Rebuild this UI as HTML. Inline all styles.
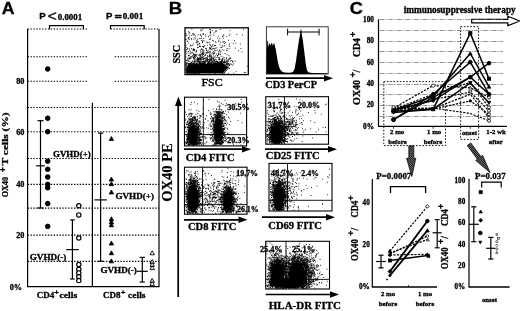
<!DOCTYPE html>
<html><head><meta charset="utf-8"><title>Figure</title>
<style>html,body{margin:0;padding:0;background:#fff;}svg{display:block;}</style></head>
<body><svg width="520" height="311" viewBox="0 0 520 311">
<rect x="0" y="0" width="520" height="311" fill="#fff"/>
<text x="1.8" y="14.2" font-size="16.5" font-family='"Liberation Sans", sans-serif' font-weight="bold" text-anchor="start" textLength="12.8" lengthAdjust="spacingAndGlyphs" stroke="#000" stroke-width="0.3">A</text>
<text x="39.3" y="19.3" font-size="9.6" font-family='"Liberation Sans", sans-serif' font-weight="bold" text-anchor="start" textLength="6.4" lengthAdjust="spacingAndGlyphs" stroke="#000" stroke-width="0.3">P</text>
<text x="47.6" y="21.4" font-size="15" font-family='"Liberation Sans", sans-serif' font-weight="normal" text-anchor="start" textLength="9.4" lengthAdjust="spacingAndGlyphs" stroke="#000" stroke-width="0.2">&lt;</text>
<text x="57.8" y="19.6" font-size="8.7" font-family='"Liberation Serif", serif' font-weight="bold" text-anchor="start" textLength="24.3" lengthAdjust="spacingAndGlyphs" stroke="#000" stroke-width="0.3">0.0001</text>
<text x="106" y="18.6" font-size="9.6" font-family='"Liberation Sans", sans-serif' font-weight="bold" text-anchor="start" textLength="6.4" lengthAdjust="spacingAndGlyphs" stroke="#000" stroke-width="0.3">P</text>
<text x="114.5" y="19.6" font-size="9.5" font-family='"Liberation Sans", sans-serif' font-weight="bold" text-anchor="start" textLength="7.4" lengthAdjust="spacingAndGlyphs" stroke="#000" stroke-width="0.3">=</text>
<text x="122.7" y="18.5" font-size="8.7" font-family='"Liberation Serif", serif' font-weight="bold" text-anchor="start" textLength="20.5" lengthAdjust="spacingAndGlyphs" stroke="#000" stroke-width="0.3">0.001</text>
<polyline points="49.5,29.3 49.5,25.7 83.4,25.7 83.4,29.3" fill="none" stroke="#000" stroke-width="1.2"/>
<polyline points="110.5,29.3 110.5,25.7 144.2,25.7 144.2,29.3" fill="none" stroke="#000" stroke-width="1.2"/>
<line x1="27.60" y1="261.40" x2="159.00" y2="261.40" stroke="#000" stroke-width="1.1" stroke-dasharray="1.4 1.5"/>
<line x1="27.60" y1="235.10" x2="159.00" y2="235.10" stroke="#000" stroke-width="1.1" stroke-dasharray="1.4 1.5"/>
<line x1="27.60" y1="208.10" x2="159.00" y2="208.10" stroke="#000" stroke-width="1.1" stroke-dasharray="1.4 1.5"/>
<line x1="27.60" y1="184.40" x2="159.00" y2="184.40" stroke="#000" stroke-width="1.1" stroke-dasharray="1.4 1.5"/>
<line x1="27.60" y1="158.50" x2="159.00" y2="158.50" stroke="#000" stroke-width="1.1" stroke-dasharray="1.4 1.5"/>
<line x1="27.60" y1="131.70" x2="159.00" y2="131.70" stroke="#000" stroke-width="1.1" stroke-dasharray="1.4 1.5"/>
<line x1="27.60" y1="107.50" x2="159.00" y2="107.50" stroke="#000" stroke-width="1.1" stroke-dasharray="1.4 1.5"/>
<line x1="27.60" y1="81.30" x2="88.00" y2="81.30" stroke="#000" stroke-width="1.1" stroke-dasharray="1.4 1.5"/>
<line x1="114.70" y1="81.30" x2="159.00" y2="81.30" stroke="#000" stroke-width="1.1" stroke-dasharray="1.4 1.5"/>
<line x1="27.60" y1="56.80" x2="88.00" y2="56.80" stroke="#000" stroke-width="1.1" stroke-dasharray="1.4 1.5"/>
<line x1="114.70" y1="56.80" x2="159.00" y2="56.80" stroke="#000" stroke-width="1.1" stroke-dasharray="1.4 1.5"/>
<line x1="27.60" y1="29.00" x2="87.00" y2="29.00" stroke="#000" stroke-width="1.1" stroke-dasharray="1.4 1.5"/>
<line x1="110.50" y1="29.00" x2="159.00" y2="29.00" stroke="#000" stroke-width="1.1" stroke-dasharray="1.4 1.5"/>
<line x1="27.60" y1="29.00" x2="27.60" y2="286.60" stroke="#000" stroke-width="1.2"/>
<line x1="159.00" y1="29.00" x2="159.00" y2="286.60" stroke="#000" stroke-width="1.2"/>
<line x1="27.10" y1="286.60" x2="159.50" y2="286.60" stroke="#000" stroke-width="1.4"/>
<line x1="92.40" y1="102.70" x2="92.40" y2="286.60" stroke="#000" stroke-width="1.2"/>
<text x="24.5" y="84.3" font-size="9" font-family='"Liberation Serif", serif' font-weight="bold" text-anchor="end" textLength="8.3" lengthAdjust="spacingAndGlyphs" stroke="#000" stroke-width="0.3">80</text>
<text x="24.5" y="134.7" font-size="9" font-family='"Liberation Serif", serif' font-weight="bold" text-anchor="end" textLength="8.3" lengthAdjust="spacingAndGlyphs" stroke="#000" stroke-width="0.3">60</text>
<text x="24.5" y="187.4" font-size="9" font-family='"Liberation Serif", serif' font-weight="bold" text-anchor="end" textLength="8.3" lengthAdjust="spacingAndGlyphs" stroke="#000" stroke-width="0.3">40</text>
<text x="24.5" y="238.1" font-size="9" font-family='"Liberation Serif", serif' font-weight="bold" text-anchor="end" textLength="8.3" lengthAdjust="spacingAndGlyphs" stroke="#000" stroke-width="0.3">20</text>
<text x="22" y="289.6" font-size="9" font-family='"Liberation Serif", serif' font-weight="bold" text-anchor="end" textLength="12.3" lengthAdjust="spacingAndGlyphs" stroke="#000" stroke-width="0.3">0%</text>
<text x="8.1" y="197.3" font-size="8.6" font-family='"Liberation Serif", serif' font-weight="bold" text-anchor="start" transform="rotate(-90 8.1 197.3)" textLength="20.3" lengthAdjust="spacingAndGlyphs" stroke="#000" stroke-width="0.3">OX40</text>
<text x="5.5" y="172" font-size="8.5" font-family='"Liberation Sans", sans-serif' font-weight="bold" text-anchor="start" transform="rotate(-90 5.5 172)" stroke="#000" stroke-width="0.3">+</text>
<text x="8.1" y="165.4" font-size="8.6" font-family='"Liberation Serif", serif' font-weight="bold" text-anchor="start" transform="rotate(-90 8.1 165.4)" textLength="53" lengthAdjust="spacingAndGlyphs" stroke="#000" stroke-width="0.3">T cells (%)</text>
<circle cx="47.70" cy="69.00" r="2.3" fill="#000" stroke="#000" stroke-width="1"/>
<circle cx="47.70" cy="118.20" r="2.3" fill="#000" stroke="#000" stroke-width="1"/>
<circle cx="47.70" cy="131.70" r="2.3" fill="#000" stroke="#000" stroke-width="1"/>
<circle cx="47.70" cy="161.20" r="2.3" fill="#000" stroke="#000" stroke-width="1"/>
<circle cx="47.70" cy="169.30" r="2.3" fill="#000" stroke="#000" stroke-width="1"/>
<circle cx="47.70" cy="177.00" r="2.3" fill="#000" stroke="#000" stroke-width="1"/>
<circle cx="47.70" cy="184.40" r="2.3" fill="#000" stroke="#000" stroke-width="1"/>
<circle cx="47.70" cy="187.80" r="2.3" fill="#000" stroke="#000" stroke-width="1"/>
<circle cx="47.70" cy="203.60" r="2.3" fill="#000" stroke="#000" stroke-width="1"/>
<circle cx="47.70" cy="226.40" r="2.3" fill="#000" stroke="#000" stroke-width="1"/>
<line x1="40.50" y1="120.70" x2="40.50" y2="208.00" stroke="#000" stroke-width="1.2"/>
<line x1="37.50" y1="120.70" x2="43.50" y2="120.70" stroke="#000" stroke-width="1.2"/>
<line x1="37.50" y1="208.00" x2="43.50" y2="208.00" stroke="#000" stroke-width="1.2"/>
<line x1="36.10" y1="165.80" x2="44.90" y2="165.80" stroke="#000" stroke-width="1.2"/>
<text x="53" y="156.9" font-size="8.8" font-family='"Liberation Serif", serif' font-weight="bold" text-anchor="start" textLength="37.7" lengthAdjust="spacingAndGlyphs" stroke="#000" stroke-width="0.3">GVHD(+)</text>
<circle cx="78.80" cy="205.80" r="2.15" fill="#fff" stroke="#000" stroke-width="1.2"/>
<circle cx="78.80" cy="214.90" r="2.15" fill="#fff" stroke="#000" stroke-width="1.2"/>
<circle cx="78.80" cy="238.00" r="2.15" fill="#fff" stroke="#000" stroke-width="1.2"/>
<circle cx="78.80" cy="264.50" r="2.15" fill="#fff" stroke="#000" stroke-width="1.2"/>
<circle cx="78.80" cy="269.20" r="2.15" fill="#fff" stroke="#000" stroke-width="1.2"/>
<circle cx="78.80" cy="272.90" r="2.15" fill="#fff" stroke="#000" stroke-width="1.2"/>
<circle cx="78.80" cy="276.70" r="2.15" fill="#fff" stroke="#000" stroke-width="1.2"/>
<circle cx="78.80" cy="280.60" r="2.15" fill="#fff" stroke="#000" stroke-width="1.2"/>
<line x1="72.40" y1="219.90" x2="72.40" y2="279.00" stroke="#000" stroke-width="1.2"/>
<line x1="70.10" y1="219.90" x2="74.70" y2="219.90" stroke="#000" stroke-width="1.2"/>
<line x1="70.10" y1="279.00" x2="74.70" y2="279.00" stroke="#000" stroke-width="1.2"/>
<line x1="66.10" y1="249.60" x2="78.70" y2="249.60" stroke="#000" stroke-width="1.2"/>
<text x="29.7" y="259.7" font-size="8.8" font-family='"Liberation Serif", serif' font-weight="bold" text-anchor="start" textLength="36.7" lengthAdjust="spacingAndGlyphs" stroke="#000" stroke-width="0.3">GVHD(-)</text>
<polygon points="111.40,136.50 109.20,140.46 113.60,140.46" fill="#000" stroke="#000" stroke-width="0.8"/>
<polygon points="111.40,177.10 109.20,181.06 113.60,181.06" fill="#000" stroke="#000" stroke-width="0.8"/>
<polygon points="111.40,181.70 109.20,185.66 113.60,185.66" fill="#000" stroke="#000" stroke-width="0.8"/>
<polygon points="111.40,190.00 109.20,193.96 113.60,193.96" fill="#000" stroke="#000" stroke-width="0.8"/>
<polygon points="111.40,216.80 109.20,220.76 113.60,220.76" fill="#000" stroke="#000" stroke-width="0.8"/>
<polygon points="111.40,219.80 109.20,223.76 113.60,223.76" fill="#000" stroke="#000" stroke-width="0.8"/>
<polygon points="111.40,222.80 109.20,226.76 113.60,226.76" fill="#000" stroke="#000" stroke-width="0.8"/>
<polygon points="111.40,241.10 109.20,245.06 113.60,245.06" fill="#000" stroke="#000" stroke-width="0.8"/>
<polygon points="111.40,250.80 109.20,254.76 113.60,254.76" fill="#000" stroke="#000" stroke-width="0.8"/>
<polygon points="111.40,258.90 109.20,262.86 113.60,262.86" fill="#000" stroke="#000" stroke-width="0.8"/>
<line x1="100.60" y1="133.10" x2="100.60" y2="261.30" stroke="#000" stroke-width="1.2"/>
<line x1="98.00" y1="133.10" x2="103.20" y2="133.10" stroke="#000" stroke-width="1.2"/>
<line x1="98.00" y1="261.30" x2="103.20" y2="261.30" stroke="#000" stroke-width="1.2"/>
<line x1="94.40" y1="199.90" x2="106.80" y2="199.90" stroke="#000" stroke-width="1.2"/>
<text x="115.5" y="198.6" font-size="8.8" font-family='"Liberation Serif", serif' font-weight="bold" text-anchor="start" textLength="38.4" lengthAdjust="spacingAndGlyphs" stroke="#000" stroke-width="0.3">GVHD(+)</text>
<polygon points="152.20,250.80 150.00,254.76 154.40,254.76" fill="#fff" stroke="#000" stroke-width="0.9"/>
<polygon points="152.20,259.50 150.00,263.46 154.40,263.46" fill="#fff" stroke="#000" stroke-width="0.9"/>
<polygon points="152.20,262.40 150.00,266.36 154.40,266.36" fill="#fff" stroke="#000" stroke-width="0.9"/>
<polygon points="152.20,265.70 150.00,269.66 154.40,269.66" fill="#fff" stroke="#000" stroke-width="0.9"/>
<polygon points="152.20,278.40 150.00,282.36 154.40,282.36" fill="#fff" stroke="#000" stroke-width="0.9"/>
<polygon points="152.20,281.40 150.00,285.36 154.40,285.36" fill="#fff" stroke="#000" stroke-width="0.9"/>
<line x1="142.30" y1="257.40" x2="142.30" y2="282.00" stroke="#000" stroke-width="1.2"/>
<line x1="139.70" y1="257.40" x2="144.90" y2="257.40" stroke="#000" stroke-width="1.2"/>
<line x1="139.70" y1="282.00" x2="144.90" y2="282.00" stroke="#000" stroke-width="1.2"/>
<line x1="136.80" y1="271.30" x2="147.80" y2="271.30" stroke="#000" stroke-width="1.2"/>
<text x="100.4" y="273.3" font-size="8.8" font-family='"Liberation Serif", serif' font-weight="bold" text-anchor="start" textLength="36.5" lengthAdjust="spacingAndGlyphs" stroke="#000" stroke-width="0.3">GVHD(-)</text>
<text x="36.7" y="298.3" font-size="9.2" font-family='"Liberation Serif", serif' font-weight="bold" text-anchor="start" textLength="17.5" lengthAdjust="spacingAndGlyphs" stroke="#000" stroke-width="0.3">CD4</text>
<text x="54.3" y="295.3" font-size="8" font-family='"Liberation Sans", sans-serif' font-weight="bold" text-anchor="start" stroke="#000" stroke-width="0.2">+</text>
<text x="59.5" y="298.3" font-size="9.2" font-family='"Liberation Serif", serif' font-weight="bold" text-anchor="start" textLength="17.7" lengthAdjust="spacingAndGlyphs" stroke="#000" stroke-width="0.3">cells</text>
<text x="103" y="298.3" font-size="9.2" font-family='"Liberation Serif", serif' font-weight="bold" text-anchor="start" textLength="17.5" lengthAdjust="spacingAndGlyphs" stroke="#000" stroke-width="0.3">CD8</text>
<text x="120.8" y="295.3" font-size="8" font-family='"Liberation Sans", sans-serif' font-weight="bold" text-anchor="start" stroke="#000" stroke-width="0.2">+</text>
<text x="128" y="298.3" font-size="9.2" font-family='"Liberation Serif", serif' font-weight="bold" text-anchor="start" textLength="17.5" lengthAdjust="spacingAndGlyphs" stroke="#000" stroke-width="0.3">cells</text>
<text x="168.8" y="14" font-size="16.3" font-family='"Liberation Sans", sans-serif' font-weight="bold" text-anchor="start" textLength="13.4" lengthAdjust="spacingAndGlyphs" stroke="#000" stroke-width="0.3">B</text>
<line x1="178.20" y1="104.00" x2="178.20" y2="297.00" stroke="#000" stroke-width="1.7"/>
<polygon points="178.4,96.5 175,106 181.9,106" fill="#000"/>
<text x="172.5" y="201.7" font-size="15.3" font-family='"Liberation Serif", serif' font-weight="bold" text-anchor="start" transform="rotate(-90 172.5 201.7)" textLength="58.5" lengthAdjust="spacingAndGlyphs" stroke="#000" stroke-width="0.2">OX40 PE</text>
<text x="180.3" y="63.6" font-size="9.3" font-family='"Liberation Serif", serif' font-weight="bold" text-anchor="start" transform="rotate(-90 180.3 63.6)" textLength="18.6" lengthAdjust="spacingAndGlyphs" stroke="#000" stroke-width="0.3">SSC</text>
<text x="201.5" y="86" font-size="11" font-family='"Liberation Serif", serif' font-weight="normal" text-anchor="start" textLength="21.2" lengthAdjust="spacingAndGlyphs" stroke="#000" stroke-width="0.4">FSC</text>
<polygon points="186.5,66.5 196,64.8 210,64.5 222,61.8 229.6,67.3 224,73.4 186.5,73.4" fill="#000"/>
<path transform="scale(.1)" d="m1855 354h9m-9 301h9m-9 35h9m-8-87h9m-9 42h9m-9 63h9m-8-233h9m-9 22h9m-9 132h9m-9 19h9m-8 46h9m-8-157h9m-9 131h9m-9 22h9m-9 4h9m-9 30h9m-8-120h9m-7 33h9m-9 16h9m-9 41h9m-9 26h9m-8-368h9m-8 286h9m-9 57h9m-9 13h9m-9 32h9m-8-245h9m-9 172h9m-9 50h9m-8-9h9m-9 5h9m-9 28h9m-8-220h9m-9 161h9m-9 39h9m-8-309h9m-9 209h9m-9 10h9m-9 67h9m-9 11h9m-8 23h9m-8-319h9m-9 188h9m-9 93h9m-8 32h9m-8-244h9m-9 186h9m-9 22h9m-9 13h9m-8-115h9m-9 105h9m-8-206h9m-9 178h9m-8-6h9m-9 22h9m-9 29h9m-8-67h9m-8-256h9m-9 202h9m-9 48h9m-9 36h9m-8-8h9m-8-113h9m-9 113h9m-9 21h9m-9 3h9m-8-45h9m-9 39h9m-8-168h9m-9 142h9m-9 32h9m-9 18h9m-8-328h9m-9 3h9m-9 49h9m-9 124h9m-9 48h9m-9 31h9m-9 21h9m-9 2h9m-9 13h9m-8-354h9m-9 381h9m-9 22h9m-8-150h9m-9 44h9m-9 71h9m-9 15h9m-9 19h9m-8-107h9m-9 41h9m-9 1h9m-9 7h9m-9 10h9m-9 46h9m-9 12h9m-8-79h9m-8-323h9m-9 24h9m-9 181h9m-8-160h9m-9 23h9m-9 195h9m-9 64h9m-9 25h9m-8-122h9m-9 79h9m-9 26h9m-9 18h9m-9 8h9m-9 33h9m-9 11h9m-8-146h9m-9 90h9m-9 4h9m-9 15h9m-9 36h9m-8-241h9m-9 214h9m-8-51h9m-9 8h9m-8-156h9m-9 81h9m-9 50h9m-9 6h9m-9 6h9m-9 19h9m-9 46h9m-9 4h9m-8-385h9m-9 246h9m-9 76h9m-9 36h9m-9 30h9m-8-83h9m-9 20h9m-9 0h9m-8 44h9m-8 9h9m-8-70h9m-9 13h9m-9 3h9m-8-194h9m-9 212h9m-9 17h9m-9 14h9m-9 2h9m-8-125h9m-9 57h9m-9 13h9m-9 23h9m-9 1h9m-9 9h9m-9 27h9m-8-261h9m-9 213h9m-9 13h9m-9 3h9m-8-106h9m-9 96h9m-9 23h9m-8-174h9m-9 21h9m-9 98h9m-9 42h9m-9 41h9m-8-27h9m-9 20h9m-9 1h9m-8-126h9m-9 87h9m-9 39h9m-9 7h9m-8-97h9m-9 0h9m-9 43h9m-9 7h9m-9 50h9m-8-267h9m-9 113h9m-9 53h9m-9 24h9m-9 48h9m-8-166h9m-9 126h9m-9 10h9m-9 6h9m-9 34h9m-8-139h9m-9 78h9m-9 2h9m-9 7h9m-9 12h9m-9 47h9m-8-226h9m-9 141h9m-9 49h9m-9 4h9m-9 13h9m-9 13h9m-9 14h9m-8-334h9m-9 247h9m-9 29h9m-9 5h9m-9 21h9m-9 22h9m-9 16h9m-9 9h9m-8-381h9m-9 298h9m-9 10h9m-9 14h9m-9 25h9m-8-304h9m-9 267h9m-9 40h9m-8-413h9m-9 362h9m-9 17h9m-9 28h9m-9 25h9m-8-31h9m-9 11h9m-9 2h9m-9 34h9m-8-75h9m-9 55h9m-9 13h9m-8-204h9m-9 109h9m-9 54h9m-9 15h9m-8-89h9m-9 54h9m-9 6h9m-9 34h9m-8-142h9m-9 68h9m-9 69h9m-8-368h9m-9 116h9m-8 158h9m-9 32h9m-9 16h9m-9 1h9m-9 26h9m-8-18h9m-9 2h9m-9 0h9m-9 2h9m-9 10h9m-9 4h9m-9 35h9m-8-165h9m-8-50h9m-9 129h9m-9 21h9m-9 35h9m-9 28h9m-8-193h9m-9 124h9m-9 30h9m-9 19h9m-9 3h9m-9 6h9m-9 7h9m-8-10h9m-9 17h9m-8-51h9m-9 3h9m-9 3h9m-8-192h9m-9 137h9m-9 75h9m-9 6h9m-9 10h9m-8-363h9m-9 145h9m-9 79h9m-9 71h9m-9 6h9m-9 9h9m-9 0h9m-9 49h9m-8-75h9m-9 0h9m-9 14h9m-9 25h9m-9 19h9m-8-355h9m-9 163h9m-9 145h9m-9 1h9m-9 34h9m-9 3h9m-9 2h9m-9 1h9m-9 2h9m-8-250h9m-9 235h9m-9 67h9m-8-241h9m-9 79h9m-9 61h9m-9 2h9m-9 49h9m-9 4h9m-9 4h9m-9 1h9m-8-310h9m-9 153h9m-9 5h9m-9 15h9m-9 13h9m-9 6h9m-9 97h9m-9 1h9m-9 58h9m-8-240h9m-9 43h9m-9 9h9m-9 39h9m-9 97h9m-9 8h9m-9 20h9m-8-100h9m-9 29h9m-9 87h9m-8-181h9m-9 40h9m-9 79h9m-9 6h9m-9 25h9m-9 9h9m-8-81h9m-9 33h9m-9 0h9m-9 7h9m-9 48h9m-8-220h9m-9 75h9m-9 19h9m-9 14h9m-9 15h9m-9 70h9m-9 43h9m-8-229h9m-9 62h9m-9 76h9m-9 26h9m-9 8h9m-9 46h9m-9 17h9m-8-89h9m-9 23h9m-9 15h9m-9 8h9m-8-348h9m-9 154h9m-9 70h9m-9 92h9m-9 13h9m-9 1h9m-9 43h9m-8-108h9m-9 3h9m-9 19h9m-9 92h9m-9 9h9m-8-356h9m-9 179h9m-9 125h9m-8-119h9m-9 80h9m-9 67h9m-9 25h9m-8-194h9m-9 116h9m-9 46h9m-9 11h9m-8-68h9m-9 37h9m-9 22h9m-9 4h9m-8-56h9m-9 15h9m-9 6h9m-9 1h9m-8-316h9m-9 196h9m-9 66h9m-9 21h9m-9 49h9m-9 16h9m-8-130h9m-9 71h9m-8 42h9m-8-142h9m-9 138h9m-8-88h9m-9 41h9m-9 4h9m-8-255h9m-9 163h9m-9 109h9m-9 13h9m-8-29h9m-9 5h9m-9 3h9m-9 14h9m-9 54h9m-9 4h9m-8-110h9m-9 57h9m-9 22h9m-9 6h9m-8-273h9m-9 93h9m-9 1h9m-9 123h9m-9 74h9m-8-151h9m-9 37h9m-9 48h9m-9 4h9m-8-7h9m-8-240h9m-9 97h9m-9 150h9m-9 15h9m-9 16h9m-9 22h9m-9 4h9m-9 27h9m-8-227h9m-9 119h9m-9 18h9m-9 59h9m-8-18h9m-9 20h9m-9 14h9m-8-173h9m-8-128h9m-9 198h9m-9 14h9m-9 10h9m-9 29h9m-9 15h9m-8-143h9m-9 41h9m-9 96h9m-7-272h9m-9 179h9m-9 24h9m-9 44h9m-8-2h9m-9 11h9m-9 3h9m-9 41h9m-9 29h9m-8-322h9m-9 25h9m-9 159h9m-9 137h9m-8-98h9m-9 3h9m-9 67h9m-9 2h9m-8-139h9m-9 29h9m-9 67h9m-9 12h9m-9 13h9m-8-220h9m-9 111h9m-9 13h9m-9 46h9m-9 69h9m-8-263h9m-8-58h9m-9 197h9m-9 4h9m-9 12h9m-9 24h9m-9 11h9m-8-201h9m-9 177h9m-9 43h9m-9 24h9m-9 29h9m-8-57h9m-9 10h9m-9 15h9m-8-332h9m-9 240h9m-9 16h9m-9 55h9m-9 22h9m-9 1h9m-9 27h9m-8-291h9m-9 262h9m-9 15h9m-7-111h9m-9 12h9m-9 63h9m-9 2h9m-9 1h9m-9 4h9m-9 6h9m-9 41h9m-8-240h9m-9 115h9m-9 27h9m-8-20h9m-9 13h9m-9 44h9m-9 6h9m-8-14h9m-9 12h9m-9 74h9m-8-150h9m-9 4h9m-9 48h9m-8-82h9m-9 36h9m-9 4h9m-9 55h9m-9 38h9m-8-64h9m-9 66h9m-9 15h9m-9 5h9m-9 11h9m-8-167h9m-9 81h9m-9 81h9m-8-94h9m-9 9h9m-9 44h9m-8-29h9m-9 16h9m-9 8h9m-9 9h9m-9 59h9m-8-144h9m-9 39h9m-9 54h9m-8-246h9m-9 26h9m-9 158h9m-9 22h9m-9 7h9m-9 25h9m-9 7h9m-9 33h9m-8-331h9m-9 49h9m-9 161h9m-9 44h9m-9 16h9m-9 34h9m-9 28h9m-8-78h9m-9 1h9m-9 24h9m-8-211h9m-9 117h9m-9 43h9m-9 11h9m-9 12h9m-9 4h9m-9 17h9m-8-191h9m-9 92h9m-9 63h9m-9 5h9m-9 33h9m-8-83h9m-9 27h9m-9 49h9m-8-111h9m-9 10h9m-9 1h9m-9 110h9m-8-317h9m-9 237h9m-9 13h9m-9 73h9m-9 25h9m-8-190h9m-9 50h9m-9 67h9m-9 15h9m-9 9h9m-9 3h9m-9 14h9m-9 5h9m-8-78h9m-9 43h9m-8-277h9m-9 208h9m-8-95h9m-9 54h9m-9 76h9m-9 130h9m-8-139h9m-9 53h9m-9 5h9m-9 20h9m-9 35h9m-8-400h9m-9 86h9m-9 240h9m-9 38h9m-8-95h9m-9 68h9m-9 12h9m-9 15h9m-8-63h9m-9 9h9m-9 37h9m-8 33h9m-8-371h9m-9 331h9m-9 11h9m-9 3h9m-8-74h9m-9 38h9m-9 19h9m-8-232h9m-9 88h9m-9 158h9m-8-289h9m-9 279h9m-9 10h9m-8-103h9m-9 23h9m-9 65h9m-9 13h9m-9 50h9m-8-319h9m-9 154h9m-9 109h9m-9 5h9m-8-157h9m-9 142h9m-9 10h9m-9 16h9m-9 1h9m-8-362h9m-9 195h9m-9 24h9m-9 76h9m-9 3h9m-9 46h9m-9 32h9m-8-92h9m-8-6h9m-9 83h9m-9 17h9m-9 8h9m-9 2h9m-8-260h9m-9 233h9m-8-318h9m-9 160h9m-9 122h9m-9 43h9m-8-144h9m-9 12h9m-9 96h9m-8-214h9m-9 219h9m-9 34h9m-9 6h9m-9 28h9m-8-237h9m-9 76h9m-9 16h9m-9 18h9m-9 77h9m-9 15h9m-8-241h9m-9 107h9m-8 10h9m-9 105h9m-8-243h9m-9 140h9m-9 70h9m-9 0h9m-8-75h9m-9 86h9m-9 23h9m-9 12h9m-8-375h9m-9 279h9m-9 48h9m-9 2h9m-9 16h9m-9 9h9m-8-142h9m-9 145h9m-8-172h9m-9 117h9m-9 100h9m-8-303h9m-9 133h9m-9 67h9m-9 45h9m-9 4h9m-9 8h9m-9 61h9m-8-365h9m-9 201h9m-9 100h9m-9 2h9m-9 33h9m-9 6h9m-8-215h9m-9 117h9m-9 10h9m-9 44h9m-9 17h9m-9 1h9m-9 10h9m-8-323h9m-9 272h9m-9 37h9m-8-183h9m-9 59h9m-9 40h9m-8-60h9m-9 22h9m-9 75h9m-9 51h9m-9 15h9m-8 45h9m-8-306h9m-9 176h9m-8 39h9m-9 16h9m-9 2h9m-7-60h9m-9 57h9m-9 45h9m-8-228h9m-9 161h9m-9 24h9m-9 1h9m-9 4h9m-8 31h9m-8-126h9m-9 73h9m-9 15h9m-9 15h9m-8-40h9m-9 7h9m-9 1h9m-9 7h9m-9 6h9m-8 27h9m-9 13h9m-9 27h9m-8-114h9m-9 36h9m-9 36h9m-9 8h9m-8-113h9m-9 110h9m-8-1h9m-9 16h9m-7-30h9m-9 2h9m-8-304h9m-9 135h9m-9 106h9m-9 50h9m-9 2h9m-9 20h9m-9 20h9m-8-136h9m-9 103h9m-9 17h9m-9 16h9m-8-313h9m-9 320h9m-8-79h9m-9 4h9m-8-35h9m-9 32h9m-9 58h9m-9 6h9m-8-57h9m-9 39h9m-8-53h9m-9 62h9m-8-181h9m-9 47h9m-9 61h9m-9 51h9m-9 11h9m-8-233h9m-9 70h9m-9 15h9m-9 21h9m-9 1h9m-9 133h9m-9 3h9m-9 28h9m-8-45h9m-9 14h9m-8-68h9m-9 83h9m-8-10h9m-8-89h9m-9 23h9m-9 45h9m-9 4h9m-9 11h9m-9 1h9m-8-20h9m-9 5h9m-9 21h9m-8-162h9m-8 71h9m-9 34h9m-9 46h9m-9 10h9m-9 9h9m-8-91h9m-9 33h9m-9 44h9m-8-208h9m-9 151h9m-9 44h9m-9 14h9m-9 8h9m-9 3h9m-8-86h9m-9 67h9m-8-46h9m-9 24h9m-9 71h9m-8-183h9m-9 7h9m-9 30h9m-9 117h9m-9 38h9m-8-107h9m-9 39h9m-9 2h9m-9 65h9m-8-283h9m-9 166h9m-9 41h9m-8-70h9m-9 26h9m-9 34h9m-9 16h9m-8-218h9m-9 176h9m-9 42h9m-9 21h9m-8-25h9m-8-39h9m-9 36h9m-8-5h9m-9 19h9m-8-139h9m-9 122h9m-9 13h9m-9 12h9m-8-289h9m-9 257h9m-9 39h9m-8-137h9m-9 111h9m-9 19h9m-7-36h9m-9 30h9m-7-26h9m-9 30h9m-9 1h9m-9 5h9m-8-61h9m-8-34h9m-9 46h9m-9 6h9m-9 3h9m-9 14h9m-9 29h9m-9 4h9m-9 4h9m-9 10h9m-8-37h9m-9 7h9m-9 10h9m-8-107h9m-9 62h9m-9 5h9m-8-101h9m-9 38h9m-9 121h9m-8-386h9m-9 186h9m-9 112h9m-8-108h9m-9 119h9m-9 8h9m-9 22h9m-9 50h9m-9 27h9m-8-357h9m-9 42h9m-9 29h9m-9 117h9m-9 41h9m-9 148h9m-8-287h9m-9 99h9m-9 26h9m-9 68h9m-9 23h9m-9 9h9m-9 0h9m-8-272h9m-9 80h9m-9 22h9m-9 72h9m-9 70h9m-8-90h9m-9 72h9m-9 20h9m-9 9h9m-8-323h9m-9 124h9m-9 68h9m-9 90h9m-9 37h9m-8-5h9m-9 10h9m-9 10h9m-8-336h9m-9 159h9m-9 113h9m-9 59h9m-9 2h9m-8-361h9m-9 222h9m-9 42h9m-9 28h9m-9 45h9m-8-253h9m-9 102h9m-9 5h9m-9 107h9m-9 75h9m-8-356h9m-8 37h9m-9 104h9m-9 196h9m-9 35h9m-8-356h9m-9 230h9m-9 36h9m-9 4h9m-9 51h9m-9 4h9m-8-58h9m-9 41h9m-8 3h9m-8-53h9m-9 15h9m-9 14h9m-9 21h9m-9 75h9m-8-139h9m-9 50h9m-9 6h9m-9 9h9m-9 32h9m-8-177h9m-9 101h9m-9 71h9m-8-197h9m-9 155h9m-9 19h9m-9 5h9m-8-70h9m-8-17h9m-9 0h9m-9 30h9m-8 9h9m-9 6h9m-9 26h9m-9 27h9m-9 3h9m-9 0h9m-9 7h9m-8-131h9m-8-73h9m-9 122h9m-8 52h9m-8-147h9m-8-186h9m-9 318h9m-9 72h9m-8-173h9m-9 54h9m-9 86h9m-9 7h9m-9 5h9m-8-86h9m-9 23h9m-9 3h9m-9 86h9m-8-297h9m-8 253h9m-9 11h9m-8-185h9m-9 134h9m-9 24h9m-9 9h9m-8-203h9m-9 222h9m-8-210h9m-9 202h9m-9 8h9m-8-19h9m-8-10h9m-9 4h9m-9 19h9m-9 22h9m-8-146h9m-9 88h9m-8-77h9m-9 98h9m-9 10h9m-9 4h9m-8-31h9m-8-116h9m-9 72h9m-9 6h9m-9 42h9m-9 17h9m-9 10h9m-9 22h9m-9 3h9m-8-335h9m-9 58h9m-9 174h9m-9 86h9m-8-138h9m-9 40h9m-9 47h9m-9 14h9m-9 1h9m-8-148h9m-9 48h9m-9 106h9m-9 19h9m-8-21h9m-8-308h9m-9 314h9m-9 12h9m-9 11h9m-9 27h9m-8-207h9m-9 82h9m-9 35h9m-9 0h9m-9 4h9m-9 1h9m-9 55h9m-9 34h9m-8-50h9m-9 33h9m-9 34h9m-8-112h9m-9 27h9m-9 0h9m-8-127h9m-9 130h9m-9 42h9m-8-30h9m-8-109h9m-9 62h9m-9 21h9m-8-165h9m-9 69h9m-8-64h9m-9 189h9m-8-70h9m-9 56h9m-7 28h9m-9 4h9m-9 70h9m-8-319h9m-8-99h9m-9 164h9m-9 166h9m-9 9h9m-8-98h9m-9 61h9m-9 82h9m-8-68h9m-9 18h9m-8-197h9m-9 228h9m-8-85h9m-9 29h9m-9 22h9m-9 15h9m-8-157h9m-9 109h9m-8-22h9m-9 71h9m-8-357h9m-9 116h9m-8 191h9m-9 18h9m-9 39h9m-8-20h9m-9 14h9m-8-56h9m-8-300h9m-9 231h9m-9 118h9m-8 22h9m-8-202h9m-9 154h9m-9 53h9m-8-54h9m-9 58h9m-8-77h9m-9 26h9m-8-65h9m-9 68h9m-8-26h9m-9 2h9m-9 17h9m-9 26h9m-8-160h9m-8 118h9m-9 12h9m-9 7h9m-8-83h9m-9 64h9m-9 27h9m-8-90h9m-9 94h9m-9 16h9m-9 10h9m-9 7h9m-8-123h9m-8 55h9m-9 11h9m-9 15h9m-9 2h9m-9 33h9m-8-295h9m-9 255h9m-9 39h9m-8-57h9m-9 34h9m-9 32h9m-8-60h9m-7-48h9m-9 57h9m-9 26h9m-7-111h9m-9 107h9m-8-7h9m-9 38h9m-8-148h9m-9 90h9m-9 8h9m-9 16h9m-9 38h9m-8-328h9m-9 176h9m-9 87h9m-9 56h9m-8-278h9m-9 259h9m-8-246h9m-9 97h9m-8 16h9m-9 54h9m-9 12h9m-9 4h9m-9 37h9m-8-88h9m-9 122h9m-8-29h9m-9 30h9m-8-98h9m-9 63h9m-9 3h9m-9 16h9m-9 8h9m-7-20h9m-9 13h9m-7-40h9m-8-114h9m-9 1h9m-9 83h9m-9 10h9m-7-208h9m-9 61h9m-9 142h9m-9 52h9m-9 12h9m-8-16h9m-8-344h9m-9 378h9m-8-55h9m-8 30h9m-9 23h9m-8-126h9m-7-123h9m-9 200h9m-8-106h9m-8-40h9m-9 53h9m-8 89h9m-7-55h9m-9 79h9m-8-19h9m-8-1h9m-9 15h9m-9 55h9m-8-53h9m-9 29h9m-8-60h9m-9 18h9m-8-13h9m-9 19h9m-9 32h9m-8-189h9m-9 127h9m-9 19h9m-9 26h9m-9 1h9m-6-48h9m-9 73h9m-9 5h9m-8-218h9m-9 39h9m-9 111h9m-9 38h9m-8-49h9m-9 51h9m-8-63h9m-8 19h9m-9 57h9m-8-297h9m-9 223h9m-9 27h9m-9 61h9m-9 55h9m-8-84h9m-8-5h9m-8-22h9m-9 6h9m-9 14h9m-9 36h9m-8-217h9m-9 199h9m-8-245h9m-8 157h9m-9 21h9m-8-211h9m-9 41h9m-9 203h9m-8-267h9m-9 272h9m-9 4h9m-9 2h9m-8 20h9m-7-30h9m-7-279h9m-9 156h9m-9 115h9m-9 1h9m-9 30h9m-9 38h9m-9 27h9m-7-73h9m-8 29h9m-8-92h9m-9 158h9m-8-299h9m-9 215h9m-8-40h9m-9 16h9m-9 23h9m-8-34h9m-8-201h9m-9 42h9m-8 142h9m-9 24h9m-9 20h9m-8-43h9m-8 23h9m-8-89h9m-8 123h9m-9 23h9m-8-23h9m-8-36h9m-9 25h9m-9 1h9m-8-221h9m-9 251h9m-7-7h9m-7-29h9m-7-18h9m-9 26h9m-8-31h9m-8 1h9m-8-39h9m-8-1h9m-8 59h9m-8-32h9m-8-243h9m-9 138h9m-9 134h9m-9 15h9m-8 14h9m-8-161h9m-9 89h9m-9 47h9m-8-12h9m-8-142h9m-9 61h9m-9 70h9m-8-8h9m-9 52h9m-7-16h9m-8 33h9m-8-49h9m-9 9h9m-9 43h9m-5-7h9m-8-68h9m-8 10h9m-9 118h9m-7-331h9m-8 234h9m-8 10h9m-8-13h9m-8-40h9m-9 59h9m-8-64h9m-9 9h9m-8-147h9m-9 37h9m-9 69h9m-9 87h9m-8-290h9m-5 85h9m-8 245h9m-8-219h9m-9 115h9m-9 72h9m-9 1h9m-7-347h9m-7 33h9m-9 244h9m-8 55h9m-7-53h9m-9 24h9m0 34h9m-5-37h9m-3 12h9m-7 0h9m-8 33h9m-4-37h9m-8-178h9m-6 203h9m-6 93h9m-3-326h9m-2 204h9m-8-129h9m-4-51h9m-5 287h9m-2-373h9m9 162h9m8-67h9m-3 46h9m1 33h9m-4-168h9m0-56h9m1 432h9m4-2h9m7-61h9" stroke="#000" stroke-width="9" fill="none"/>
<polyline points="222.5,62.5 228.6,67.3 223.5,72.6" fill="none" stroke="#fff" stroke-width="0.5"/>
<rect x="185.00" y="27.80" width="63.30" height="46.80" fill="none" stroke="#000" stroke-width="1.3"/>
<line x1="185.00" y1="33.65" x2="186.60" y2="33.65" stroke="#000" stroke-width="0.7"/>
<line x1="185.00" y1="39.50" x2="186.60" y2="39.50" stroke="#000" stroke-width="0.7"/>
<line x1="185.00" y1="45.35" x2="186.60" y2="45.35" stroke="#000" stroke-width="0.7"/>
<line x1="185.00" y1="51.20" x2="186.60" y2="51.20" stroke="#000" stroke-width="0.7"/>
<line x1="185.00" y1="57.05" x2="186.60" y2="57.05" stroke="#000" stroke-width="0.7"/>
<line x1="185.00" y1="62.90" x2="186.60" y2="62.90" stroke="#000" stroke-width="0.7"/>
<line x1="185.00" y1="68.75" x2="186.60" y2="68.75" stroke="#000" stroke-width="0.7"/>
<rect x="266.40" y="26.80" width="61.80" height="47.20" fill="none" stroke="#222" stroke-width="0.9"/>
<line x1="266.00" y1="78.20" x2="325.00" y2="78.20" stroke="#000" stroke-width="1.7"/>
<polygon points="333.00,78.20 324.00,75.00 324.00,81.40" fill="#000"/>
<text x="265.3" y="88.3" font-size="10" font-family='"Liberation Serif", serif' font-weight="bold" text-anchor="start" textLength="51.7" lengthAdjust="spacingAndGlyphs" stroke="#000" stroke-width="0.3">CD3 PerCP</text>
<path d="M266.6,74 L266.8,52 L267.3,41 L267.9,40.5 L268.4,47 L269,44.5 L269.8,43 L270.5,46 L271.2,43.5 L272,42.8 L272.8,46 L273.5,43.8 L274.3,43.2 L275,46.5 L275.8,49.5 L276.6,54.5 L277.6,60.5 L278.7,65.5 L280,69.3 L282,71.6 L284,72.5 L290,72.8 L293,72 L294.5,69 L296,61 L297.5,50 L299,40 L300.3,32.5 L300.9,30.6 L301.5,32.5 L302.8,40 L304.2,51 L305.5,62 L306.8,69.5 L308.2,72.2 L312,73 L327.5,73.3 L327.5,74 Z" fill="#000"/>
<line x1="287.60" y1="32.00" x2="319.10" y2="32.00" stroke="#000" stroke-width="1"/>
<line x1="287.60" y1="28.70" x2="287.60" y2="35.40" stroke="#000" stroke-width="1"/>
<line x1="319.10" y1="28.70" x2="319.10" y2="35.40" stroke="#000" stroke-width="1"/>
<line x1="301.00" y1="29.50" x2="301.00" y2="33.00" stroke="#000" stroke-width="0.9"/>
<ellipse cx="192.8" cy="135.5" rx="4.8" ry="9.5" fill="#000" opacity="1"/>
<ellipse cx="218" cy="131" rx="3.7" ry="12" fill="#000" opacity="1"/>
<path transform="scale(.1)" d="m1850 1278h9m-7-157h9m-9 81h9m-9 74h9m-7-85h9m-8 76h9m-9 51h9m-9 106h9m-8-1h9m-9 16h9m-8-294h9m-9 278h9m-9 9h9m-8-201h9m-7 196h9m-8 10h9m-8-190h9m-9 71h9m-8-75h9m-9 118h9m-9 38h9m-7-14h9m-9 17h9m-9 9h9m-8-112h9m-9 42h9m-9 11h9m-9 6h9m-9 6h9m-8 34h9m-8-28h9m-9 21h9m-9 7h9m-9 7h9m-9 16h9m-8-199h9m-9 50h9m-9 111h9m-9 2h9m-8-163h9m-9 52h9m-8-54h9m-9 198h9m-9 9h9m-9 3h9m-8-61h9m-8-204h9m-9 48h9m-9 33h9m-9 87h9m-9 33h9m-9 22h9m-8-143h9m-9 33h9m-9 121h9m-9 20h9m-9 1h9m-8-125h9m-9 51h9m-9 28h9m-9 3h9m-9 14h9m-9 4h9m-8-146h9m-9 20h9m-9 80h9m-9 36h9m-9 26h9m-9 31h9m-8-197h9m-9 58h9m-9 17h9m-8-110h9m-9 25h9m-9 34h9m-9 6h9m-9 87h9m-9 88h9m-8-173h9m-9 75h9m-9 17h9m-9 77h9m-9 1h9m-8-148h9m-9 31h9m-9 113h9m-9 2h9m-8-185h9m-9 20h9m-9 3h9m-9 35h9m-9 13h9m-9 18h9m-9 68h9m-9 10h9m-9 14h9m-8-48h9m-9 52h9m-8-259h9m-9 126h9m-9 10h9m-9 109h9m-9 16h9m-8-214h9m-9 73h9m-9 2h9m-9 73h9m-9 6h9m-9 0h9m-8-238h9m-9 104h9m-9 7h9m-9 87h9m-9 30h9m-9 32h9m-8-310h9m-9 46h9m-9 76h9m-9 40h9m-9 124h9m-9 2h9m-9 22h9m-9 33h9m-8-304h9m-9 58h9m-9 171h9m-9 10h9m-9 61h9m-8-238h9m-9 102h9m-9 12h9m-9 49h9m-9 35h9m-9 14h9m-8-159h9m-9 24h9m-9 33h9m-9 21h9m-9 5h9m-9 19h9m-9 22h9m-9 20h9m-9 9h9m-8-185h9m-9 49h9m-9 76h9m-9 9h9m-9 89h9m-8-216h9m-9 4h9m-9 7h9m-9 46h9m-9 25h9m-9 29h9m-9 25h9m-9 12h9m-9 9h9m-9 11h9m-9 2h9m-8-219h9m-9 15h9m-9 102h9m-9 16h9m-9 45h9m-9 6h9m-9 6h9m-9 23h9m-9 4h9m-9 12h9m-9 3h9m-9 0h9m-9 6h9m-8-186h9m-9 2h9m-9 1h9m-9 84h9m-9 64h9m-9 5h9m-9 15h9m-9 43h9m-8-147h9m-9 36h9m-9 36h9m-9 32h9m-9 21h9m-8-285h9m-9 60h9m-9 34h9m-9 24h9m-9 10h9m-9 16h9m-9 13h9m-9 2h9m-9 18h9m-9 11h9m-9 12h9m-9 7h9m-9 4h9m-9 48h9m-9 6h9m-9 9h9m-9 7h9m-8-141h9m-9 20h9m-9 13h9m-9 37h9m-9 23h9m-9 21h9m-9 30h9m-9 6h9m-9 3h9m-9 9h9m-9 11h9m-8-288h9m-9 32h9m-9 84h9m-9 48h9m-9 23h9m-9 13h9m-9 2h9m-9 36h9m-9 11h9m-9 29h9m-9 7h9m-8-237h9m-9 26h9m-9 13h9m-9 31h9m-9 22h9m-9 4h9m-9 7h9m-9 16h9m-9 20h9m-9 14h9m-9 35h9m-9 15h9m-9 16h9m-8-229h9m-9 26h9m-9 25h9m-9 64h9m-9 10h9m-9 16h9m-9 42h9m-9 20h9m-9 9h9m-8-226h9m-9 63h9m-9 51h9m-9 8h9m-9 8h9m-9 22h9m-9 12h9m-9 1h9m-9 11h9m-9 9h9m-9 4h9m-9 13h9m-9 0h9m-9 7h9m-9 17h9m-9 20h9m-8-300h9m-9 127h9m-9 42h9m-9 3h9m-9 3h9m-9 16h9m-9 26h9m-9 75h9m-8-200h9m-9 101h9m-9 2h9m-9 18h9m-9 4h9m-9 10h9m-9 6h9m-9 8h9m-9 5h9m-9 23h9m-9 7h9m-9 9h9m-9 9h9m-8-382h9m-9 87h9m-9 83h9m-9 22h9m-9 3h9m-9 103h9m-9 29h9m-9 7h9m-9 6h9m-9 2h9m-9 8h9m-9 6h9m-9 21h9m-8-186h9m-9 18h9m-9 114h9m-9 57h9m-9 10h9m-8-221h9m-9 23h9m-9 9h9m-9 0h9m-9 84h9m-9 25h9m-9 9h9m-9 3h9m-9 7h9m-9 21h9m-9 21h9m-8-318h9m-9 101h9m-9 23h9m-9 12h9m-9 31h9m-9 12h9m-9 3h9m-9 2h9m-9 6h9m-9 9h9m-9 6h9m-9 19h9m-9 2h9m-9 5h9m-9 0h9m-9 3h9m-9 14h9m-9 24h9m-9 30h9m-9 9h9m-9 7h9m-9 14h9m-8-217h9m-9 57h9m-9 7h9m-9 0h9m-9 15h9m-9 23h9m-9 2h9m-9 9h9m-9 7h9m-9 41h9m-9 17h9m-9 7h9m-9 7h9m-9 12h9m-9 16h9m-9 2h9m-9 1h9m-9 1h9m-8-292h9m-9 8h9m-9 61h9m-9 126h9m-9 2h9m-9 33h9m-9 41h9m-8-181h9m-9 8h9m-9 16h9m-9 26h9m-9 9h9m-9 6h9m-9 16h9m-9 11h9m-9 11h9m-9 13h9m-9 3h9m-9 8h9m-9 5h9m-9 6h9m-9 1h9m-9 9h9m-9 3h9m-9 11h9m-9 2h9m-9 0h9m-9 18h9m-8-282h9m-9 106h9m-9 9h9m-9 28h9m-9 27h9m-9 19h9m-9 2h9m-9 12h9m-9 2h9m-9 30h9m-9 14h9m-9 3h9m-9 11h9m-9 21h9m-8-395h9m-9 141h9m-9 113h9m-9 6h9m-9 12h9m-9 11h9m-9 11h9m-9 8h9m-9 4h9m-9 5h9m-9 11h9m-9 28h9m-9 13h9m-9 58h9m-8-259h9m-9 39h9m-9 45h9m-9 16h9m-9 4h9m-9 7h9m-9 18h9m-9 19h9m-9 29h9m-9 3h9m-9 27h9m-9 5h9m-9 3h9m-8-91h9m-9 17h9m-9 9h9m-9 53h9m-9 2h9m-9 17h9m-9 3h9m-9 3h9m-9 2h9m-9 22h9m-8-243h9m-9 46h9m-9 3h9m-9 26h9m-9 9h9m-9 23h9m-9 2h9m-9 30h9m-9 28h9m-9 6h9m-9 3h9m-9 15h9m-8-181h9m-9 16h9m-9 46h9m-9 15h9m-9 40h9m-9 31h9m-9 25h9m-9 14h9m-8-194h9m-9 20h9m-9 16h9m-9 16h9m-9 1h9m-9 22h9m-9 1h9m-9 2h9m-9 20h9m-9 34h9m-9 15h9m-9 7h9m-9 9h9m-9 0h9m-9 7h9m-9 4h9m-9 17h9m-9 0h9m-9 38h9m-9 5h9m-8-234h9m-9 3h9m-9 78h9m-9 1h9m-9 3h9m-9 5h9m-9 44h9m-9 10h9m-9 7h9m-9 44h9m-9 56h9m-8-252h9m-9 43h9m-9 64h9m-9 21h9m-9 33h9m-9 24h9m-9 8h9m-8-188h9m-9 28h9m-9 36h9m-9 0h9m-9 14h9m-9 67h9m-9 41h9m-9 4h9m-9 2h9m-9 19h9m-9 2h9m-9 7h9m-9 25h9m-8-309h9m-9 37h9m-9 20h9m-9 21h9m-9 76h9m-9 58h9m-9 1h9m-9 9h9m-9 15h9m-9 29h9m-9 8h9m-9 1h9m-9 30h9m-8-256h9m-9 13h9m-9 135h9m-9 45h9m-9 4h9m-9 8h9m-9 3h9m-9 12h9m-9 42h9m-8-248h9m-9 11h9m-9 14h9m-9 49h9m-9 47h9m-9 13h9m-8-68h9m-9 31h9m-9 44h9m-9 34h9m-9 22h9m-9 8h9m-9 32h9m-9 14h9m-8-205h9m-9 5h9m-9 9h9m-9 2h9m-9 6h9m-9 23h9m-9 2h9m-9 8h9m-9 14h9m-9 12h9m-9 7h9m-9 3h9m-9 5h9m-9 3h9m-9 31h9m-9 2h9m-9 12h9m-9 12h9m-9 20h9m-9 22h9m-8-264h9m-9 20h9m-9 26h9m-9 22h9m-9 35h9m-9 32h9m-9 6h9m-9 4h9m-9 1h9m-9 24h9m-9 5h9m-9 15h9m-9 8h9m-9 6h9m-9 5h9m-9 0h9m-9 1h9m-9 13h9m-9 10h9m-9 3h9m-9 13h9m-9 13h9m-8-219h9m-9 45h9m-9 5h9m-9 7h9m-9 6h9m-9 4h9m-9 4h9m-9 7h9m-9 37h9m-9 1h9m-9 6h9m-9 2h9m-9 5h9m-9 9h9m-9 14h9m-9 4h9m-9 19h9m-9 3h9m-9 31h9m-8-261h9m-9 23h9m-9 71h9m-9 4h9m-9 10h9m-9 81h9m-9 14h9m-9 11h9m-9 15h9m-9 3h9m-8-144h9m-9 0h9m-9 18h9m-9 25h9m-9 8h9m-9 5h9m-9 39h9m-9 23h9m-9 5h9m-9 9h9m-9 5h9m-9 10h9m-9 6h9m-9 0h9m-9 9h9m-8-215h9m-9 25h9m-9 20h9m-9 12h9m-9 14h9m-9 7h9m-9 13h9m-9 27h9m-9 13h9m-9 25h9m-9 3h9m-9 4h9m-9 21h9m-9 13h9m-9 21h9m-9 13h9m-9 1h9m-9 15h9m-8-253h9m-9 35h9m-9 31h9m-9 0h9m-9 13h9m-9 36h9m-9 14h9m-9 6h9m-9 4h9m-9 7h9m-9 6h9m-9 0h9m-9 12h9m-9 9h9m-9 3h9m-9 16h9m-9 19h9m-9 8h9m-9 6h9m-9 3h9m-8-144h9m-9 1h9m-9 37h9m-9 36h9m-9 32h9m-9 17h9m-9 20h9m-9 10h9m-8-269h9m-9 135h9m-9 20h9m-9 5h9m-9 3h9m-9 67h9m-9 1h9m-9 5h9m-9 3h9m-9 13h9m-8-181h9m-9 6h9m-9 2h9m-9 37h9m-9 1h9m-9 39h9m-9 4h9m-9 2h9m-9 15h9m-9 4h9m-9 11h9m-9 14h9m-9 6h9m-9 13h9m-8-131h9m-9 2h9m-9 9h9m-9 72h9m-9 29h9m-9 3h9m-9 14h9m-9 2h9m-9 5h9m-9 52h9m-8-273h9m-9 26h9m-9 64h9m-9 17h9m-9 17h9m-9 6h9m-9 11h9m-9 32h9m-9 3h9m-9 3h9m-9 17h9m-9 1h9m-9 0h9m-9 1h9m-9 11h9m-9 33h9m-9 4h9m-9 8h9m-9 20h9m-8-269h9m-9 48h9m-9 21h9m-9 6h9m-9 11h9m-9 1h9m-9 78h9m-9 11h9m-9 1h9m-9 1h9m-9 7h9m-9 1h9m-9 8h9m-9 5h9m-9 11h9m-9 7h9m-9 46h9m-8-265h9m-9 51h9m-9 60h9m-9 11h9m-9 20h9m-9 10h9m-9 6h9m-9 16h9m-9 12h9m-9 9h9m-9 3h9m-9 1h9m-9 1h9m-9 10h9m-9 2h9m-9 7h9m-9 15h9m-8-162h9m-9 9h9m-9 5h9m-9 13h9m-9 6h9m-9 6h9m-9 17h9m-9 12h9m-9 5h9m-9 6h9m-9 6h9m-9 9h9m-9 59h9m-9 0h9m-9 11h9m-9 13h9m-9 12h9m-8-278h9m-9 14h9m-9 77h9m-9 15h9m-9 6h9m-9 26h9m-9 24h9m-9 6h9m-9 3h9m-9 11h9m-9 7h9m-9 3h9m-9 24h9m-9 15h9m-8-372h9m-9 208h9m-9 42h9m-9 49h9m-9 9h9m-9 7h9m-9 47h9m-9 2h9m-9 18h9m-9 16h9m-9 30h9m-8-209h9m-9 16h9m-9 34h9m-9 13h9m-9 2h9m-9 11h9m-9 13h9m-9 10h9m-9 15h9m-9 9h9m-9 0h9m-9 15h9m-9 1h9m-9 31h9m-9 3h9m-8-243h9m-9 169h9m-9 16h9m-9 4h9m-9 45h9m-9 20h9m-9 6h9m-9 9h9m-8-257h9m-9 1h9m-9 27h9m-9 21h9m-9 48h9m-9 8h9m-9 39h9m-9 9h9m-9 12h9m-9 14h9m-9 9h9m-9 13h9m-9 8h9m-9 28h9m-9 7h9m-8-247h9m-9 21h9m-9 62h9m-9 31h9m-9 61h9m-9 6h9m-9 2h9m-9 22h9m-9 6h9m-9 6h9m-9 3h9m-8-88h9m-9 18h9m-9 25h9m-9 2h9m-9 49h9m-9 24h9m-8-242h9m-9 2h9m-9 22h9m-9 53h9m-9 2h9m-9 25h9m-9 36h9m-9 30h9m-9 7h9m-9 19h9m-9 51h9m-9 9h9m-8-133h9m-9 5h9m-9 17h9m-9 11h9m-9 9h9m-9 3h9m-9 0h9m-9 11h9m-9 0h9m-9 2h9m-9 14h9m-9 18h9m-9 9h9m-9 8h9m-9 11h9m-9 5h9m-9 6h9m-9 3h9m-8-249h9m-9 33h9m-9 6h9m-9 30h9m-9 24h9m-9 22h9m-9 23h9m-9 12h9m-9 3h9m-9 15h9m-9 14h9m-9 36h9m-9 1h9m-9 5h9m-9 15h9m-9 2h9m-8-234h9m-9 30h9m-9 58h9m-9 2h9m-9 11h9m-9 12h9m-9 25h9m-9 17h9m-9 14h9m-9 1h9m-9 13h9m-9 9h9m-9 3h9m-9 0h9m-9 8h9m-8-98h9m-9 2h9m-9 14h9m-9 4h9m-9 16h9m-9 18h9m-9 5h9m-9 29h9m-9 4h9m-8-231h9m-9 7h9m-9 81h9m-9 36h9m-9 32h9m-9 5h9m-9 20h9m-9 17h9m-9 33h9m-9 1h9m-9 13h9m-9 3h9m-8-89h9m-9 2h9m-9 56h9m-9 8h9m-9 2h9m-9 28h9m-9 1h9m-9 7h9m-9 15h9m-8-259h9m-9 74h9m-9 12h9m-9 48h9m-9 20h9m-9 43h9m-9 27h9m-9 5h9m-8-191h9m-9 79h9m-9 3h9m-9 18h9m-9 56h9m-9 9h9m-9 17h9m-9 23h9m-8-286h9m-9 196h9m-9 9h9m-9 1h9m-9 3h9m-9 28h9m-9 22h9m-9 21h9m-9 9h9m-8-202h9m-9 48h9m-9 13h9m-9 71h9m-9 53h9m-9 1h9m-9 1h9m-9 30h9m-8-243h9m-9 41h9m-9 54h9m-9 7h9m-9 7h9m-9 3h9m-9 41h9m-9 2h9m-9 27h9m-9 8h9m-9 1h9m-8-196h9m-9 45h9m-9 23h9m-9 15h9m-9 21h9m-9 14h9m-9 13h9m-9 21h9m-9 0h9m-9 13h9m-9 12h9m-9 4h9m-9 21h9m-9 2h9m-9 7h9m-9 13h9m-9 15h9m-8-210h9m-9 71h9m-9 1h9m-9 21h9m-9 23h9m-9 47h9m-9 29h9m-8-199h9m-9 18h9m-9 20h9m-9 91h9m-9 14h9m-9 2h9m-9 3h9m-9 25h9m-9 1h9m-8-161h9m-9 58h9m-9 12h9m-9 7h9m-9 18h9m-9 13h9m-9 29h9m-9 11h9m-9 7h9m-9 3h9m-9 1h9m-9 10h9m-9 11h9m-9 12h9m-9 13h9m-8-189h9m-9 31h9m-9 22h9m-9 25h9m-9 15h9m-9 6h9m-9 72h9m-9 5h9m-9 22h9m-8-345h9m-9 180h9m-9 8h9m-8-85h9m-9 2h9m-9 4h9m-9 56h9m-9 41h9m-9 59h9m-9 12h9m-9 23h9m-9 2h9m-9 3h9m-9 18h9m-8-228h9m-9 177h9m-9 16h9m-9 6h9m-9 46h9m-8-231h9m-9 58h9m-9 49h9m-9 13h9m-9 5h9m-9 14h9m-9 8h9m-9 20h9m-9 18h9m-9 29h9m-8-164h9m-9 15h9m-9 10h9m-9 23h9m-9 14h9m-9 28h9m-9 7h9m-9 0h9m-9 44h9m-9 17h9m-9 22h9m-9 3h9m-8-249h9m-9 33h9m-9 53h9m-9 15h9m-9 38h9m-9 31h9m-9 16h9m-8-213h9m-9 26h9m-9 77h9m-9 152h9m-9 7h9m-8-147h9m-9 4h9m-9 17h9m-9 7h9m-9 16h9m-9 48h9m-8-214h9m-9 30h9m-9 45h9m-9 161h9m-9 29h9m-8-389h9m-9 235h9m-9 1h9m-9 45h9m-9 22h9m-9 13h9m-9 74h9m-9 8h9m-8-189h9m-9 9h9m-9 160h9m-8-282h9m-9 251h9m-8-70h9m-9 4h9m-9 81h9m-9 40h9m-9 7h9m-8-152h9m-9 3h9m-9 23h9m-8-83h9m-9 45h9m-9 23h9m-9 92h9m-9 7h9m-8-162h9m-9 5h9m-9 43h9m-9 83h9m-9 31h9m-8-156h9m-9 40h9m-9 8h9m-9 16h9m-9 20h9m-9 6h9m-9 32h9m-8-106h9m-9 1h9m-9 6h9m-9 2h9m-9 38h9m-9 40h9m-9 75h9m-9 6h9m-8-155h9m-9 21h9m-9 106h9m-9 31h9m-8-94h9m-9 37h9m-9 28h9m-9 22h9m-8-184h9m-9 128h9m-8-137h9m-9 62h9m-9 77h9m-9 32h9m-9 4h9m-8-298h9m-9 104h9m-9 46h9m-9 33h9m-9 69h9m-9 4h9m-9 15h9m-9 11h9m-8-187h9m-9 4h9m-9 11h9m-9 62h9m-9 42h9m-9 17h9m-9 44h9m-7-209h9m-9 199h9m-9 50h9m-9 6h9m-8-135h9m-9 16h9m-9 8h9m-9 1h9m-9 76h9m-9 15h9m-8-61h9m-9 34h9m-8-133h9m-9 12h9m-9 156h9m-9 27h9m-8-297h9m-9 240h9m-8 17h9m-9 26h9m-8-115h9m-9 12h9m-9 31h9m-9 26h9m-9 53h9m-8-155h9m-9 87h9m-9 29h9m-8-224h9m-9 151h9m-9 68h9m-8-189h9m-9 125h9m-8-113h9m-9 89h9m-8-69h9m-9 87h9m-9 62h9m-9 4h9m-9 10h9m-8-251h9m-9 111h9m-9 107h9m-8 55h9m-9 1h9m-8-266h9m-9 138h9m-9 41h9m-9 90h9m-8-160h9m-9 8h9m-8 30h9m-9 88h9m-8 9h9m-8 0h9m-8-244h9m-8 172h9m-8 61h9m-9 48h9m-7-110h9m-9 34h9m-7-88h9m-9 121h9m-8 26h9m-7 12h9m-4-172h9m-9 98h9m-9 12h9m-8-98h9m-6-135h9m-7-55h9m-9 48h9m-9 0h9m-6-125h9m-7 239h9m-4 30h9m-9 87h9m-6-140h9m-5 209h9m-8-71h9m-6 20h9m-7-197h9m-9 188h9m-8-185h9m-3 234h9m-7-147h9m-6-123h9m-8 224h9m-7 40h9m2-212h9m-7 132h9m-8-58h9m-8-175h9m-3-112h9m-8 257h9m-1 122h9m-8-133h9m-6 104h9m-8-54h9m-8-168h9m-9 230h9m-9 39h9m-8-246h9m-9 42h9m-9 73h9m-8-120h9m-8 245h9m-8-158h9m-9 40h9m-9 117h9m-8-202h9m-8 38h9m-9 36h9m-9 69h9m-8-189h9m-7 240h9m-8-213h9m-8 45h9m-9 5h9m-8 134h9m-8-83h9m-8 28h9m-8 36h9m-9 22h9m-9 64h9m-8-213h9m-8-30h9m-9 211h9m-8-203h9m-9 31h9m-9 133h9m-9 54h9m-8-190h9m-9 78h9m-9 60h9m-9 16h9m-9 43h9m-9 46h9m-7-208h9m-9 109h9m-9 17h9m-8-179h9m-8-7h9m-7 7h9m-9 9h9m-9 8h9m-9 30h9m-9 62h9m-8-22h9m-9 6h9m-9 27h9m-9 33h9m-9 26h9m-8-278h9m-9 162h9m-9 58h9m-9 102h9m-8-145h9m-9 63h9m-8-127h9m-9 4h9m-9 32h9m-9 36h9m-9 31h9m-8-110h9m-9 61h9m-9 150h9m-8-185h9m-9 229h9m-9 1h9m-8-337h9m-9 64h9m-9 114h9m-8-138h9m-9 21h9m-9 38h9m-9 7h9m-9 20h9m-9 79h9m-9 74h9m-9 1h9m-8-206h9m-9 58h9m-9 46h9m-8-23h9m-9 14h9m-9 56h9m-9 35h9m-8-231h9m-9 37h9m-8-37h9m-9 99h9m-9 59h9m-9 16h9m-9 20h9m-9 8h9m-9 3h9m-9 19h9m-9 16h9m-9 1h9m-9 52h9m-8-28h9m-9 14h9m-8-181h9m-9 135h9m-9 12h9m-9 57h9m-8-202h9m-9 24h9m-9 81h9m-9 4h9m-8-211h9m-9 67h9m-9 48h9m-9 19h9m-9 90h9m-9 10h9m-9 11h9m-8-167h9m-9 38h9m-9 42h9m-9 5h9m-9 17h9m-9 115h9m-8-194h9m-9 18h9m-9 29h9m-9 0h9m-9 6h9m-9 81h9m-8-256h9m-9 111h9m-9 42h9m-9 43h9m-9 19h9m-8-178h9m-9 3h9m-9 85h9m-9 14h9m-9 3h9m-9 74h9m-9 36h9m-9 63h9m-9 17h9m-8-313h9m-9 38h9m-9 46h9m-9 97h9m-9 12h9m-9 27h9m-9 26h9m-9 22h9m-8-296h9m-9 80h9m-9 16h9m-9 67h9m-9 23h9m-9 5h9m-9 27h9m-8-187h9m-9 29h9m-9 37h9m-9 23h9m-9 23h9m-9 96h9m-9 73h9m-8-251h9m-9 61h9m-9 49h9m-9 4h9m-9 45h9m-9 29h9m-9 16h9m-9 15h9m-9 7h9m-8-220h9m-9 21h9m-9 19h9m-9 4h9m-9 6h9m-9 11h9m-9 4h9m-9 8h9m-9 28h9m-9 6h9m-9 20h9m-9 38h9m-9 4h9m-9 28h9m-9 13h9m-8-227h9m-9 58h9m-9 91h9m-9 11h9m-9 23h9m-9 9h9m-9 4h9m-9 6h9m-9 35h9m-9 8h9m-9 35h9m-8-272h9m-9 22h9m-9 25h9m-9 2h9m-9 21h9m-9 4h9m-9 10h9m-9 27h9m-9 49h9m-9 27h9m-9 70h9m-9 6h9m-9 4h9m-8-200h9m-9 70h9m-9 22h9m-9 77h9m-8-254h9m-9 23h9m-9 69h9m-9 12h9m-9 6h9m-9 34h9m-9 36h9m-9 10h9m-9 48h9m-8-229h9m-9 8h9m-9 40h9m-9 13h9m-9 12h9m-9 20h9m-9 0h9m-9 5h9m-9 27h9m-9 7h9m-9 8h9m-9 9h9m-9 11h9m-9 9h9m-9 37h9m-9 1h9m-9 1h9m-9 12h9m-9 24h9m-8-296h9m-9 40h9m-9 81h9m-9 33h9m-9 71h9m-9 16h9m-9 36h9m-9 12h9m-9 13h9m-8-242h9m-9 29h9m-9 42h9m-9 22h9m-9 73h9m-9 5h9m-9 6h9m-9 23h9m-9 8h9m-9 34h9m-9 22h9m-9 4h9m-8-315h9m-9 103h9m-9 18h9m-9 13h9m-9 35h9m-9 53h9m-9 59h9m-9 25h9m-9 4h9m-8-340h9m-9 35h9m-9 28h9m-9 27h9m-9 55h9m-9 60h9m-9 1h9m-9 2h9m-9 31h9m-9 7h9m-9 17h9m-9 23h9m-9 5h9m-9 4h9m-8-150h9m-9 8h9m-9 16h9m-9 4h9m-9 8h9m-9 40h9m-9 16h9m-9 8h9m-9 1h9m-9 6h9m-9 12h9m-9 7h9m-9 31h9m-9 1h9m-8-306h9m-9 78h9m-9 21h9m-9 18h9m-9 6h9m-9 35h9m-9 10h9m-9 2h9m-9 59h9m-9 21h9m-9 56h9m-9 25h9m-9 27h9m-8-330h9m-9 60h9m-9 4h9m-9 14h9m-9 20h9m-9 2h9m-9 26h9m-9 6h9m-9 81h9m-9 102h9m-8-232h9m-9 76h9m-9 2h9m-9 4h9m-9 40h9m-9 59h9m-9 26h9m-9 31h9m-8-323h9m-9 27h9m-9 46h9m-9 58h9m-9 51h9m-9 12h9m-9 18h9m-9 12h9m-9 8h9m-9 36h9m-9 3h9m-9 21h9m-8-277h9m-9 40h9m-9 14h9m-9 9h9m-9 6h9m-9 4h9m-9 1h9m-9 20h9m-9 6h9m-9 15h9m-9 3h9m-9 17h9m-9 12h9m-9 11h9m-9 14h9m-9 21h9m-9 13h9m-9 16h9m-9 0h9m-9 5h9m-9 6h9m-9 2h9m-9 6h9m-9 15h9m-9 3h9m-9 17h9m-9 1h9m-9 18h9m-8-295h9m-9 49h9m-9 13h9m-9 5h9m-9 62h9m-9 37h9m-9 39h9m-9 17h9m-8-237h9m-9 34h9m-9 4h9m-9 42h9m-9 21h9m-9 9h9m-9 23h9m-9 23h9m-9 65h9m-9 6h9m-9 0h9m-9 23h9m-9 7h9m-9 3h9m-9 1h9m-9 11h9m-8-222h9m-9 18h9m-9 59h9m-9 1h9m-9 2h9m-9 27h9m-9 9h9m-9 4h9m-9 31h9m-9 18h9m-9 16h9m-9 26h9m-9 6h9m-9 31h9m-9 5h9m-9 10h9m-8-217h9m-9 5h9m-9 25h9m-9 2h9m-9 24h9m-9 3h9m-9 27h9m-9 6h9m-9 22h9m-9 7h9m-9 8h9m-9 6h9m-9 7h9m-9 12h9m-9 64h9m-8-417h9m-9 129h9m-9 2h9m-9 24h9m-9 23h9m-9 85h9m-9 26h9m-9 22h9m-9 11h9m-9 45h9m-9 49h9m-8-306h9m-9 36h9m-9 9h9m-9 3h9m-9 2h9m-9 4h9m-9 17h9m-9 40h9m-9 3h9m-9 3h9m-9 30h9m-9 2h9m-9 22h9m-9 4h9m-9 17h9m-9 41h9m-9 12h9m-9 11h9m-9 15h9m-9 4h9m-9 27h9m-8-265h9m-9 80h9m-9 1h9m-9 5h9m-9 36h9m-9 15h9m-9 19h9m-9 12h9m-9 13h9m-9 3h9m-9 15h9m-9 7h9m-9 3h9m-9 55h9m-9 11h9m-8-316h9m-9 18h9m-9 27h9m-9 25h9m-9 9h9m-9 44h9m-9 24h9m-9 47h9m-9 0h9m-9 20h9m-9 12h9m-9 1h9m-9 16h9m-9 16h9m-9 38h9m-9 8h9m-9 3h9m-8-281h9m-9 7h9m-9 1h9m-9 41h9m-9 12h9m-9 10h9m-9 8h9m-9 5h9m-9 0h9m-9 63h9m-9 5h9m-9 12h9m-9 27h9m-9 3h9m-9 12h9m-9 0h9m-9 10h9m-9 1h9m-9 10h9m-9 4h9m-9 2h9m-9 1h9m-9 47h9m-9 7h9m-9 16h9m-8-384h9m-9 65h9m-9 2h9m-9 90h9m-9 37h9m-9 23h9m-9 3h9m-9 20h9m-9 15h9m-9 32h9m-9 73h9m-9 4h9m-8-311h9m-9 34h9m-9 12h9m-9 46h9m-9 53h9m-9 6h9m-9 133h9m-9 2h9m-8-181h9m-9 7h9m-9 14h9m-9 2h9m-9 21h9m-9 13h9m-9 3h9m-9 16h9m-9 12h9m-9 15h9m-9 9h9m-9 20h9m-9 2h9m-9 22h9m-9 3h9m-9 4h9m-9 31h9m-9 15h9m-9 4h9m-8-294h9m-9 56h9m-9 9h9m-9 51h9m-9 12h9m-9 1h9m-9 3h9m-9 17h9m-9 20h9m-9 9h9m-9 4h9m-9 9h9m-9 3h9m-9 26h9m-9 14h9m-9 12h9m-9 36h9m-8-294h9m-9 45h9m-9 30h9m-9 2h9m-9 78h9m-9 4h9m-9 19h9m-9 15h9m-9 21h9m-9 19h9m-9 4h9m-9 5h9m-9 2h9m-9 3h9m-9 5h9m-8-235h9m-9 59h9m-9 69h9m-9 2h9m-9 11h9m-9 31h9m-9 1h9m-9 6h9m-9 4h9m-9 8h9m-9 17h9m-9 28h9m-9 24h9m-8-240h9m-9 11h9m-9 6h9m-9 22h9m-9 35h9m-9 110h9m-9 3h9m-9 35h9m-9 0h9m-9 0h9m-9 11h9m-9 24h9m-8-327h9m-9 34h9m-9 33h9m-9 3h9m-9 1h9m-9 20h9m-9 3h9m-9 1h9m-9 14h9m-9 12h9m-9 5h9m-9 80h9m-9 22h9m-9 4h9m-9 42h9m-9 9h9m-9 47h9m-8-286h9m-9 17h9m-9 67h9m-9 1h9m-9 4h9m-9 2h9m-9 36h9m-9 2h9m-9 12h9m-9 0h9m-9 28h9m-9 3h9m-9 2h9m-9 3h9m-9 9h9m-9 24h9m-9 54h9m-9 5h9m-9 23h9m-8-318h9m-9 43h9m-9 3h9m-9 8h9m-9 12h9m-9 15h9m-9 28h9m-9 5h9m-9 8h9m-9 17h9m-9 14h9m-9 20h9m-9 35h9m-9 14h9m-9 27h9m-9 0h9m-9 6h9m-9 2h9m-9 12h9m-9 20h9m-9 5h9m-9 15h9m-9 11h9m-8-261h9m-9 40h9m-9 0h9m-9 19h9m-9 48h9m-9 33h9m-9 18h9m-9 32h9m-9 7h9m-9 36h9m-9 12h9m-9 6h9m-9 4h9m-8-406h9m-9 28h9m-9 58h9m-9 17h9m-9 76h9m-9 18h9m-9 22h9m-9 26h9m-9 29h9m-9 23h9m-9 1h9m-9 120h9m-8-320h9m-9 20h9m-9 55h9m-9 50h9m-9 17h9m-9 38h9m-9 20h9m-9 25h9m-9 2h9m-9 4h9m-9 12h9m-9 5h9m-9 30h9m-9 3h9m-9 12h9m-8-323h9m-9 45h9m-9 19h9m-9 77h9m-9 1h9m-9 24h9m-9 63h9m-9 60h9m-9 28h9m-9 32h9m-8-363h9m-9 51h9m-9 2h9m-9 7h9m-9 20h9m-9 21h9m-9 15h9m-9 35h9m-9 10h9m-9 1h9m-9 13h9m-9 16h9m-9 30h9m-9 2h9m-9 20h9m-9 8h9m-9 3h9m-9 5h9m-9 1h9m-9 22h9m-9 20h9m-9 40h9m-8-354h9m-9 96h9m-9 39h9m-9 66h9m-9 0h9m-9 1h9m-9 11h9m-9 48h9m-9 5h9m-9 22h9m-9 56h9m-9 6h9m-9 20h9m-8-195h9m-9 19h9m-9 2h9m-9 8h9m-9 11h9m-9 8h9m-9 21h9m-9 27h9m-9 7h9m-9 11h9m-9 5h9m-9 7h9m-9 16h9m-9 8h9m-9 20h9m-8-294h9m-9 59h9m-9 3h9m-9 13h9m-9 6h9m-9 35h9m-9 21h9m-9 5h9m-9 4h9m-9 8h9m-9 2h9m-9 4h9m-9 23h9m-9 3h9m-9 1h9m-9 24h9m-9 15h9m-9 19h9m-9 8h9m-9 39h9m-9 0h9m-9 16h9m-9 8h9m-8-277h9m-9 11h9m-9 12h9m-9 19h9m-9 44h9m-9 74h9m-9 6h9m-9 4h9m-9 16h9m-9 47h9m-9 33h9m-8-205h9m-9 8h9m-9 39h9m-9 1h9m-9 1h9m-9 14h9m-9 3h9m-9 0h9m-9 29h9m-9 3h9m-9 27h9m-9 5h9m-9 9h9m-9 13h9m-9 19h9m-9 33h9m-9 9h9m-8-290h9m-9 87h9m-9 5h9m-9 27h9m-9 13h9m-9 10h9m-9 23h9m-9 7h9m-9 13h9m-9 18h9m-9 5h9m-9 53h9m-9 5h9m-8-261h9m-9 18h9m-9 30h9m-9 34h9m-9 1h9m-9 2h9m-9 55h9m-9 3h9m-9 12h9m-9 3h9m-9 14h9m-9 24h9m-9 42h9m-8-324h9m-9 33h9m-9 142h9m-9 69h9m-9 10h9m-9 37h9m-9 7h9m-9 2h9m-9 32h9m-9 10h9m-9 21h9m-9 18h9m-8-318h9m-9 37h9m-9 14h9m-9 24h9m-9 24h9m-9 7h9m-9 13h9m-9 19h9m-9 47h9m-9 16h9m-9 34h9m-9 16h9m-9 2h9m-9 30h9m-9 1h9m-9 33h9m-8-309h9m-9 174h9m-9 8h9m-9 16h9m-9 13h9m-9 13h9m-9 8h9m-9 30h9m-9 9h9m-9 33h9m-9 7h9m-8-276h9m-9 49h9m-9 23h9m-9 7h9m-9 10h9m-9 7h9m-9 5h9m-9 33h9m-9 35h9m-9 6h9m-8-191h9m-9 3h9m-9 51h9m-9 1h9m-9 12h9m-9 30h9m-9 1h9m-9 24h9m-9 3h9m-9 19h9m-9 25h9m-9 4h9m-9 15h9m-9 18h9m-9 0h9m-9 2h9m-8-175h9m-9 33h9m-9 21h9m-9 6h9m-9 16h9m-9 4h9m-9 4h9m-9 6h9m-9 16h9m-9 29h9m-9 35h9m-9 18h9m-9 11h9m-9 18h9m-8-283h9m-9 8h9m-9 1h9m-9 126h9m-9 6h9m-9 60h9m-9 74h9m-8-184h9m-9 18h9m-9 11h9m-9 64h9m-9 9h9m-9 10h9m-9 10h9m-9 37h9m-9 12h9m-9 31h9m-8-262h9m-9 99h9m-9 17h9m-9 16h9m-9 32h9m-9 20h9m-9 12h9m-9 4h9m-9 9h9m-9 71h9m-8-222h9m-9 3h9m-9 4h9m-9 29h9m-9 8h9m-9 13h9m-9 15h9m-9 1h9m-9 8h9m-9 79h9m-9 47h9m-9 35h9m-8-274h9m-9 51h9m-9 16h9m-9 15h9m-9 16h9m-9 2h9m-9 9h9m-9 30h9m-9 27h9m-9 2h9m-9 4h9m-9 15h9m-9 17h9m-9 19h9m-9 1h9m-9 6h9m-8-367h9m-9 161h9m-9 10h9m-9 3h9m-9 15h9m-9 37h9m-9 61h9m-9 36h9m-9 43h9m-9 21h9m-8-202h9m-9 13h9m-9 0h9m-9 1h9m-9 35h9m-9 80h9m-9 10h9m-9 18h9m-9 29h9m-9 30h9m-8-308h9m-9 71h9m-9 6h9m-9 18h9m-9 34h9m-9 2h9m-9 0h9m-9 12h9m-9 0h9m-9 9h9m-9 11h9m-9 90h9m-9 15h9m-9 30h9m-9 3h9m-8-296h9m-9 29h9m-9 11h9m-9 56h9m-9 19h9m-9 29h9m-9 14h9m-9 46h9m-9 30h9m-9 16h9m-9 26h9m-9 8h9m-9 19h9m-9 7h9m-8-306h9m-9 16h9m-9 30h9m-9 111h9m-9 3h9m-9 18h9m-9 23h9m-9 12h9m-9 33h9m-8-289h9m-9 9h9m-9 70h9m-9 90h9m-9 22h9m-9 59h9m-9 5h9m-9 54h9m-8-136h9m-9 16h9m-9 29h9m-9 2h9m-9 2h9m-9 7h9m-9 11h9m-9 30h9m-9 16h9m-9 31h9m-8-258h9m-9 36h9m-9 99h9m-9 126h9m-8-217h9m-9 61h9m-9 28h9m-9 56h9m-9 20h9m-9 4h9m-9 4h9m-9 41h9m-8-204h9m-9 1h9m-9 57h9m-9 59h9m-9 53h9m-9 4h9m-8-255h9m-9 9h9m-9 99h9m-9 126h9m-9 17h9m-9 26h9m-8-276h9m-9 55h9m-9 30h9m-9 14h9m-9 7h9m-9 69h9m-9 74h9m-9 35h9m-8-181h9m-9 36h9m-9 106h9m-9 38h9m-9 12h9m-8-240h9m-9 112h9m-9 12h9m-9 18h9m-9 85h9m-9 26h9m-8-313h9m-9 6h9m-9 136h9m-9 69h9m-9 43h9m-9 11h9m-9 38h9m-9 5h9m-8-314h9m-9 131h9m-9 134h9m-8-219h9m-9 12h9m-9 131h9m-9 7h9m-9 11h9m-9 6h9m-9 7h9m-9 8h9m-8-142h9m-9 28h9m-9 53h9m-9 15h9m-9 42h9m-9 83h9m-8-380h9m-9 213h9m-9 122h9m-8-202h9m-9 108h9m-9 16h9m-9 112h9m-8-148h9m-9 21h9m-8-168h9m-9 92h9m-9 43h9m-9 85h9m-9 37h9m-8-259h9m-9 209h9m-9 70h9m-9 29h9m-8-69h9m-8-167h9m-9 62h9m-9 46h9m-9 42h9m-8-200h9m-9 130h9m-9 85h9m-8-116h9m-9 77h9m-9 12h9m-8-159h9m-9 18h9m-9 111h9m-9 115h9m-8-156h9m-9 32h9m-9 4h9m-9 67h9m-9 20h9m-8-242h9m-9 74h9m-9 87h9m-9 30h9m-8-155h9m-9 63h9m-9 123h9m-9 48h9m-8-210h9m-9 141h9m-6-168h9m-9 25h9m-8 85h9m-9 85h9m-8-361h9m-9 343h9m-9 27h9m-8-94h9m-8-48h9m-9 95h9m-9 59h9m-7-328h9m-9 352h9m-8-48h9m-9 42h9m-8-292h9m-9 89h9m-8 35h9m-7-28h9m-9 114h9m-9 67h9m-9 17h9m-7-32h9m-8-163h9m-7-177h9m-8 216h9m-8 143h9m-8-245h9m-8-95h9m-7 363h9m-7-133h9m-8-50h9m-8 58h9m-7 49h9m-8 40h9m-5-48h9m-9 12h9m-7 37h9m-8-259h9m-7 51h9m-5 208h9m-6-198h9m-6 66h9m2-34h9m11 215h9m0 14h9m9-406h9m-2 14h9m-6 35h9m8 120h9m-6-172h9m11 98h9m-5-55h9m-6 373h9m-8-456h9m-6 29h9m-3 205h9" stroke="#000" stroke-width="9" fill="none"/>
<rect x="184.50" y="97.20" width="62.10" height="48.70" fill="none" stroke="#000" stroke-width="1.1"/>
<line x1="203.30" y1="97.20" x2="203.30" y2="145.90" stroke="#000" stroke-width="0.9"/>
<line x1="184.50" y1="134.60" x2="246.60" y2="134.60" stroke="#000" stroke-width="0.9"/>
<line x1="184.00" y1="149.20" x2="243.00" y2="149.20" stroke="#000" stroke-width="1.7"/>
<polygon points="251.00,149.20 242.00,146.00 242.00,152.40" fill="#000"/>
<text x="185.7" y="161" font-size="11" font-family='"Liberation Serif", serif' font-weight="bold" text-anchor="start" textLength="48.9" lengthAdjust="spacingAndGlyphs" stroke="#000" stroke-width="0.3">CD4 FITC</text>
<text x="227.3" y="109.5" font-size="8.2" font-family='"Liberation Serif", serif' font-weight="bold" text-anchor="start" textLength="22.2" lengthAdjust="spacingAndGlyphs" stroke="#000" stroke-width="0.3">30.5%</text>
<text x="227.3" y="142.6" font-size="8.2" font-family='"Liberation Serif", serif' font-weight="bold" text-anchor="start" textLength="22.2" lengthAdjust="spacingAndGlyphs" stroke="#000" stroke-width="0.3">20.3%</text>
<ellipse cx="275.8" cy="134.5" rx="5" ry="9" fill="#000" opacity="1"/>
<path transform="scale(.1)" d="m2663 1215h9m-9 97h9m-9 56h9m-7 34h9m-8-156h9m-7 47h9m-9 92h9m-9 27h9m-8-282h9m-9 167h9m-9 64h9m-9 69h9m-8-118h9m-9 42h9m-9 44h9m-8-34h9m-8-257h9m-9 239h9m-7-117h9m-9 79h9m-8-93h9m-9 44h9m-9 93h9m-6-163h9m-9 62h9m-9 28h9m-9 81h9m-8-149h9m-8-22h9m-9 186h9m-8-231h9m-9 128h9m-8 10h9m-9 2h9m-9 117h9m-7-146h9m-9 85h9m-9 9h9m-8 12h9m-8-197h9m-8 24h9m-9 1h9m-9 26h9m-9 13h9m-9 133h9m-9 34h9m-8-103h9m-9 36h9m-9 67h9m-8-375h9m-9 196h9m-9 69h9m-9 90h9m-9 47h9m-7-195h9m-9 185h9m-8-107h9m-9 101h9m-9 6h9m-8-132h9m-9 60h9m-9 12h9m-9 32h9m-9 46h9m-8-175h9m-9 43h9m-9 39h9m-9 34h9m-9 14h9m-8-85h9m-9 28h9m-9 11h9m-9 40h9m-8-119h9m-9 11h9m-9 54h9m-9 1h9m-9 24h9m-9 22h9m-9 56h9m-8-212h9m-9 69h9m-9 27h9m-9 36h9m-9 25h9m-9 8h9m-9 12h9m-8-80h9m-8-39h9m-9 25h9m-9 65h9m-8-203h9m-9 54h9m-9 113h9m-9 21h9m-9 10h9m-9 11h9m-9 23h9m-8-179h9m-9 20h9m-9 42h9m-8 32h9m-9 81h9m-9 23h9m-8-217h9m-9 83h9m-9 38h9m-9 58h9m-9 46h9m-8-217h9m-9 16h9m-9 24h9m-9 70h9m-9 7h9m-9 1h9m-8-49h9m-9 1h9m-9 126h9m-8-147h9m-9 79h9m-9 46h9m-9 1h9m-9 16h9m-8-124h9m-9 3h9m-9 19h9m-9 102h9m-8-232h9m-9 193h9m-9 57h9m-9 6h9m-8-173h9m-9 2h9m-9 20h9m-9 38h9m-9 2h9m-9 35h9m-9 3h9m-8-116h9m-9 23h9m-9 36h9m-9 11h9m-9 72h9m-9 11h9m-8-157h9m-9 65h9m-9 5h9m-9 42h9m-9 41h9m-8-317h9m-9 133h9m-9 53h9m-9 38h9m-9 7h9m-9 9h9m-9 26h9m-9 26h9m-9 7h9m-9 45h9m-9 13h9m-8-158h9m-9 14h9m-9 74h9m-9 3h9m-9 15h9m-9 68h9m-8-119h9m-9 38h9m-9 40h9m-9 15h9m-8-120h9m-9 16h9m-9 15h9m-9 7h9m-9 14h9m-9 24h9m-9 53h9m-8-173h9m-9 24h9m-9 13h9m-9 61h9m-9 20h9m-9 13h9m-9 53h9m-8-263h9m-9 53h9m-9 44h9m-9 41h9m-9 23h9m-9 10h9m-9 22h9m-9 16h9m-9 12h9m-8-222h9m-9 117h9m-9 29h9m-9 9h9m-9 26h9m-9 6h9m-9 23h9m-9 9h9m-9 10h9m-9 10h9m-9 16h9m-8-149h9m-9 27h9m-9 25h9m-9 24h9m-9 11h9m-9 26h9m-9 5h9m-9 4h9m-9 6h9m-9 8h9m-8-192h9m-9 53h9m-9 117h9m-9 10h9m-9 4h9m-8-171h9m-9 49h9m-9 67h9m-9 78h9m-8-210h9m-9 54h9m-9 6h9m-9 7h9m-9 35h9m-9 6h9m-9 24h9m-9 19h9m-9 31h9m-9 18h9m-8-168h9m-9 3h9m-9 22h9m-9 27h9m-9 7h9m-9 30h9m-9 14h9m-9 5h9m-9 6h9m-9 12h9m-9 2h9m-9 50h9m-8-226h9m-9 83h9m-9 40h9m-9 27h9m-9 1h9m-9 2h9m-8-187h9m-9 23h9m-9 53h9m-9 15h9m-9 8h9m-9 22h9m-9 15h9m-9 12h9m-9 19h9m-9 62h9m-9 45h9m-8-279h9m-9 31h9m-9 19h9m-9 95h9m-9 37h9m-9 6h9m-9 17h9m-9 6h9m-9 3h9m-9 6h9m-9 3h9m-9 9h9m-9 15h9m-8-162h9m-9 2h9m-9 38h9m-9 13h9m-9 46h9m-9 18h9m-9 9h9m-9 38h9m-9 7h9m-9 7h9m-8-229h9m-9 39h9m-9 44h9m-9 5h9m-9 50h9m-9 22h9m-9 3h9m-9 18h9m-9 2h9m-9 1h9m-9 1h9m-9 10h9m-9 0h9m-8-112h9m-9 24h9m-9 9h9m-9 6h9m-9 13h9m-9 2h9m-9 28h9m-9 11h9m-9 9h9m-9 6h9m-9 7h9m-9 7h9m-9 27h9m-8-337h9m-9 98h9m-9 89h9m-9 19h9m-9 2h9m-9 37h9m-9 25h9m-9 29h9m-9 7h9m-9 3h9m-9 1h9m-8-205h9m-9 81h9m-9 30h9m-9 4h9m-9 1h9m-9 27h9m-9 22h9m-9 4h9m-9 1h9m-9 12h9m-9 0h9m-9 23h9m-9 0h9m-9 5h9m-8-249h9m-9 117h9m-9 2h9m-9 3h9m-9 15h9m-9 12h9m-9 8h9m-9 16h9m-9 12h9m-9 23h9m-9 1h9m-9 16h9m-9 2h9m-9 11h9m-9 4h9m-9 10h9m-9 22h9m-8-319h9m-9 130h9m-9 5h9m-9 20h9m-9 39h9m-9 8h9m-9 12h9m-9 4h9m-9 29h9m-9 11h9m-9 12h9m-9 7h9m-9 2h9m-9 8h9m-9 1h9m-9 34h9m-9 4h9m-8-341h9m-9 121h9m-9 17h9m-9 37h9m-9 6h9m-9 84h9m-9 11h9m-9 17h9m-9 20h9m-9 11h9m-9 4h9m-8-180h9m-9 7h9m-9 5h9m-9 1h9m-9 43h9m-9 6h9m-9 26h9m-9 1h9m-9 7h9m-9 13h9m-9 37h9m-9 1h9m-9 8h9m-9 17h9m-9 13h9m-8-211h9m-9 82h9m-9 24h9m-9 3h9m-9 4h9m-9 58h9m-9 8h9m-9 5h9m-8-286h9m-9 101h9m-9 56h9m-9 22h9m-9 20h9m-9 28h9m-9 12h9m-9 0h9m-9 9h9m-9 13h9m-9 1h9m-9 7h9m-9 12h9m-9 20h9m-8-293h9m-9 98h9m-9 34h9m-9 17h9m-9 34h9m-9 26h9m-9 23h9m-9 8h9m-9 26h9m-9 7h9m-9 12h9m-8-206h9m-9 30h9m-9 16h9m-9 10h9m-9 56h9m-9 7h9m-9 1h9m-9 9h9m-9 3h9m-9 11h9m-9 21h9m-9 11h9m-9 29h9m-8-317h9m-9 90h9m-9 23h9m-9 23h9m-9 51h9m-9 39h9m-9 13h9m-9 1h9m-9 5h9m-9 23h9m-9 20h9m-9 33h9m-9 3h9m-8-297h9m-9 85h9m-9 3h9m-9 30h9m-9 12h9m-9 11h9m-9 18h9m-9 30h9m-9 48h9m-9 32h9m-9 6h9m-9 8h9m-9 11h9m-9 11h9m-8-231h9m-9 27h9m-9 6h9m-9 17h9m-9 17h9m-9 2h9m-9 79h9m-9 6h9m-9 45h9m-9 3h9m-9 25h9m-8-171h9m-9 16h9m-9 19h9m-9 26h9m-9 14h9m-9 3h9m-9 10h9m-9 8h9m-9 14h9m-9 36h9m-9 4h9m-9 38h9m-9 3h9m-8-195h9m-9 12h9m-9 9h9m-9 5h9m-9 3h9m-9 35h9m-9 44h9m-9 9h9m-9 29h9m-9 3h9m-9 8h9m-8-311h9m-9 89h9m-9 2h9m-9 1h9m-9 39h9m-9 10h9m-9 10h9m-9 13h9m-9 2h9m-9 41h9m-9 25h9m-9 28h9m-9 4h9m-9 17h9m-9 4h9m-9 2h9m-9 15h9m-9 34h9m-9 15h9m-9 0h9m-8-263h9m-9 67h9m-9 8h9m-9 20h9m-9 11h9m-9 22h9m-9 2h9m-9 46h9m-9 18h9m-9 20h9m-9 12h9m-8-185h9m-9 44h9m-9 12h9m-9 63h9m-9 28h9m-9 18h9m-9 6h9m-9 4h9m-9 7h9m-9 2h9m-9 29h9m-8-276h9m-9 41h9m-9 17h9m-9 9h9m-9 11h9m-9 6h9m-9 29h9m-9 1h9m-9 5h9m-9 30h9m-9 22h9m-9 6h9m-9 22h9m-9 29h9m-9 5h9m-8-174h9m-9 38h9m-9 27h9m-9 15h9m-9 1h9m-9 6h9m-9 31h9m-9 2h9m-9 0h9m-9 4h9m-9 27h9m-9 1h9m-9 1h9m-9 8h9m-9 9h9m-9 8h9m-9 11h9m-9 26h9m-8-230h9m-9 41h9m-9 11h9m-9 7h9m-9 25h9m-9 3h9m-9 2h9m-9 1h9m-9 19h9m-9 4h9m-9 46h9m-9 29h9m-9 7h9m-9 19h9m-9 5h9m-9 2h9m-9 6h9m-9 1h9m-9 2h9m-8-217h9m-9 9h9m-9 25h9m-9 5h9m-9 3h9m-9 30h9m-9 42h9m-9 0h9m-9 17h9m-9 28h9m-9 10h9m-9 4h9m-9 17h9m-9 6h9m-9 2h9m-9 14h9m-9 6h9m-8-193h9m-9 4h9m-9 28h9m-9 15h9m-9 0h9m-9 6h9m-9 5h9m-9 33h9m-9 37h9m-9 15h9m-9 8h9m-9 5h9m-9 1h9m-9 11h9m-9 21h9m-9 8h9m-8-211h9m-9 35h9m-9 3h9m-9 7h9m-9 14h9m-9 9h9m-9 4h9m-9 6h9m-9 8h9m-9 23h9m-9 13h9m-9 15h9m-9 14h9m-9 26h9m-9 23h9m-9 11h9m-8-229h9m-9 8h9m-9 51h9m-9 11h9m-9 36h9m-9 11h9m-9 22h9m-9 20h9m-9 2h9m-9 8h9m-9 8h9m-9 4h9m-9 1h9m-9 4h9m-9 4h9m-9 8h9m-9 7h9m-9 15h9m-9 14h9m-8-225h9m-9 7h9m-9 14h9m-9 5h9m-9 6h9m-9 19h9m-9 10h9m-9 9h9m-9 10h9m-9 14h9m-9 7h9m-9 10h9m-9 4h9m-9 20h9m-9 0h9m-9 15h9m-9 18h9m-9 1h9m-9 16h9m-9 30h9m-9 7h9m-8-222h9m-9 38h9m-9 9h9m-9 14h9m-9 22h9m-9 18h9m-9 17h9m-9 27h9m-9 3h9m-9 4h9m-9 3h9m-9 4h9m-9 4h9m-9 1h9m-9 17h9m-9 5h9m-9 0h9m-8-192h9m-9 2h9m-9 2h9m-9 26h9m-9 19h9m-9 29h9m-9 3h9m-9 23h9m-9 2h9m-9 5h9m-9 3h9m-9 9h9m-9 39h9m-9 42h9m-9 0h9m-9 1h9m-8-269h9m-9 17h9m-9 83h9m-9 5h9m-9 10h9m-9 6h9m-9 49h9m-9 10h9m-9 14h9m-9 24h9m-9 7h9m-9 12h9m-9 5h9m-9 8h9m-9 0h9m-9 21h9m-9 25h9m-8-240h9m-9 33h9m-9 10h9m-9 8h9m-9 6h9m-9 22h9m-9 6h9m-9 5h9m-9 27h9m-9 4h9m-9 2h9m-9 1h9m-9 2h9m-9 14h9m-9 15h9m-9 8h9m-9 2h9m-9 10h9m-9 3h9m-9 3h9m-9 16h9m-9 27h9m-8-195h9m-9 9h9m-9 4h9m-9 28h9m-9 66h9m-9 73h9m-9 4h9m-9 4h9m-8-334h9m-9 144h9m-9 16h9m-9 4h9m-9 8h9m-9 0h9m-9 41h9m-9 20h9m-9 5h9m-9 4h9m-9 1h9m-9 2h9m-9 0h9m-9 2h9m-9 0h9m-9 38h9m-9 11h9m-9 8h9m-9 4h9m-9 17h9m-9 3h9m-9 0h9m-8-237h9m-9 71h9m-9 23h9m-9 9h9m-9 54h9m-9 4h9m-9 2h9m-9 4h9m-9 9h9m-9 30h9m-9 10h9m-9 6h9m-9 8h9m-9 15h9m-8-168h9m-9 37h9m-9 0h9m-9 32h9m-9 26h9m-9 11h9m-9 1h9m-9 10h9m-9 6h9m-9 9h9m-9 6h9m-9 14h9m-9 10h9m-9 7h9m-9 5h9m-9 2h9m-8-186h9m-9 32h9m-9 19h9m-9 8h9m-9 39h9m-9 8h9m-9 1h9m-9 11h9m-9 6h9m-9 13h9m-8-183h9m-9 21h9m-9 32h9m-9 7h9m-9 2h9m-9 14h9m-9 23h9m-9 29h9m-9 4h9m-9 39h9m-9 6h9m-9 3h9m-9 2h9m-9 1h9m-9 13h9m-9 9h9m-9 9h9m-9 0h9m-9 4h9m-9 4h9m-9 1h9m-9 7h9m-8-243h9m-9 54h9m-9 39h9m-9 40h9m-9 12h9m-9 20h9m-9 7h9m-9 9h9m-9 5h9m-9 2h9m-9 9h9m-9 15h9m-9 30h9m-8-236h9m-9 53h9m-9 6h9m-9 12h9m-9 13h9m-9 15h9m-9 34h9m-9 66h9m-9 1h9m-9 18h9m-8-272h9m-9 89h9m-9 32h9m-9 16h9m-9 6h9m-9 30h9m-9 19h9m-9 9h9m-9 33h9m-9 19h9m-9 4h9m-9 10h9m-9 15h9m-9 14h9m-8-184h9m-9 50h9m-9 9h9m-9 3h9m-9 0h9m-9 12h9m-9 41h9m-9 12h9m-9 10h9m-9 13h9m-9 4h9m-9 3h9m-9 24h9m-8-170h9m-9 15h9m-9 23h9m-9 8h9m-9 62h9m-9 1h9m-9 17h9m-9 10h9m-9 18h9m-9 15h9m-9 7h9m-8-257h9m-9 15h9m-9 73h9m-9 9h9m-9 16h9m-9 4h9m-9 6h9m-9 5h9m-9 4h9m-9 24h9m-9 6h9m-9 29h9m-9 41h9m-9 13h9m-8-331h9m-9 132h9m-9 6h9m-9 7h9m-9 4h9m-9 18h9m-9 26h9m-9 17h9m-9 5h9m-9 5h9m-9 3h9m-9 13h9m-9 1h9m-9 3h9m-9 44h9m-9 9h9m-9 48h9m-9 6h9m-8-180h9m-9 76h9m-9 20h9m-9 8h9m-9 3h9m-9 30h9m-9 5h9m-9 9h9m-9 19h9m-8-252h9m-9 12h9m-9 55h9m-9 8h9m-9 52h9m-9 1h9m-9 1h9m-9 50h9m-9 29h9m-9 19h9m-9 10h9m-9 11h9m-9 1h9m-8-251h9m-9 52h9m-9 23h9m-9 9h9m-9 2h9m-9 2h9m-9 32h9m-9 36h9m-9 21h9m-9 0h9m-9 11h9m-9 6h9m-9 20h9m-9 2h9m-9 2h9m-9 13h9m-9 8h9m-9 29h9m-9 0h9m-8-201h9m-9 5h9m-9 27h9m-9 10h9m-9 14h9m-9 16h9m-9 42h9m-9 28h9m-9 6h9m-9 23h9m-9 14h9m-9 3h9m-8-195h9m-9 4h9m-9 20h9m-9 33h9m-9 7h9m-9 11h9m-9 9h9m-9 29h9m-9 35h9m-9 5h9m-9 2h9m-9 3h9m-9 1h9m-9 8h9m-9 4h9m-9 3h9m-8-213h9m-9 77h9m-9 0h9m-9 32h9m-9 12h9m-9 6h9m-9 6h9m-9 2h9m-9 48h9m-9 9h9m-9 39h9m-9 1h9m-9 5h9m-8-177h9m-9 3h9m-9 9h9m-9 51h9m-9 29h9m-9 9h9m-9 15h9m-9 24h9m-9 4h9m-9 7h9m-9 14h9m-8-224h9m-9 38h9m-9 65h9m-9 2h9m-9 3h9m-9 13h9m-9 5h9m-9 3h9m-9 9h9m-9 21h9m-9 33h9m-8-239h9m-9 58h9m-9 15h9m-9 27h9m-9 33h9m-9 12h9m-9 1h9m-9 25h9m-9 40h9m-9 24h9m-9 31h9m-9 9h9m-8-235h9m-9 57h9m-9 12h9m-9 11h9m-9 29h9m-9 8h9m-9 31h9m-9 37h9m-9 29h9m-9 27h9m-8-430h9m-9 209h9m-9 39h9m-9 32h9m-9 5h9m-9 21h9m-9 84h9m-9 3h9m-8-124h9m-9 5h9m-9 1h9m-9 6h9m-9 11h9m-9 45h9m-9 24h9m-9 30h9m-9 7h9m-9 0h9m-9 1h9m-9 13h9m-8-198h9m-9 31h9m-9 24h9m-9 10h9m-9 4h9m-9 7h9m-9 1h9m-9 36h9m-9 14h9m-9 8h9m-9 8h9m-9 4h9m-9 12h9m-9 8h9m-9 3h9m-9 2h9m-9 25h9m-9 28h9m-8-282h9m-9 57h9m-9 25h9m-9 37h9m-9 9h9m-9 6h9m-9 9h9m-9 13h9m-9 20h9m-9 71h9m-9 29h9m-8-200h9m-9 7h9m-9 4h9m-9 8h9m-9 33h9m-9 4h9m-9 60h9m-9 5h9m-9 18h9m-9 1h9m-9 0h9m-9 13h9m-9 7h9m-9 9h9m-9 4h9m-9 5h9m-9 1h9m-9 16h9m-9 0h9m-9 11h9m-9 1h9m-8-392h9m-9 164h9m-9 7h9m-9 20h9m-9 33h9m-9 27h9m-9 28h9m-9 3h9m-9 8h9m-9 34h9m-9 28h9m-9 16h9m-8-245h9m-9 76h9m-9 19h9m-9 13h9m-9 1h9m-9 1h9m-9 4h9m-9 54h9m-9 20h9m-9 15h9m-9 16h9m-9 4h9m-9 9h9m-9 14h9m-9 1h9m-8-179h9m-9 8h9m-9 8h9m-9 42h9m-9 37h9m-9 19h9m-9 7h9m-9 24h9m-9 54h9m-8-213h9m-9 11h9m-9 27h9m-9 18h9m-9 8h9m-9 82h9m-9 7h9m-9 6h9m-9 23h9m-9 15h9m-8-216h9m-9 41h9m-9 26h9m-9 17h9m-9 24h9m-9 27h9m-9 6h9m-9 9h9m-9 36h9m-9 9h9m-9 2h9m-9 9h9m-8-287h9m-9 121h9m-9 7h9m-9 41h9m-9 4h9m-9 21h9m-9 23h9m-9 51h9m-9 2h9m-9 2h9m-9 18h9m-8-185h9m-9 36h9m-9 17h9m-9 35h9m-9 3h9m-9 46h9m-9 13h9m-9 3h9m-9 4h9m-9 23h9m-9 4h9m-9 6h9m-8-257h9m-9 27h9m-9 29h9m-9 43h9m-9 25h9m-9 22h9m-9 10h9m-9 50h9m-9 18h9m-9 14h9m-8-165h9m-9 28h9m-9 42h9m-9 3h9m-9 10h9m-9 14h9m-9 49h9m-9 14h9m-8-145h9m-9 9h9m-9 13h9m-9 40h9m-9 29h9m-9 69h9m-9 8h9m-8-161h9m-9 10h9m-9 5h9m-9 43h9m-9 7h9m-9 7h9m-9 40h9m-9 10h9m-9 10h9m-9 4h9m-9 4h9m-9 18h9m-8-317h9m-9 119h9m-9 74h9m-9 27h9m-9 53h9m-9 33h9m-9 5h9m-9 10h9m-8-311h9m-9 74h9m-9 1h9m-9 25h9m-9 14h9m-9 12h9m-9 25h9m-9 28h9m-9 44h9m-9 53h9m-9 43h9m-8-332h9m-9 75h9m-9 30h9m-9 114h9m-9 28h9m-9 6h9m-9 2h9m-9 34h9m-9 0h9m-9 12h9m-9 26h9m-8-149h9m-9 59h9m-9 5h9m-9 8h9m-9 2h9m-9 23h9m-9 9h9m-9 27h9m-8-174h9m-9 2h9m-9 78h9m-9 41h9m-9 6h9m-9 18h9m-9 16h9m-8-134h9m-9 10h9m-9 5h9m-9 1h9m-9 74h9m-9 32h9m-8-139h9m-9 63h9m-9 2h9m-9 24h9m-9 51h9m-9 44h9m-8-171h9m-9 27h9m-9 1h9m-9 24h9m-9 17h9m-9 11h9m-9 43h9m-8-277h9m-9 24h9m-9 86h9m-9 29h9m-9 26h9m-9 11h9m-9 18h9m-9 11h9m-9 24h9m-9 7h9m-9 8h9m-9 31h9m-9 1h9m-9 1h9m-9 18h9m-9 40h9m-9 2h9m-8-298h9m-9 51h9m-9 24h9m-9 47h9m-9 35h9m-9 1h9m-9 8h9m-9 19h9m-9 4h9m-9 6h9m-9 2h9m-9 6h9m-9 10h9m-9 14h9m-9 1h9m-9 24h9m-9 0h9m-9 3h9m-8-178h9m-9 15h9m-9 60h9m-9 18h9m-9 17h9m-8-93h9m-9 28h9m-9 13h9m-9 19h9m-9 39h9m-9 21h9m-9 33h9m-9 0h9m-9 25h9m-9 17h9m-9 11h9m-8-250h9m-9 91h9m-9 94h9m-9 15h9m-8-152h9m-9 36h9m-9 33h9m-9 15h9m-9 8h9m-9 15h9m-9 7h9m-9 18h9m-8-95h9m-9 3h9m-9 66h9m-9 10h9m-9 21h9m-9 5h9m-9 15h9m-9 6h9m-9 1h9m-9 29h9m-8-334h9m-9 138h9m-9 7h9m-9 94h9m-9 13h9m-9 30h9m-9 19h9m-9 24h9m-8-237h9m-9 13h9m-9 15h9m-9 51h9m-9 3h9m-9 11h9m-9 58h9m-9 3h9m-9 1h9m-9 12h9m-9 6h9m-9 82h9m-8-221h9m-9 61h9m-9 19h9m-9 35h9m-9 88h9m-8-289h9m-9 92h9m-9 59h9m-9 9h9m-9 78h9m-9 26h9m-8-224h9m-9 75h9m-9 113h9m-9 34h9m-9 3h9m-9 10h9m-9 7h9m-8-188h9m-9 3h9m-9 14h9m-9 11h9m-9 8h9m-9 19h9m-9 33h9m-9 16h9m-9 9h9m-8-119h9m-9 16h9m-9 36h9m-9 27h9m-9 2h9m-9 10h9m-9 17h9m-9 7h9m-9 31h9m-9 9h9m-9 5h9m-9 7h9m-8-254h9m-9 145h9m-9 39h9m-8-93h9m-9 56h9m-9 7h9m-9 14h9m-9 9h9m-9 50h9m-9 19h9m-8-109h9m-9 19h9m-9 6h9m-9 4h9m-9 46h9m-9 65h9m-8-164h9m-9 24h9m-9 81h9m-9 34h9m-8-149h9m-9 93h9m-9 44h9m-9 34h9m-9 23h9m-8-217h9m-9 47h9m-9 149h9m-8-166h9m-9 54h9m-9 1h9m-9 55h9m-8-115h9m-9 27h9m-9 19h9m-9 57h9m-9 39h9m-9 20h9m-9 8h9m-8-128h9m-9 18h9m-9 2h9m-9 31h9m-9 42h9m-9 42h9m-8-257h9m-9 7h9m-9 152h9m-9 103h9m-8-138h9m-9 62h9m-8-91h9m-9 35h9m-9 6h9m-8-218h9m-9 214h9m-9 21h9m-9 7h9m-9 45h9m-9 18h9m-9 42h9m-9 0h9m-8-158h9m-9 9h9m-9 78h9m-9 54h9m-8-233h9m-9 226h9m-8-92h9m-9 12h9m-9 39h9m-8-106h9m-8-122h9m-9 74h9m-9 9h9m-9 43h9m-9 40h9m-9 2h9m-8 6h9m-9 72h9m-9 2h9m-9 1h9m-8 30h9m-8-158h9m-9 37h9m-8-188h9m-9 102h9m-9 39h9m-9 41h9m-8-105h9m-9 120h9m-9 14h9m-9 3h9m-8-185h9m-9 130h9m-9 16h9m-9 3h9m-9 45h9m-9 9h9m-8-161h9m-9 114h9m-9 57h9m-9 6h9m-9 0h9m-9 3h9m-8-45h9m-9 93h9m-9 13h9m-8-175h9m-8 87h9m-9 33h9m-9 8h9m-9 9h9m-9 38h9m-8-164h9m-9 87h9m-9 57h9m-8-124h9m-9 53h9m-9 96h9m-8-191h9m-9 164h9m-9 28h9m-8-171h9m-9 29h9m-9 34h9m-9 31h9m-9 5h9m-8-127h9m-9 75h9m-9 13h9m-9 55h9m-8-86h9m-9 93h9m-8-185h9m-9 85h9m-9 88h9m-8-88h9m-9 13h9m-9 7h9m-9 28h9m-8 38h9m-8-201h9m-8-81h9m-9 218h9m-8-99h9m-9 1h9m-9 73h9m-9 17h9m-9 45h9m-8-75h9m-8-164h9m-9 138h9m-9 46h9m-9 3h9m-9 6h9m-9 118h9m-8-157h9m-9 61h9m-9 53h9m-9 62h9m-8-223h9m-9 70h9m-8-47h9m-9 88h9m-9 110h9m-8-150h9m-9 81h9m-9 44h9m-7-196h9m-9 35h9m-9 102h9m-8-61h9m-9 19h9m-9 15h9m-9 26h9m-9 92h9m-8-76h9m-8-74h9m-9 62h9m-9 85h9m-8-204h9m-9 1h9m-9 72h9m-9 14h9m-9 0h9m-9 0h9m-8 88h9m-8-199h9m-9 27h9m-9 44h9m-8 85h9m-9 7h9m-8-10h9m-8-213h9m-9 84h9m-9 149h9m-8-137h9m-9 14h9m-9 92h9m-8-83h9m-8 21h9m-9 14h9m-9 51h9m-8-74h9m-9 14h9m-8 87h9m-8-161h9m-9 64h9m-8-23h9m-9 58h9m-9 37h9m-8-70h9m-7 14h9m-8-126h9m-9 67h9m-9 23h9m-8-47h9m-9 120h9m-8-19h9m-9 12h9m-8-91h9m-9 17h9m-9 10h9m-9 60h9m-9 3h9m-8-59h9m-9 125h9m-8-266h9m-9 112h9m-9 43h9m-8-45h9m-8 26h9m-9 58h9m-8-110h9m-9 34h9m-9 63h9m-9 62h9m-7-186h9m-9 96h9m-8-41h9m-9 18h9m-8 8h9m-7 39h9m-9 115h9m-7-84h9m-8-114h9m-9 31h9m-8 12h9m-9 61h9m-8-119h9m-9 87h9m-9 128h9m-8-156h9m-7 96h9m-8-78h9m-8-112h9m-9 64h9m-9 114h9m-8-101h9m-8 180h9m-8-84h9m-8 3h9m-8-123h9m-9 21h9m-8 4h9m-9 42h9m-8-149h9m-9 70h9m-8-16h9m-9 16h9m-9 34h9m-9 38h9m-9 99h9m-9 1h9m-8-143h9m-9 99h9m-8-36h9m-8-70h9m-9 24h9m-8-28h9m-8-1h9m-8 121h9m-8 79h9m-8-147h9m-8-82h9m-9 50h9m-8-43h9m-6 59h9m-9 10h9m-9 85h9m-8-77h9m-8 36h9m-8-95h9m-7-142h9m-9 146h9m-9 54h9m-8-87h9m-7 174h9m-8 40h9m-5-70h9m-8-65h9m-7-9h9m-8-21h9m-8 29h9m-9 40h9m-8-166h9m-9 133h9m-8-164h9m-9 14h9m-9 127h9m-8 62h9m-7-45h9m-9 18h9m-8-73h9m-7 25h9m-9 75h9m-7-313h9m-9 253h9m-9 94h9m-8-127h9m-7-140h9m-9 80h9m-9 235h9m-8-284h9m-9 146h9m-9 99h9m-8-20h9m-9 10h9m-6-47h9m-8-141h9m-6 101h9m-7 99h9m-7-19h9m-7-54h9m-8-140h9m-7-64h9m-4 16h9m-6 6h9m-7 98h9m-5-192h9m-9 167h9m-9 71h9m-3-125h9m0 118h9m-7-43h9m-8 40h9m-6 190h9m-7-171h9m-7 42h9m-7-277h9m-8 143h9m-9 207h9m-5-36h9m-6-116h9m-5 100h9m-8-233h9m7 219h9m19-169h9m-3-84h9m5 248h9m-6-81h9m9 171h9m-3-313h9m7 40h9m-9 119h9m-4-96h9m-4-110h9m-5 300h9m14-21h9m20-157h9m8 132h9m16 2h9m-7-227h9m-8 270h9m-4-277h9" stroke="#000" stroke-width="9" fill="none"/>
<rect x="265.80" y="96.70" width="62.70" height="47.50" fill="none" stroke="#000" stroke-width="1.1"/>
<line x1="284.40" y1="96.70" x2="284.40" y2="144.20" stroke="#000" stroke-width="0.9"/>
<line x1="265.80" y1="134.60" x2="328.50" y2="134.60" stroke="#000" stroke-width="0.9"/>
<line x1="265.00" y1="149.20" x2="329.00" y2="149.20" stroke="#000" stroke-width="1.7"/>
<polygon points="337.00,149.20 328.00,146.00 328.00,152.40" fill="#000"/>
<text x="265.8" y="159.4" font-size="10.5" font-family='"Liberation Serif", serif' font-weight="bold" text-anchor="start" textLength="53.8" lengthAdjust="spacingAndGlyphs" stroke="#000" stroke-width="0.3">CD25 FITC</text>
<text x="267.5" y="108" font-size="8.2" font-family='"Liberation Serif", serif' font-weight="bold" text-anchor="start" textLength="23.5" lengthAdjust="spacingAndGlyphs" stroke="#000" stroke-width="0.3">31.7%</text>
<text x="298" y="108" font-size="8.2" font-family='"Liberation Serif", serif' font-weight="bold" text-anchor="start" textLength="22" lengthAdjust="spacingAndGlyphs" stroke="#000" stroke-width="0.3">20.0%</text>
<ellipse cx="192.7" cy="199" rx="5.2" ry="13" fill="#000" opacity="1"/>
<ellipse cx="228" cy="201" rx="4.3" ry="9.5" fill="#000" opacity="1"/>
<path transform="scale(.1)" d="m1851 1843h9m-9 75h9m-9 15h9m-9 11h9m-8 117h9m-8-179h9m-9 108h9m-9 22h9m-9 90h9m-8-203h9m-9 68h9m-8-246h9m-9 327h9m-7-261h9m-9 52h9m-9 103h9m-9 4h9m-9 23h9m-8-51h9m-9 0h9m-9 18h9m-8-142h9m-9 31h9m-9 176h9m-9 51h9m-9 17h9m-8-117h9m-9 15h9m-9 55h9m-9 54h9m-9 35h9m-8-181h9m-8-104h9m-9 36h9m-9 17h9m-9 11h9m-9 75h9m-9 1h9m-9 32h9m-9 107h9m-8-256h9m-9 14h9m-8-158h9m-9 151h9m-9 109h9m-9 25h9m-8-147h9m-9 102h9m-9 31h9m-9 44h9m-9 71h9m-7-219h9m-9 111h9m-9 83h9m-8-99h9m-9 158h9m-8-224h9m-9 17h9m-9 31h9m-9 1h9m-9 36h9m-8-68h9m-9 48h9m-9 67h9m-9 13h9m-9 12h9m-9 60h9m-9 7h9m-8-160h9m-9 4h9m-9 45h9m-9 33h9m-8-57h9m-9 0h9m-9 145h9m-8-271h9m-9 27h9m-9 15h9m-9 25h9m-9 23h9m-9 21h9m-9 25h9m-9 80h9m-8-249h9m-9 96h9m-9 125h9m-9 49h9m-8-273h9m-9 47h9m-9 30h9m-9 2h9m-9 22h9m-9 8h9m-9 14h9m-9 12h9m-9 31h9m-9 66h9m-8-151h9m-9 16h9m-9 12h9m-9 23h9m-9 65h9m-9 16h9m-9 26h9m-9 49h9m-8-254h9m-9 23h9m-9 17h9m-9 29h9m-9 23h9m-9 29h9m-9 38h9m-9 11h9m-9 20h9m-9 2h9m-9 61h9m-8-404h9m-9 88h9m-9 42h9m-9 174h9m-9 7h9m-9 16h9m-9 20h9m-9 15h9m-9 22h9m-9 27h9m-8-192h9m-9 5h9m-9 47h9m-9 9h9m-9 86h9m-9 10h9m-8-187h9m-9 5h9m-9 6h9m-9 14h9m-9 8h9m-9 31h9m-9 14h9m-9 13h9m-9 8h9m-9 27h9m-9 18h9m-9 16h9m-8-229h9m-9 148h9m-9 94h9m-9 2h9m-8-330h9m-9 148h9m-9 27h9m-9 14h9m-9 18h9m-9 10h9m-9 6h9m-9 51h9m-9 32h9m-9 47h9m-8-342h9m-9 72h9m-9 9h9m-9 118h9m-9 13h9m-9 110h9m-9 39h9m-8-274h9m-9 48h9m-9 57h9m-9 80h9m-9 104h9m-8-322h9m-9 68h9m-9 16h9m-9 3h9m-9 8h9m-9 20h9m-9 1h9m-9 4h9m-9 18h9m-9 31h9m-9 0h9m-9 15h9m-9 32h9m-9 40h9m-9 18h9m-8-177h9m-9 41h9m-9 44h9m-9 12h9m-9 14h9m-9 17h9m-8-189h9m-9 28h9m-9 46h9m-9 8h9m-9 6h9m-9 1h9m-9 46h9m-9 7h9m-9 1h9m-9 10h9m-9 49h9m-9 19h9m-9 5h9m-9 2h9m-9 22h9m-8-244h9m-9 31h9m-9 8h9m-9 26h9m-9 50h9m-9 20h9m-9 15h9m-9 61h9m-9 32h9m-9 31h9m-8-334h9m-9 81h9m-9 19h9m-9 44h9m-9 7h9m-9 35h9m-9 59h9m-9 7h9m-9 7h9m-9 50h9m-9 19h9m-9 9h9m-8-330h9m-9 7h9m-9 120h9m-9 32h9m-9 34h9m-9 22h9m-9 2h9m-9 26h9m-9 18h9m-9 18h9m-9 11h9m-8-263h9m-9 22h9m-9 18h9m-9 22h9m-9 42h9m-9 3h9m-9 30h9m-9 6h9m-9 51h9m-9 36h9m-9 35h9m-9 11h9m-9 5h9m-8-195h9m-9 43h9m-9 4h9m-9 25h9m-9 2h9m-9 4h9m-9 18h9m-9 27h9m-9 29h9m-9 20h9m-8-337h9m-9 94h9m-9 1h9m-9 24h9m-9 2h9m-9 7h9m-9 67h9m-9 8h9m-9 0h9m-9 8h9m-9 11h9m-9 36h9m-9 10h9m-9 5h9m-9 5h9m-9 16h9m-9 11h9m-9 6h9m-9 12h9m-8-204h9m-9 20h9m-9 11h9m-9 2h9m-9 13h9m-9 16h9m-9 54h9m-9 82h9m-9 3h9m-9 16h9m-8-356h9m-9 45h9m-9 169h9m-9 127h9m-9 53h9m-9 8h9m-8-284h9m-9 7h9m-9 61h9m-9 1h9m-9 60h9m-9 39h9m-9 14h9m-9 4h9m-9 0h9m-9 59h9m-8-247h9m-9 25h9m-9 39h9m-9 3h9m-9 17h9m-9 5h9m-9 32h9m-9 8h9m-9 25h9m-9 54h9m-8-256h9m-9 33h9m-9 22h9m-9 17h9m-9 15h9m-9 28h9m-9 12h9m-9 2h9m-9 0h9m-9 7h9m-9 53h9m-9 55h9m-8-232h9m-9 10h9m-9 49h9m-9 21h9m-9 22h9m-9 9h9m-9 10h9m-9 29h9m-9 10h9m-9 34h9m-9 2h9m-9 13h9m-9 13h9m-9 67h9m-9 33h9m-8-300h9m-9 46h9m-9 6h9m-9 1h9m-9 48h9m-9 2h9m-9 50h9m-9 35h9m-9 24h9m-9 24h9m-9 17h9m-9 3h9m-8-303h9m-9 34h9m-9 22h9m-9 34h9m-9 15h9m-9 29h9m-9 85h9m-9 51h9m-9 7h9m-9 4h9m-9 11h9m-9 19h9m-8-324h9m-9 42h9m-9 63h9m-9 22h9m-9 7h9m-9 3h9m-9 22h9m-9 20h9m-9 27h9m-9 6h9m-9 1h9m-9 47h9m-9 1h9m-9 15h9m-9 10h9m-9 5h9m-9 16h9m-9 10h9m-9 2h9m-8-208h9m-9 18h9m-9 6h9m-9 29h9m-9 10h9m-9 13h9m-9 26h9m-9 50h9m-9 8h9m-9 36h9m-9 5h9m-9 16h9m-9 37h9m-8-334h9m-9 16h9m-9 15h9m-9 2h9m-9 30h9m-9 9h9m-9 20h9m-9 13h9m-9 3h9m-9 44h9m-9 5h9m-9 29h9m-9 25h9m-9 14h9m-9 21h9m-9 29h9m-9 41h9m-8-351h9m-9 50h9m-9 24h9m-9 42h9m-9 8h9m-9 5h9m-9 14h9m-9 6h9m-9 3h9m-9 9h9m-9 34h9m-9 70h9m-9 26h9m-9 23h9m-9 8h9m-8-292h9m-9 6h9m-9 38h9m-9 62h9m-9 6h9m-9 41h9m-9 16h9m-9 1h9m-9 8h9m-9 7h9m-9 44h9m-9 1h9m-9 10h9m-9 4h9m-9 1h9m-9 43h9m-9 8h9m-9 5h9m-9 7h9m-8-355h9m-9 41h9m-9 32h9m-9 46h9m-9 12h9m-9 13h9m-9 9h9m-9 17h9m-9 2h9m-9 30h9m-9 2h9m-9 2h9m-9 1h9m-9 3h9m-9 38h9m-9 4h9m-9 69h9m-9 0h9m-9 33h9m-8-383h9m-9 31h9m-9 81h9m-9 40h9m-9 37h9m-9 4h9m-9 2h9m-9 22h9m-9 4h9m-9 19h9m-9 13h9m-9 2h9m-9 28h9m-9 45h9m-9 14h9m-9 14h9m-8-253h9m-9 1h9m-9 35h9m-9 10h9m-9 31h9m-9 33h9m-9 53h9m-9 15h9m-9 12h9m-9 68h9m-8-309h9m-9 59h9m-9 6h9m-9 21h9m-9 43h9m-9 4h9m-9 15h9m-9 15h9m-9 5h9m-9 6h9m-9 34h9m-9 14h9m-9 7h9m-9 2h9m-9 25h9m-9 4h9m-9 39h9m-9 7h9m-9 17h9m-9 1h9m-9 2h9m-8-217h9m-9 37h9m-9 34h9m-9 12h9m-9 12h9m-9 21h9m-9 20h9m-9 54h9m-9 24h9m-8-302h9m-9 67h9m-9 13h9m-9 3h9m-9 11h9m-9 2h9m-9 18h9m-9 23h9m-9 28h9m-9 72h9m-9 13h9m-9 44h9m-9 19h9m-9 10h9m-9 7h9m-8-318h9m-9 34h9m-9 21h9m-9 7h9m-9 1h9m-9 21h9m-9 21h9m-9 36h9m-9 14h9m-9 33h9m-9 13h9m-9 2h9m-9 1h9m-9 1h9m-9 21h9m-9 13h9m-9 66h9m-8-278h9m-9 41h9m-9 18h9m-9 18h9m-9 3h9m-9 3h9m-9 15h9m-9 13h9m-9 10h9m-9 42h9m-9 3h9m-9 12h9m-9 14h9m-9 0h9m-9 13h9m-9 21h9m-9 8h9m-9 3h9m-9 0h9m-9 44h9m-8-359h9m-9 85h9m-9 45h9m-9 2h9m-9 37h9m-9 7h9m-9 0h9m-9 11h9m-9 32h9m-9 1h9m-9 38h9m-9 22h9m-9 7h9m-9 8h9m-9 34h9m-9 46h9m-8-348h9m-9 72h9m-9 38h9m-9 12h9m-9 4h9m-9 10h9m-9 36h9m-9 0h9m-9 27h9m-9 3h9m-9 9h9m-9 9h9m-9 4h9m-9 1h9m-9 12h9m-9 43h9m-9 3h9m-9 22h9m-9 7h9m-8-293h9m-9 39h9m-9 9h9m-9 10h9m-9 32h9m-9 1h9m-9 3h9m-9 2h9m-9 8h9m-9 25h9m-9 11h9m-9 3h9m-9 10h9m-9 12h9m-9 13h9m-9 8h9m-9 9h9m-9 7h9m-9 4h9m-9 34h9m-9 27h9m-9 4h9m-9 18h9m-9 17h9m-9 1h9m-9 5h9m-9 9h9m-8-269h9m-9 27h9m-9 22h9m-9 1h9m-9 17h9m-9 13h9m-9 2h9m-9 18h9m-9 30h9m-9 1h9m-9 13h9m-9 7h9m-9 10h9m-9 6h9m-9 27h9m-9 23h9m-9 17h9m-8-273h9m-9 29h9m-9 55h9m-9 35h9m-9 10h9m-9 2h9m-9 2h9m-9 33h9m-9 18h9m-9 11h9m-9 17h9m-9 32h9m-9 5h9m-9 3h9m-9 16h9m-9 3h9m-9 51h9m-8-327h9m-9 84h9m-9 10h9m-9 7h9m-9 2h9m-9 38h9m-9 15h9m-9 2h9m-9 16h9m-9 11h9m-9 2h9m-9 6h9m-9 22h9m-9 24h9m-9 25h9m-9 12h9m-9 9h9m-9 12h9m-8-270h9m-9 29h9m-9 9h9m-9 22h9m-9 55h9m-9 16h9m-9 14h9m-9 14h9m-9 4h9m-9 18h9m-9 3h9m-9 25h9m-9 11h9m-9 0h9m-9 23h9m-9 1h9m-9 3h9m-9 3h9m-9 21h9m-9 3h9m-8-241h9m-9 28h9m-9 12h9m-9 26h9m-9 12h9m-9 0h9m-9 4h9m-9 12h9m-9 3h9m-9 3h9m-9 6h9m-9 0h9m-9 8h9m-9 1h9m-9 39h9m-9 13h9m-9 14h9m-9 15h9m-9 28h9m-8-263h9m-9 27h9m-9 14h9m-9 6h9m-9 42h9m-9 41h9m-9 0h9m-9 1h9m-9 14h9m-9 37h9m-9 21h9m-9 14h9m-9 1h9m-9 8h9m-9 8h9m-8-199h9m-9 4h9m-9 26h9m-9 20h9m-9 23h9m-9 1h9m-9 0h9m-9 34h9m-9 4h9m-9 18h9m-9 12h9m-9 3h9m-9 25h9m-9 1h9m-9 15h9m-9 0h9m-9 1h9m-9 0h9m-9 1h9m-9 86h9m-8-369h9m-9 39h9m-9 2h9m-9 42h9m-9 31h9m-9 47h9m-9 6h9m-9 13h9m-9 40h9m-9 7h9m-9 2h9m-9 12h9m-9 4h9m-9 43h9m-9 30h9m-9 1h9m-9 37h9m-8-312h9m-9 28h9m-9 15h9m-9 2h9m-9 27h9m-9 7h9m-9 5h9m-9 26h9m-9 4h9m-9 11h9m-9 18h9m-9 2h9m-9 3h9m-9 8h9m-9 24h9m-9 7h9m-9 55h9m-9 32h9m-9 21h9m-9 5h9m-8-305h9m-9 12h9m-9 102h9m-9 23h9m-9 17h9m-9 13h9m-9 6h9m-9 4h9m-9 3h9m-9 30h9m-9 18h9m-9 5h9m-9 20h9m-9 57h9m-8-300h9m-9 13h9m-9 35h9m-9 3h9m-9 15h9m-9 14h9m-9 24h9m-9 5h9m-9 20h9m-9 3h9m-9 1h9m-9 41h9m-9 46h9m-9 31h9m-9 31h9m-9 6h9m-8-326h9m-9 10h9m-9 20h9m-9 8h9m-9 50h9m-9 14h9m-9 33h9m-9 15h9m-9 5h9m-9 13h9m-9 4h9m-9 9h9m-9 26h9m-9 12h9m-9 3h9m-9 11h9m-9 2h9m-9 3h9m-9 8h9m-9 17h9m-9 4h9m-9 8h9m-9 14h9m-9 5h9m-9 4h9m-9 11h9m-8-254h9m-9 40h9m-9 5h9m-9 12h9m-9 13h9m-9 10h9m-9 19h9m-9 1h9m-9 21h9m-9 2h9m-9 32h9m-9 4h9m-9 7h9m-9 2h9m-9 20h9m-9 4h9m-9 34h9m-9 19h9m-9 9h9m-9 7h9m-9 15h9m-9 12h9m-9 5h9m-8-336h9m-9 61h9m-9 62h9m-9 10h9m-9 13h9m-9 14h9m-9 39h9m-9 20h9m-9 2h9m-9 4h9m-9 9h9m-9 8h9m-9 13h9m-9 5h9m-9 4h9m-9 9h9m-8-279h9m-9 62h9m-9 42h9m-9 7h9m-9 27h9m-9 35h9m-9 13h9m-9 43h9m-9 12h9m-9 0h9m-9 29h9m-9 1h9m-9 33h9m-9 21h9m-8-283h9m-9 27h9m-9 30h9m-9 0h9m-9 5h9m-9 3h9m-9 20h9m-9 8h9m-9 3h9m-9 7h9m-9 2h9m-9 2h9m-9 0h9m-9 34h9m-9 52h9m-9 2h9m-9 1h9m-9 11h9m-9 8h9m-9 2h9m-9 11h9m-9 3h9m-9 18h9m-9 14h9m-9 3h9m-8-262h9m-9 11h9m-9 17h9m-9 4h9m-9 5h9m-9 39h9m-9 32h9m-9 52h9m-9 1h9m-9 1h9m-9 14h9m-9 12h9m-9 11h9m-9 26h9m-9 7h9m-9 11h9m-9 31h9m-9 0h9m-8-295h9m-9 12h9m-9 0h9m-9 15h9m-9 23h9m-9 16h9m-9 22h9m-9 18h9m-9 10h9m-9 66h9m-9 25h9m-9 0h9m-9 19h9m-9 31h9m-9 8h9m-9 23h9m-9 11h9m-9 2h9m-8-252h9m-9 9h9m-9 16h9m-9 45h9m-9 1h9m-9 8h9m-9 21h9m-9 35h9m-9 20h9m-9 0h9m-9 12h9m-9 4h9m-9 6h9m-9 5h9m-9 16h9m-9 25h9m-9 29h9m-8-320h9m-9 13h9m-9 45h9m-9 31h9m-9 2h9m-9 4h9m-9 10h9m-9 13h9m-9 16h9m-9 18h9m-9 10h9m-9 11h9m-9 13h9m-9 0h9m-9 3h9m-9 28h9m-9 8h9m-9 32h9m-9 5h9m-8-232h9m-9 15h9m-9 36h9m-9 53h9m-9 33h9m-9 18h9m-9 25h9m-9 9h9m-9 3h9m-9 7h9m-9 2h9m-9 12h9m-9 5h9m-9 39h9m-9 9h9m-9 15h9m-8-293h9m-9 23h9m-9 42h9m-9 18h9m-9 38h9m-9 39h9m-9 15h9m-9 2h9m-9 1h9m-9 2h9m-9 11h9m-9 6h9m-9 10h9m-9 2h9m-9 5h9m-9 53h9m-9 13h9m-8-356h9m-9 123h9m-9 90h9m-9 79h9m-9 50h9m-9 12h9m-9 9h9m-9 18h9m-8-298h9m-9 2h9m-9 52h9m-9 27h9m-9 5h9m-9 15h9m-9 14h9m-9 38h9m-9 9h9m-9 6h9m-9 14h9m-9 7h9m-9 7h9m-9 2h9m-9 11h9m-9 24h9m-9 22h9m-9 19h9m-9 3h9m-9 4h9m-8-312h9m-9 66h9m-9 34h9m-9 2h9m-9 24h9m-9 29h9m-9 0h9m-9 23h9m-9 1h9m-9 12h9m-9 29h9m-9 45h9m-9 0h9m-9 19h9m-9 0h9m-9 18h9m-9 10h9m-9 7h9m-9 12h9m-8-245h9m-9 37h9m-9 14h9m-9 4h9m-9 32h9m-9 14h9m-9 14h9m-9 4h9m-9 7h9m-9 15h9m-9 3h9m-9 6h9m-9 5h9m-9 18h9m-9 10h9m-9 1h9m-9 6h9m-9 2h9m-8-328h9m-9 111h9m-9 1h9m-9 30h9m-9 7h9m-9 68h9m-9 2h9m-9 2h9m-9 12h9m-9 81h9m-9 2h9m-9 3h9m-9 14h9m-9 15h9m-8-324h9m-9 91h9m-9 15h9m-9 12h9m-9 1h9m-9 8h9m-9 36h9m-9 6h9m-9 26h9m-9 4h9m-9 11h9m-9 15h9m-9 5h9m-9 0h9m-9 7h9m-9 16h9m-9 40h9m-9 25h9m-8-301h9m-9 44h9m-9 21h9m-9 50h9m-9 43h9m-9 21h9m-9 12h9m-9 13h9m-9 13h9m-9 14h9m-9 28h9m-9 4h9m-9 3h9m-9 23h9m-9 9h9m-8-242h9m-9 21h9m-9 48h9m-9 31h9m-9 14h9m-9 12h9m-9 10h9m-9 1h9m-9 4h9m-9 41h9m-9 9h9m-9 5h9m-9 15h9m-9 25h9m-9 7h9m-9 26h9m-9 2h9m-9 20h9m-9 10h9m-8-328h9m-9 3h9m-9 5h9m-9 56h9m-9 29h9m-9 17h9m-9 15h9m-9 16h9m-9 26h9m-9 13h9m-9 10h9m-9 57h9m-9 39h9m-9 3h9m-9 34h9m-8-390h9m-9 177h9m-9 5h9m-9 6h9m-9 13h9m-9 13h9m-9 3h9m-9 59h9m-9 19h9m-9 20h9m-9 15h9m-9 29h9m-8-381h9m-9 8h9m-9 130h9m-9 80h9m-9 5h9m-9 1h9m-9 15h9m-9 5h9m-9 11h9m-9 6h9m-9 31h9m-9 43h9m-9 20h9m-9 5h9m-9 15h9m-9 22h9m-9 5h9m-8-364h9m-9 63h9m-9 5h9m-9 62h9m-9 40h9m-8-113h9m-9 13h9m-9 14h9m-9 14h9m-9 34h9m-9 19h9m-9 0h9m-9 49h9m-9 13h9m-9 16h9m-9 3h9m-9 11h9m-9 6h9m-9 3h9m-9 30h9m-9 22h9m-8-185h9m-9 1h9m-9 24h9m-9 8h9m-9 10h9m-9 7h9m-9 14h9m-9 18h9m-9 24h9m-9 28h9m-9 45h9m-9 2h9m-9 10h9m-9 62h9m-8-315h9m-9 12h9m-9 27h9m-9 7h9m-9 56h9m-9 2h9m-9 4h9m-9 9h9m-9 69h9m-9 9h9m-9 2h9m-9 19h9m-9 29h9m-9 4h9m-9 11h9m-9 7h9m-9 24h9m-8-303h9m-9 66h9m-9 2h9m-9 12h9m-9 17h9m-9 24h9m-9 3h9m-9 0h9m-9 8h9m-9 5h9m-9 7h9m-9 30h9m-9 7h9m-9 3h9m-9 71h9m-9 13h9m-8-274h9m-9 71h9m-9 31h9m-9 20h9m-9 24h9m-9 11h9m-9 38h9m-9 53h9m-9 14h9m-9 17h9m-9 59h9m-8-229h9m-9 12h9m-9 1h9m-9 13h9m-9 6h9m-9 7h9m-9 41h9m-9 2h9m-9 33h9m-9 4h9m-9 68h9m-9 38h9m-8-357h9m-9 50h9m-9 40h9m-9 42h9m-9 15h9m-9 71h9m-9 21h9m-9 21h9m-8-174h9m-9 33h9m-9 13h9m-9 23h9m-9 4h9m-9 9h9m-9 3h9m-9 11h9m-9 17h9m-9 1h9m-9 13h9m-9 13h9m-9 14h9m-8-125h9m-9 3h9m-9 5h9m-9 39h9m-9 3h9m-9 5h9m-9 8h9m-9 15h9m-9 44h9m-9 10h9m-9 42h9m-9 26h9m-9 5h9m-8-323h9m-9 43h9m-9 51h9m-9 45h9m-9 86h9m-9 26h9m-9 23h9m-9 8h9m-9 1h9m-8-158h9m-9 22h9m-9 2h9m-9 26h9m-9 6h9m-9 20h9m-9 6h9m-9 51h9m-9 47h9m-9 4h9m-9 40h9m-8-245h9m-9 43h9m-9 16h9m-9 11h9m-9 1h9m-9 9h9m-9 24h9m-9 38h9m-9 18h9m-9 49h9m-9 41h9m-8-283h9m-9 75h9m-9 54h9m-9 35h9m-9 11h9m-9 5h9m-9 0h9m-9 7h9m-8-210h9m-9 19h9m-9 10h9m-9 91h9m-9 39h9m-9 47h9m-9 3h9m-9 10h9m-9 16h9m-9 69h9m-8-147h9m-9 2h9m-9 3h9m-9 66h9m-8-271h9m-9 43h9m-9 90h9m-9 12h9m-9 5h9m-9 26h9m-9 54h9m-9 22h9m-9 21h9m-9 21h9m-9 5h9m-9 22h9m-8-181h9m-9 54h9m-9 18h9m-8-180h9m-9 62h9m-9 76h9m-9 13h9m-9 43h9m-9 36h9m-9 15h9m-9 7h9m-9 36h9m-9 5h9m-8-264h9m-9 71h9m-9 11h9m-9 47h9m-9 7h9m-9 71h9m-9 6h9m-9 31h9m-8-363h9m-9 70h9m-9 25h9m-9 52h9m-9 57h9m-9 3h9m-9 11h9m-9 32h9m-9 43h9m-9 54h9m-8-221h9m-9 3h9m-9 97h9m-9 12h9m-9 31h9m-9 12h9m-9 69h9m-9 69h9m-8-255h9m-9 57h9m-9 30h9m-9 83h9m-8-309h9m-9 84h9m-9 29h9m-9 69h9m-9 77h9m-9 4h9m-9 55h9m-9 8h9m-8-140h9m-9 39h9m-9 10h9m-9 7h9m-9 11h9m-9 6h9m-9 3h9m-9 43h9m-9 4h9m-8-203h9m-9 21h9m-9 11h9m-9 37h9m-8-24h9m-9 90h9m-9 37h9m-9 7h9m-9 34h9m-9 22h9m-8-256h9m-9 96h9m-9 35h9m-9 44h9m-9 26h9m-9 15h9m-8-241h9m-9 98h9m-9 53h9m-9 14h9m-9 13h9m-9 0h9m-9 81h9m-9 12h9m-8-224h9m-9 2h9m-9 22h9m-9 27h9m-9 34h9m-9 106h9m-9 4h9m-9 10h9m-8-166h9m-9 33h9m-9 14h9m-9 79h9m-9 15h9m-9 15h9m-8-105h9m-9 11h9m-9 28h9m-9 21h9m-9 7h9m-9 3h9m-8-80h9m-9 42h9m-9 6h9m-9 55h9m-8-142h9m-9 20h9m-9 28h9m-9 126h9m-9 3h9m-9 48h9m-9 22h9m-8-248h9m-9 21h9m-9 47h9m-9 53h9m-9 15h9m-8-194h9m-9 83h9m-9 139h9m-8-98h9m-9 29h9m-9 43h9m-9 3h9m-9 30h9m-8-197h9m-9 96h9m-9 21h9m-8-44h9m-8-86h9m-9 59h9m-9 27h9m-9 110h9m-9 35h9m-8-194h9m-9 86h9m-9 43h9m-9 0h9m-8-223h9m-9 92h9m-9 38h9m-9 82h9m-8-134h9m-9 76h9m-9 23h9m-8-176h9m-9 83h9m-9 73h9m-9 63h9m-8-128h9m-9 17h9m-9 7h9m-9 35h9m-9 58h9m-9 58h9m-9 16h9m-8-190h9m-9 72h9m-9 13h9m-8 4h9m-8-92h9m-9 209h9m-8-55h9m-8-106h9m-7 25h9m-9 12h9m-8 146h9m-8-185h9m-9 198h9m-8-236h9m-9 71h9m-9 23h9m-9 69h9m-9 41h9m-9 7h9m-8-310h9m-9 248h9m-9 78h9m-8-187h9m-9 119h9m-7-140h9m-9 180h9m-8-162h9m-9 132h9m-7-210h9m-9 9h9m-9 64h9m-9 32h9m-9 136h9m-9 20h9m-8-287h9m-9 144h9m-9 164h9m-8-186h9m-9 97h9m-8-100h9m-9 5h9m-6 42h9m-8-9h9m-8-40h9m-9 67h9m-8-174h9m-9 131h9m-8-48h9m-9 15h9m-9 26h9m-9 78h9m-8-288h9m-9 109h9m-9 114h9m-9 21h9m-8 25h9m-8-59h9m-9 66h9m-9 39h9m-8-185h9m-9 174h9m-7-245h9m-8 303h9m-8-243h9m-8-160h9m-9 179h9m-5-170h9m-9 209h9m-8 77h9m-9 40h9m-7-170h9m-7 253h9m-8-179h9m-9 49h9m-8 62h9m-7 23h9m-9 8h9m-8-348h9m-8 112h9m-7-90h9m-9 177h9m-9 20h9m-7 23h9m-9 64h9m-8-56h9m-7-254h9m-9 150h9m-9 30h9m-9 109h9m-9 3h9m-9 75h9m-8-215h9m-9 26h9m-9 99h9m-7-217h9m-9 303h9m-7-210h9m-5 46h9m-9 62h9m-8-35h9m-8 30h9m-9 1h9m-8-65h9m-8 115h9m-6-198h9m-9 162h9m-9 14h9m-7 37h9m-8-44h9m-8 37h9m-7-95h9m-9 72h9m-7-166h9m-9 21h9m-9 64h9m-8-88h9m-9 29h9m-8-150h9m-9 312h9m-7-10h9m-7-142h9m-9 177h9m-8-225h9m-9 10h9m-9 157h9m-9 67h9m-7-133h9m-8 157h9m-8-145h9m-9 5h9m-9 1h9m-6-8h9m-9 73h9m-8-118h9m-9 163h9m-8-97h9m-9 24h9m-8-58h9m-8 29h9m-9 14h9m-8 62h9m-8-17h9m-8-128h9m-9 111h9m-8-67h9m-9 21h9m-7-63h9m-8-37h9m-9 65h9m-7 81h9m-8-134h9m-9 222h9m-8-176h9m-7 20h9m-8-116h9m-9 83h9m-8 125h9m-8-285h9m-8 244h9m-8 73h9m-8-90h9m-6 26h9m-8 50h9m-9 56h9m-8-261h9m-9 163h9m-7-23h9m-9 64h9m-8-79h9m-9 0h9m-8-54h9m-8 25h9m-9 100h9m-8-86h9m-8-120h9m-9 80h9m-9 54h9m-9 38h9m-8-1h9m-8-77h9m-9 8h9m-8-53h9m-9 171h9m-8-242h9m-9 42h9m-9 9h9m-9 179h9m-9 56h9m-8-212h9m-7 51h9m-9 30h9m-9 2h9m-8-49h9m-9 44h9m-9 93h9m-8-226h9m-8-8h9m-9 133h9m-9 13h9m-8-63h9m-9 21h9m-8-143h9m-9 141h9m-9 14h9m-9 124h9m-7-70h9m-7-173h9m-9 30h9m-9 227h9m-8-151h9m-9 41h9m-8-183h9m-9 34h9m-9 118h9m-9 74h9m-8-46h9m-6 12h9m-9 52h9m-8-118h9m-9 100h9m-8-85h9m-9 197h9m-7-224h9m-8 44h9m-9 19h9m-9 8h9m-7-6h9m-9 97h9m-8-42h9m-8-115h9m-7-44h9m-8 16h9m-9 30h9m-8 61h9m-9 32h9m-9 14h9m-8-145h9m-8 45h9m-7 24h9m-8-73h9m-7 25h9m-8 22h9m-8 5h9m-9 185h9m-8-106h9m-8-64h9m-8-80h9m-9 235h9m-8-279h9m-9 1h9m-9 102h9m-9 40h9m-8-108h9m-8 182h9m-9 86h9m-8-245h9m-9 85h9m-8-55h9m-9 69h9m-8-60h9m-9 82h9m-9 87h9m-8-70h9m-9 64h9m-8-239h9m-8-20h9m-7 110h9m-8-26h9m-9 32h9m-8 119h9m-8-199h9m-8 50h9m-9 79h9m-8-144h9m-9 16h9m-9 68h9m-8 73h9m-9 0h9m-9 53h9m-8-229h9m-8 151h9m-6 22h9m-8 16h9m-9 20h9m-9 87h9m-8-121h9m-9 20h9m-8 1h9m-9 31h9m-7-213h9m-9 154h9m-7-11h9m-9 20h9m-9 80h9m-9 57h9m-8-225h9m-9 39h9m-9 27h9m-9 3h9m-8-40h9m-9 199h9m-7-194h9m-9 28h9m-9 46h9m-9 27h9m-8-51h9m-9 27h9m-8 7h9m-9 55h9m-8 10h9m-8-142h9m-9 58h9m-9 90h9m-8-146h9m-9 74h9m-9 27h9m-8-329h9m-9 194h9m-9 51h9m-9 3h9m-9 46h9m-9 54h9m-8-181h9m-9 48h9m-9 43h9m-9 1h9m-9 92h9m-9 50h9m-8-203h9m-9 54h9m-9 75h9m-8-8h9m-9 54h9m-9 5h9m-8-267h9m-9 117h9m-9 46h9m-8-229h9m-8-62h9m-9 267h9m-9 58h9m-9 12h9m-9 74h9m-8-36h9m-9 50h9m-8-148h9m-9 41h9m-9 24h9m-9 49h9m-9 12h9m-8-168h9m-9 23h9m-9 32h9m-8-80h9m-9 88h9m-8-57h9m-9 30h9m-8-82h9m-9 49h9m-9 77h9m-9 66h9m-9 34h9m-8-253h9m-9 90h9m-9 57h9m-9 7h9m-9 102h9m-8-146h9m-9 44h9m-9 1h9m-9 16h9m-8-115h9m-9 94h9m-9 96h9m-8-199h9m-9 66h9m-9 3h9m-9 75h9m-9 1h9m-9 55h9m-8-158h9m-9 85h9m-9 7h9m-9 43h9m-9 23h9m-9 3h9m-8-227h9m-9 5h9m-9 64h9m-9 30h9m-9 27h9m-9 13h9m-9 11h9m-9 11h9m-9 1h9m-9 37h9m-8-131h9m-9 2h9m-9 19h9m-9 1h9m-8-24h9m-9 37h9m-9 19h9m-9 62h9m-9 11h9m-9 7h9m-9 20h9m-8-310h9m-9 120h9m-9 8h9m-9 12h9m-9 22h9m-9 38h9m-8-229h9m-9 102h9m-9 57h9m-9 78h9m-9 25h9m-8-117h9m-9 1h9m-9 80h9m-9 43h9m-9 15h9m-8-112h9m-9 6h9m-9 20h9m-9 34h9m-9 39h9m-9 14h9m-9 33h9m-9 1h9m-9 0h9m-9 8h9m-8-255h9m-9 6h9m-9 96h9m-9 31h9m-9 7h9m-9 14h9m-9 67h9m-9 9h9m-9 12h9m-8-278h9m-9 67h9m-9 36h9m-9 23h9m-9 7h9m-9 3h9m-9 8h9m-9 49h9m-9 7h9m-9 64h9m-8-191h9m-9 48h9m-9 55h9m-9 40h9m-9 22h9m-9 4h9m-9 1h9m-9 78h9m-8-256h9m-9 29h9m-9 6h9m-9 128h9m-9 42h9m-9 3h9m-8-136h9m-9 2h9m-9 5h9m-9 2h9m-9 47h9m-9 38h9m-9 20h9m-9 1h9m-8-230h9m-9 2h9m-9 73h9m-9 23h9m-9 32h9m-9 27h9m-9 10h9m-9 19h9m-9 1h9m-9 27h9m-9 58h9m-8-159h9m-9 1h9m-9 99h9m-9 5h9m-9 0h9m-9 3h9m-9 10h9m-9 5h9m-8-231h9m-9 112h9m-9 58h9m-9 14h9m-9 46h9m-9 9h9m-9 10h9m-9 17h9m-8-107h9m-9 33h9m-9 51h9m-8-209h9m-9 102h9m-9 3h9m-9 14h9m-9 73h9m-9 3h9m-9 25h9m-9 6h9m-8-222h9m-9 33h9m-9 52h9m-9 14h9m-9 12h9m-9 30h9m-9 63h9m-9 6h9m-8-164h9m-9 18h9m-9 18h9m-9 12h9m-9 11h9m-9 0h9m-9 36h9m-9 8h9m-9 19h9m-9 14h9m-9 32h9m-8-255h9m-9 126h9m-9 5h9m-9 12h9m-9 47h9m-9 24h9m-9 17h9m-9 5h9m-8-200h9m-9 118h9m-9 38h9m-9 9h9m-9 4h9m-9 13h9m-9 6h9m-9 30h9m-8-202h9m-9 56h9m-9 28h9m-9 18h9m-9 13h9m-9 51h9m-9 18h9m-9 31h9m-9 14h9m-8-203h9m-9 14h9m-9 35h9m-9 2h9m-9 27h9m-9 3h9m-9 17h9m-9 19h9m-9 1h9m-9 5h9m-9 10h9m-9 0h9m-9 21h9m-9 2h9m-8-204h9m-9 7h9m-9 6h9m-9 67h9m-9 8h9m-9 11h9m-9 46h9m-9 22h9m-9 14h9m-9 26h9m-9 0h9m-9 6h9m-9 8h9m-9 19h9m-9 17h9m-8-306h9m-9 29h9m-9 69h9m-9 12h9m-9 44h9m-9 13h9m-9 3h9m-9 21h9m-9 1h9m-9 1h9m-9 32h9m-9 37h9m-9 29h9m-8-216h9m-9 7h9m-9 36h9m-9 2h9m-9 53h9m-9 42h9m-9 76h9m-8-190h9m-9 14h9m-9 8h9m-9 7h9m-9 7h9m-9 2h9m-9 34h9m-9 11h9m-9 29h9m-9 4h9m-9 81h9m-9 8h9m-8-248h9m-9 64h9m-9 13h9m-9 15h9m-9 1h9m-9 42h9m-9 9h9m-9 50h9m-9 7h9m-9 47h9m-8-217h9m-9 21h9m-9 18h9m-9 33h9m-9 18h9m-9 9h9m-9 31h9m-9 26h9m-9 4h9m-9 14h9m-8-216h9m-9 64h9m-9 61h9m-9 23h9m-9 7h9m-9 11h9m-9 4h9m-9 3h9m-9 6h9m-9 2h9m-9 0h9m-9 24h9m-9 30h9m-9 5h9m-8-218h9m-9 17h9m-9 3h9m-9 25h9m-9 18h9m-9 3h9m-9 30h9m-9 1h9m-9 8h9m-9 7h9m-9 25h9m-9 7h9m-9 27h9m-9 11h9m-9 10h9m-9 9h9m-9 4h9m-9 15h9m-9 3h9m-9 23h9m-9 5h9m-8-276h9m-9 90h9m-9 8h9m-9 12h9m-9 3h9m-9 3h9m-9 73h9m-9 5h9m-9 6h9m-9 26h9m-9 1h9m-8-209h9m-9 27h9m-9 41h9m-9 23h9m-9 4h9m-9 4h9m-9 0h9m-9 65h9m-9 28h9m-9 18h9m-9 2h9m-8-276h9m-9 72h9m-9 28h9m-9 19h9m-9 79h9m-9 3h9m-9 1h9m-9 2h9m-9 4h9m-9 0h9m-9 49h9m-9 1h9m-9 54h9m-8-293h9m-9 72h9m-9 26h9m-9 42h9m-9 21h9m-9 5h9m-9 25h9m-9 14h9m-9 6h9m-9 1h9m-9 2h9m-9 30h9m-9 54h9m-8-194h9m-9 7h9m-9 28h9m-9 35h9m-9 15h9m-9 56h9m-9 0h9m-9 9h9m-9 5h9m-8-179h9m-9 49h9m-9 9h9m-9 6h9m-9 13h9m-9 17h9m-9 33h9m-9 6h9m-9 5h9m-9 17h9m-9 44h9m-9 4h9m-9 3h9m-9 2h9m-8-306h9m-9 6h9m-9 115h9m-9 48h9m-9 5h9m-9 1h9m-9 33h9m-9 20h9m-9 6h9m-9 22h9m-9 1h9m-9 2h9m-9 5h9m-9 32h9m-8-260h9m-9 39h9m-9 6h9m-9 28h9m-9 12h9m-9 42h9m-9 16h9m-9 3h9m-9 1h9m-9 0h9m-9 5h9m-9 1h9m-9 22h9m-9 4h9m-9 7h9m-9 34h9m-9 2h9m-9 5h9m-9 2h9m-9 8h9m-9 8h9m-9 4h9m-9 2h9m-9 10h9m-9 5h9m-8-389h9m-9 45h9m-9 129h9m-9 33h9m-9 9h9m-9 11h9m-9 2h9m-9 31h9m-9 34h9m-9 15h9m-9 35h9m-9 6h9m-9 17h9m-9 7h9m-9 19h9m-8-345h9m-9 54h9m-9 62h9m-9 8h9m-9 11h9m-9 23h9m-9 15h9m-9 4h9m-9 13h9m-9 12h9m-9 6h9m-9 1h9m-9 14h9m-9 24h9m-9 71h9m-8-173h9m-9 51h9m-9 0h9m-9 42h9m-9 39h9m-9 3h9m-9 0h9m-9 16h9m-9 15h9m-9 9h9m-9 24h9m-8-198h9m-9 41h9m-9 35h9m-9 15h9m-9 1h9m-9 6h9m-9 2h9m-9 23h9m-9 81h9m-8-255h9m-9 6h9m-9 4h9m-9 41h9m-9 28h9m-9 13h9m-9 10h9m-9 12h9m-9 6h9m-9 1h9m-9 18h9m-9 6h9m-9 32h9m-9 22h9m-9 36h9m-9 11h9m-9 1h9m-8-259h9m-9 20h9m-9 42h9m-9 13h9m-9 26h9m-9 40h9m-9 4h9m-9 4h9m-9 17h9m-9 16h9m-9 0h9m-9 12h9m-9 18h9m-9 3h9m-9 1h9m-9 24h9m-8-411h9m-9 232h9m-9 34h9m-9 27h9m-9 20h9m-9 19h9m-9 17h9m-9 1h9m-9 4h9m-9 4h9m-9 9h9m-9 23h9m-9 15h9m-9 3h9m-8-230h9m-9 32h9m-9 4h9m-9 10h9m-9 52h9m-9 13h9m-9 58h9m-9 13h9m-9 2h9m-9 9h9m-9 9h9m-9 11h9m-9 15h9m-9 7h9m-8-144h9m-9 26h9m-9 29h9m-9 28h9m-9 17h9m-9 0h9m-9 1h9m-9 4h9m-9 5h9m-9 15h9m-8-141h9m-9 28h9m-9 17h9m-9 5h9m-9 7h9m-9 7h9m-9 67h9m-9 27h9m-8-279h9m-9 117h9m-9 24h9m-9 4h9m-9 19h9m-9 3h9m-9 6h9m-9 0h9m-9 31h9m-9 30h9m-9 10h9m-9 8h9m-9 13h9m-9 8h9m-9 20h9m-8-234h9m-9 32h9m-9 8h9m-9 36h9m-9 12h9m-9 22h9m-9 7h9m-9 3h9m-9 82h9m-9 24h9m-9 3h9m-8-216h9m-9 80h9m-9 14h9m-9 6h9m-9 12h9m-9 68h9m-8-158h9m-9 10h9m-9 18h9m-9 3h9m-9 4h9m-9 18h9m-9 24h9m-9 29h9m-9 22h9m-9 12h9m-9 13h9m-9 2h9m-9 2h9m-9 1h9m-9 7h9m-9 18h9m-8-233h9m-9 21h9m-9 2h9m-9 5h9m-9 23h9m-9 4h9m-9 2h9m-9 2h9m-9 22h9m-9 7h9m-9 52h9m-9 25h9m-9 1h9m-9 5h9m-9 2h9m-9 16h9m-9 6h9m-9 12h9m-8-181h9m-9 1h9m-9 5h9m-9 6h9m-9 31h9m-9 10h9m-9 9h9m-9 39h9m-9 38h9m-9 19h9m-9 1h9m-9 2h9m-9 0h9m-9 24h9m-9 11h9m-9 5h9m-9 5h9m-9 11h9m-9 3h9m-9 8h9m-9 14h9m-8-242h9m-9 19h9m-9 30h9m-9 10h9m-9 57h9m-9 25h9m-9 12h9m-9 9h9m-9 42h9m-9 5h9m-9 28h9m-9 6h9m-8-301h9m-9 79h9m-9 11h9m-9 1h9m-9 29h9m-9 3h9m-9 66h9m-9 0h9m-9 11h9m-9 32h9m-8-239h9m-9 54h9m-9 19h9m-9 67h9m-9 16h9m-9 15h9m-9 18h9m-9 4h9m-9 12h9m-9 4h9m-9 13h9m-9 9h9m-9 10h9m-9 5h9m-9 39h9m-8-230h9m-9 67h9m-9 28h9m-9 2h9m-9 11h9m-9 28h9m-9 4h9m-9 0h9m-9 33h9m-9 19h9m-9 3h9m-9 14h9m-9 4h9m-8-179h9m-9 14h9m-9 6h9m-9 5h9m-9 35h9m-9 0h9m-9 7h9m-9 4h9m-9 34h9m-9 15h9m-9 17h9m-9 14h9m-9 36h9m-8-291h9m-9 1h9m-9 85h9m-9 8h9m-9 10h9m-9 4h9m-9 2h9m-9 29h9m-9 40h9m-9 49h9m-9 29h9m-9 11h9m-9 10h9m-9 3h9m-8-156h9m-9 5h9m-9 9h9m-9 0h9m-9 13h9m-9 3h9m-9 2h9m-9 31h9m-9 17h9m-9 1h9m-9 17h9m-9 14h9m-9 3h9m-9 24h9m-9 23h9m-8-286h9m-9 64h9m-9 25h9m-9 17h9m-9 7h9m-9 5h9m-9 18h9m-9 7h9m-9 3h9m-9 28h9m-9 4h9m-9 25h9m-9 39h9m-9 10h9m-9 24h9m-9 5h9m-9 1h9m-9 1h9m-9 21h9m-8-306h9m-9 79h9m-9 17h9m-9 22h9m-9 8h9m-9 18h9m-9 6h9m-9 1h9m-9 2h9m-9 7h9m-9 41h9m-9 3h9m-9 35h9m-9 19h9m-8-187h9m-9 2h9m-9 25h9m-9 9h9m-9 13h9m-9 1h9m-9 7h9m-9 1h9m-9 60h9m-9 28h9m-9 1h9m-9 7h9m-9 25h9m-9 9h9m-9 20h9m-9 3h9m-9 5h9m-8-177h9m-9 13h9m-9 88h9m-9 9h9m-9 1h9m-9 8h9m-9 21h9m-9 13h9m-9 54h9m-8-281h9m-9 41h9m-9 71h9m-9 10h9m-9 6h9m-9 8h9m-9 2h9m-9 53h9m-9 36h9m-9 3h9m-9 1h9m-9 5h9m-9 21h9m-9 13h9m-9 13h9m-8-281h9m-9 20h9m-9 48h9m-9 9h9m-9 28h9m-9 0h9m-9 20h9m-9 38h9m-9 5h9m-9 25h9m-9 0h9m-9 4h9m-9 4h9m-9 27h9m-9 0h9m-8-173h9m-9 0h9m-9 36h9m-9 35h9m-9 27h9m-9 7h9m-9 52h9m-9 1h9m-9 1h9m-9 34h9m-9 5h9m-8-272h9m-9 74h9m-9 64h9m-9 6h9m-9 10h9m-9 14h9m-9 12h9m-9 11h9m-9 57h9m-9 8h9m-9 9h9m-9 23h9m-8-358h9m-9 121h9m-9 80h9m-9 8h9m-9 45h9m-9 6h9m-9 18h9m-9 7h9m-9 15h9m-9 12h9m-9 42h9m-8-249h9m-9 2h9m-9 79h9m-9 9h9m-9 6h9m-9 12h9m-9 27h9m-9 17h9m-9 15h9m-9 0h9m-9 39h9m-9 9h9m-9 7h9m-8-283h9m-9 26h9m-9 49h9m-9 57h9m-9 6h9m-9 30h9m-9 0h9m-9 11h9m-9 13h9m-9 18h9m-9 19h9m-9 19h9m-9 2h9m-9 15h9m-9 11h9m-9 16h9m-8-307h9m-9 142h9m-9 50h9m-9 9h9m-9 8h9m-9 8h9m-9 2h9m-9 4h9m-9 2h9m-9 32h9m-9 28h9m-9 10h9m-9 13h9m-9 25h9m-8-150h9m-9 71h9m-9 13h9m-9 5h9m-9 7h9m-9 7h9m-9 26h9m-9 7h9m-9 14h9m-8-236h9m-9 62h9m-9 3h9m-9 17h9m-9 6h9m-9 1h9m-9 2h9m-9 26h9m-9 42h9m-9 12h9m-9 23h9m-9 15h9m-9 15h9m-8-393h9m-9 168h9m-9 14h9m-9 18h9m-9 6h9m-9 4h9m-9 15h9m-9 2h9m-9 54h9m-9 15h9m-9 29h9m-9 25h9m-9 5h9m-8-170h9m-9 0h9m-9 16h9m-9 22h9m-9 10h9m-9 18h9m-9 36h9m-9 33h9m-9 16h9m-8-154h9m-9 12h9m-9 79h9m-9 78h9m-9 34h9m-9 34h9m-8-227h9m-9 73h9m-9 3h9m-9 13h9m-9 22h9m-9 39h9m-9 33h9m-9 6h9m-9 33h9m-8-212h9m-9 0h9m-9 21h9m-9 7h9m-9 10h9m-9 8h9m-9 4h9m-9 32h9m-9 95h9m-9 6h9m-8-135h9m-8-64h9m-9 3h9m-9 18h9m-9 3h9m-9 4h9m-9 4h9m-9 20h9m-9 27h9m-9 8h9m-9 26h9m-9 0h9m-9 33h9m-8-118h9m-9 33h9m-9 9h9m-9 19h9m-9 26h9m-9 76h9m-9 25h9m-8-215h9m-9 22h9m-9 20h9m-9 27h9m-9 43h9m-9 18h9m-9 7h9m-9 6h9m-9 46h9m-9 20h9m-8-207h9m-9 47h9m-9 15h9m-9 47h9m-9 1h9m-9 35h9m-9 47h9m-9 17h9m-8-198h9m-9 17h9m-9 6h9m-9 26h9m-9 1h9m-9 28h9m-9 14h9m-9 27h9m-9 30h9m-9 4h9m-9 5h9m-8-263h9m-9 71h9m-9 78h9m-9 86h9m-9 27h9m-8-176h9m-9 79h9m-9 11h9m-9 107h9m-8-260h9m-9 66h9m-9 35h9m-9 70h9m-9 0h9m-9 8h9m-9 1h9m-9 49h9m-9 10h9m-8-140h9m-9 13h9m-9 64h9m-9 59h9m-8-154h9m-9 64h9m-9 0h9m-9 5h9m-9 16h9m-9 41h9m-9 13h9m-9 51h9m-8-210h9m-9 52h9m-9 46h9m-9 50h9m-8-1h9m-8-129h9m-9 33h9m-9 23h9m-9 21h9m-9 8h9m-9 33h9m-9 20h9m-8-260h9m-9 176h9m-9 23h9m-9 66h9m-8-217h9m-9 109h9m-9 29h9m-9 58h9m-9 36h9m-9 19h9m-9 3h9m-9 20h9m-9 4h9m-8-232h9m-9 41h9m-9 38h9m-9 17h9m-9 97h9m-9 23h9m-9 3h9m-8-203h9m-9 162h9m-9 53h9m-8-352h9m-9 172h9m-9 77h9m-9 3h9m-8-143h9m-9 61h9m-9 105h9m-9 81h9m-8-397h9m-9 148h9m-9 1h9m-9 71h9m-9 7h9m-9 49h9m-9 24h9m-9 11h9m-9 54h9m-8-152h9m-9 57h9m-9 7h9m-9 3h9m-9 35h9m-9 96h9m-8-192h9m-9 30h9m-9 54h9m-9 5h9m-9 71h9m-8-176h9m-9 57h9m-9 61h9m-9 49h9m-8-175h9m-9 102h9m-9 57h9m-8-151h9m-9 155h9m-9 25h9m-8-144h9m-8 17h9m-8 38h9m-9 18h9m-8-38h9m-9 90h9m-8-98h9m-8-60h9m-9 5h9m-9 70h9m-9 57h9m-8-65h9m-7-101h9m-9 121h9m-9 14h9m-9 78h9m-8-212h9m-9 29h9m-9 14h9m-9 64h9m-8-166h9m-9 104h9m-8-133h9m-9 131h9m-9 72h9m-8-75h9m-9 66h9m-8-64h9m-8-43h9m-9 44h9m-9 83h9m-7-179h9m-8 98h9m-9 46h9m-8-95h9m-8-122h9m-9 92h9m-9 194h9m-9 70h9m-8-127h9m-9 26h9m-8-82h9m-9 1h9m-9 123h9m-9 52h9m-9 17h9m-8-147h9m-9 127h9m-8-95h9m-9 46h9m-8 60h9m-7-204h9m-9 139h9m-7-308h9m-8-23h9m-9 309h9m-9 93h9m-8-72h9m-8-55h9m-8-7h9m-7-19h9m-4-10h9m-8-258h9m-9 383h9m-7-247h9m-6-24h9m-9 115h9m-8-136h9m2 186h9m-1 105h9m-6-57h9m-7-288h9m3 332h9m11-152h9m-6-65h9m-3-114h9m-9 20h9" stroke="#000" stroke-width="9" fill="none"/>
<rect x="184.50" y="167.20" width="62.50" height="47.00" fill="none" stroke="#000" stroke-width="1.1"/>
<line x1="202.50" y1="167.20" x2="202.50" y2="214.20" stroke="#000" stroke-width="0.9"/>
<line x1="184.50" y1="204.60" x2="247.00" y2="204.60" stroke="#000" stroke-width="0.9"/>
<line x1="184.00" y1="219.80" x2="239.50" y2="219.80" stroke="#000" stroke-width="1.7"/>
<polygon points="247.50,219.80 238.50,216.60 238.50,223.00" fill="#000"/>
<text x="188" y="229.9" font-size="10.5" font-family='"Liberation Serif", serif' font-weight="bold" text-anchor="start" textLength="48.3" lengthAdjust="spacingAndGlyphs" stroke="#000" stroke-width="0.3">CD8 FITC</text>
<text x="236.3" y="176.4" font-size="8.2" font-family='"Liberation Serif", serif' font-weight="bold" text-anchor="start" textLength="21.7" lengthAdjust="spacingAndGlyphs" stroke="#000" stroke-width="0.3">19.7%</text>
<text x="237" y="211.8" font-size="8.2" font-family='"Liberation Serif", serif' font-weight="bold" text-anchor="start" textLength="21.7" lengthAdjust="spacingAndGlyphs" stroke="#000" stroke-width="0.3">26.1%</text>
<ellipse cx="278.3" cy="199" rx="5" ry="11" fill="#000" opacity="1"/>
<path transform="scale(.1)" d="m2695 1799h9m-8 292h9m-8-257h9m-7 63h9m-8-74h9m-9 50h9m-9 134h9m-9 17h9m-8-189h9m-9 111h9m-9 86h9m-8-116h9m-9 75h9m-7-68h9m-9 86h9m-8 1h9m-9 46h9m-8-346h9m-9 163h9m-9 55h9m-9 98h9m-8 43h9m-8-114h9m-8-33h9m-9 54h9m-9 66h9m-7-103h9m-8-47h9m-9 82h9m-9 85h9m-9 9h9m-8-262h9m-9 153h9m-8-199h9m-9 155h9m-9 79h9m-8-150h9m-9 107h9m-8-84h9m-9 29h9m-9 160h9m-9 5h9m-8-172h9m-9 41h9m-9 77h9m-8-203h9m-9 44h9m-9 70h9m-9 88h9m-8-52h9m-8-127h9m-9 97h9m-9 140h9m-8-65h9m-9 48h9m-8-136h9m-9 18h9m-9 69h9m-9 71h9m-8-224h9m-9 31h9m-9 48h9m-9 18h9m-9 54h9m-9 34h9m-9 62h9m-8-236h9m-9 1h9m-9 150h9m-8-103h9m-9 45h9m-8-119h9m-9 223h9m-9 32h9m-8-218h9m-9 12h9m-9 6h9m-9 42h9m-9 6h9m-9 10h9m-9 56h9m-9 7h9m-9 14h9m-9 24h9m-8-215h9m-9 13h9m-9 96h9m-9 29h9m-9 4h9m-9 54h9m-9 68h9m-8-128h9m-9 13h9m-9 113h9m-9 7h9m-8-186h9m-9 38h9m-9 95h9m-8-234h9m-9 53h9m-9 22h9m-9 81h9m-8-231h9m-9 122h9m-9 72h9m-9 22h9m-9 13h9m-9 61h9m-9 23h9m-9 28h9m-8-254h9m-9 30h9m-9 27h9m-9 48h9m-9 18h9m-8-130h9m-9 28h9m-9 2h9m-9 205h9m-8-237h9m-9 14h9m-9 28h9m-9 51h9m-9 26h9m-9 95h9m-9 4h9m-8-184h9m-9 111h9m-9 64h9m-9 72h9m-8-223h9m-9 30h9m-9 20h9m-9 1h9m-9 10h9m-9 13h9m-9 5h9m-8-154h9m-9 47h9m-9 48h9m-9 9h9m-9 7h9m-9 68h9m-9 17h9m-9 112h9m-8-238h9m-9 20h9m-9 12h9m-9 9h9m-9 40h9m-9 3h9m-9 22h9m-9 5h9m-9 5h9m-9 74h9m-9 38h9m-8-318h9m-9 162h9m-9 39h9m-9 73h9m-9 21h9m-9 0h9m-8-179h9m-9 17h9m-9 62h9m-9 15h9m-9 6h9m-9 55h9m-8-105h9m-9 0h9m-9 86h9m-9 3h9m-9 7h9m-8-184h9m-9 29h9m-9 3h9m-9 1h9m-9 58h9m-9 41h9m-9 18h9m-9 14h9m-8-212h9m-9 55h9m-9 20h9m-9 13h9m-9 21h9m-9 8h9m-9 19h9m-9 2h9m-9 21h9m-9 15h9m-9 66h9m-9 36h9m-8-296h9m-9 78h9m-9 59h9m-9 33h9m-9 18h9m-9 25h9m-9 5h9m-9 39h9m-9 33h9m-8-280h9m-9 72h9m-9 26h9m-9 79h9m-9 65h9m-9 1h9m-9 3h9m-9 21h9m-8-353h9m-9 105h9m-9 117h9m-9 7h9m-9 7h9m-9 43h9m-9 30h9m-9 61h9m-8-261h9m-9 139h9m-9 19h9m-9 53h9m-8-164h9m-9 10h9m-9 37h9m-9 4h9m-9 4h9m-9 0h9m-9 12h9m-9 40h9m-9 19h9m-9 58h9m-8-171h9m-9 35h9m-9 31h9m-9 88h9m-8-220h9m-9 88h9m-9 1h9m-9 14h9m-9 29h9m-9 0h9m-9 50h9m-9 14h9m-9 26h9m-9 9h9m-9 28h9m-8-258h9m-9 70h9m-9 25h9m-9 20h9m-9 53h9m-9 62h9m-8-194h9m-9 84h9m-9 45h9m-9 2h9m-9 21h9m-9 69h9m-8-240h9m-9 35h9m-9 51h9m-9 37h9m-9 5h9m-9 8h9m-9 15h9m-9 30h9m-9 12h9m-9 13h9m-9 11h9m-9 23h9m-9 8h9m-8-315h9m-9 84h9m-9 1h9m-9 58h9m-9 10h9m-9 8h9m-9 0h9m-9 28h9m-9 8h9m-9 24h9m-9 33h9m-9 49h9m-9 12h9m-9 3h9m-9 1h9m-9 16h9m-8-369h9m-9 58h9m-9 95h9m-9 4h9m-9 3h9m-9 19h9m-9 16h9m-9 10h9m-9 30h9m-9 6h9m-9 31h9m-9 43h9m-9 12h9m-8-243h9m-9 8h9m-9 30h9m-9 51h9m-9 21h9m-9 17h9m-9 9h9m-9 7h9m-9 19h9m-9 0h9m-9 11h9m-9 26h9m-9 10h9m-9 29h9m-8-227h9m-9 21h9m-9 25h9m-9 4h9m-9 21h9m-9 13h9m-9 20h9m-9 61h9m-9 5h9m-9 26h9m-9 12h9m-9 28h9m-9 13h9m-9 12h9m-8-229h9m-9 72h9m-9 7h9m-9 7h9m-9 13h9m-9 31h9m-9 24h9m-9 1h9m-9 27h9m-9 23h9m-9 9h9m-9 6h9m-9 20h9m-9 1h9m-8-277h9m-9 33h9m-9 35h9m-9 15h9m-9 1h9m-9 27h9m-9 3h9m-9 12h9m-9 53h9m-9 4h9m-9 10h9m-9 23h9m-9 15h9m-9 5h9m-9 9h9m-9 1h9m-9 1h9m-8-194h9m-9 14h9m-9 8h9m-9 0h9m-9 15h9m-9 28h9m-9 64h9m-9 6h9m-9 18h9m-9 4h9m-9 7h9m-9 14h9m-9 12h9m-9 34h9m-8-180h9m-9 3h9m-9 36h9m-9 13h9m-9 43h9m-9 15h9m-9 2h9m-9 5h9m-9 20h9m-9 21h9m-9 20h9m-8-351h9m-9 79h9m-9 41h9m-9 11h9m-9 61h9m-9 16h9m-9 35h9m-9 59h9m-9 13h9m-9 3h9m-8-205h9m-9 34h9m-9 1h9m-9 49h9m-9 2h9m-9 14h9m-9 44h9m-9 14h9m-9 31h9m-9 24h9m-8-292h9m-9 40h9m-9 26h9m-9 22h9m-9 6h9m-9 10h9m-9 19h9m-9 28h9m-9 8h9m-9 4h9m-9 53h9m-9 1h9m-9 11h9m-9 1h9m-9 51h9m-9 16h9m-9 6h9m-9 4h9m-8-266h9m-9 59h9m-9 24h9m-9 18h9m-9 1h9m-9 5h9m-9 0h9m-9 39h9m-9 53h9m-9 18h9m-9 20h9m-9 33h9m-8-380h9m-9 165h9m-9 26h9m-9 8h9m-9 1h9m-9 7h9m-9 7h9m-9 2h9m-9 18h9m-9 7h9m-9 2h9m-9 7h9m-9 55h9m-9 1h9m-9 26h9m-9 13h9m-9 7h9m-9 30h9m-8-265h9m-9 27h9m-9 7h9m-9 14h9m-9 57h9m-9 2h9m-9 42h9m-9 17h9m-9 100h9m-9 10h9m-8-254h9m-9 13h9m-9 37h9m-9 2h9m-9 1h9m-9 19h9m-9 2h9m-9 13h9m-9 1h9m-9 2h9m-9 5h9m-9 1h9m-9 4h9m-9 5h9m-9 0h9m-9 37h9m-9 3h9m-9 17h9m-9 4h9m-9 34h9m-9 12h9m-9 24h9m-9 7h9m-8-214h9m-9 3h9m-9 34h9m-9 11h9m-9 14h9m-9 10h9m-9 25h9m-9 10h9m-9 9h9m-9 8h9m-9 6h9m-9 2h9m-9 35h9m-9 26h9m-8-309h9m-9 80h9m-9 71h9m-9 4h9m-9 6h9m-9 6h9m-9 9h9m-9 26h9m-9 21h9m-9 8h9m-9 31h9m-9 5h9m-9 7h9m-9 3h9m-9 48h9m-8-246h9m-9 4h9m-9 43h9m-9 8h9m-9 1h9m-9 20h9m-9 21h9m-9 3h9m-9 7h9m-9 20h9m-9 19h9m-9 5h9m-9 16h9m-9 4h9m-9 15h9m-9 9h9m-9 4h9m-9 47h9m-8-233h9m-9 3h9m-9 3h9m-9 17h9m-9 0h9m-9 27h9m-9 4h9m-9 16h9m-9 24h9m-9 4h9m-9 9h9m-9 68h9m-9 6h9m-9 39h9m-8-123h9m-9 7h9m-9 2h9m-9 10h9m-9 13h9m-9 12h9m-9 4h9m-9 8h9m-9 14h9m-9 26h9m-9 35h9m-8-231h9m-9 26h9m-9 35h9m-9 6h9m-9 18h9m-9 17h9m-9 16h9m-9 27h9m-9 2h9m-9 33h9m-9 0h9m-9 15h9m-9 1h9m-9 4h9m-9 0h9m-9 4h9m-9 27h9m-9 12h9m-8-320h9m-9 55h9m-9 9h9m-9 28h9m-9 3h9m-9 38h9m-9 5h9m-9 3h9m-9 8h9m-9 18h9m-9 29h9m-9 30h9m-9 4h9m-9 8h9m-9 7h9m-9 33h9m-9 5h9m-9 16h9m-9 22h9m-9 1h9m-8-242h9m-9 25h9m-9 9h9m-9 10h9m-9 13h9m-9 5h9m-9 0h9m-9 2h9m-9 1h9m-9 26h9m-9 20h9m-9 3h9m-9 85h9m-9 7h9m-9 2h9m-9 31h9m-8-277h9m-9 8h9m-9 31h9m-9 24h9m-9 4h9m-9 8h9m-9 1h9m-9 5h9m-9 3h9m-9 11h9m-9 3h9m-9 9h9m-9 16h9m-9 5h9m-9 9h9m-9 5h9m-9 16h9m-9 8h9m-9 46h9m-9 2h9m-9 11h9m-9 0h9m-9 50h9m-9 4h9m-9 1h9m-8-402h9m-9 109h9m-9 16h9m-9 22h9m-9 40h9m-9 34h9m-9 10h9m-9 0h9m-9 1h9m-9 26h9m-9 17h9m-9 3h9m-9 48h9m-9 22h9m-9 3h9m-9 13h9m-8-306h9m-9 90h9m-9 19h9m-9 6h9m-9 25h9m-9 1h9m-9 9h9m-9 6h9m-9 12h9m-9 13h9m-9 2h9m-9 3h9m-9 3h9m-9 1h9m-9 8h9m-9 14h9m-9 24h9m-9 26h9m-9 47h9m-9 2h9m-9 4h9m-9 6h9m-9 11h9m-9 19h9m-8-299h9m-9 54h9m-9 1h9m-9 0h9m-9 7h9m-9 33h9m-9 3h9m-9 10h9m-9 1h9m-9 4h9m-9 43h9m-9 9h9m-9 25h9m-9 20h9m-9 13h9m-9 9h9m-9 7h9m-9 12h9m-9 45h9m-8-309h9m-9 46h9m-9 9h9m-9 64h9m-9 2h9m-9 12h9m-9 3h9m-9 4h9m-9 2h9m-9 22h9m-9 6h9m-9 54h9m-9 5h9m-9 12h9m-9 7h9m-9 26h9m-9 1h9m-9 12h9m-8-306h9m-9 89h9m-9 11h9m-9 42h9m-9 19h9m-9 16h9m-9 4h9m-9 15h9m-9 12h9m-9 7h9m-9 42h9m-9 30h9m-9 2h9m-9 5h9m-9 23h9m-8-276h9m-9 1h9m-9 16h9m-9 14h9m-9 22h9m-9 35h9m-9 24h9m-9 24h9m-9 17h9m-9 12h9m-9 5h9m-9 15h9m-9 6h9m-9 4h9m-9 22h9m-9 18h9m-9 3h9m-9 8h9m-9 9h9m-9 3h9m-8-189h9m-9 10h9m-9 10h9m-9 20h9m-9 34h9m-9 6h9m-9 36h9m-9 19h9m-9 27h9m-9 50h9m-9 7h9m-8-281h9m-9 24h9m-9 54h9m-9 20h9m-9 16h9m-9 36h9m-9 8h9m-9 10h9m-9 29h9m-9 50h9m-9 9h9m-8-249h9m-9 42h9m-9 1h9m-9 19h9m-9 2h9m-9 8h9m-9 29h9m-9 6h9m-9 16h9m-9 0h9m-9 8h9m-9 13h9m-9 1h9m-9 30h9m-9 8h9m-9 33h9m-9 1h9m-9 51h9m-8-311h9m-9 107h9m-9 15h9m-9 32h9m-9 70h9m-9 8h9m-9 13h9m-9 21h9m-8-264h9m-9 58h9m-9 39h9m-9 21h9m-9 8h9m-9 4h9m-9 9h9m-9 9h9m-9 2h9m-9 25h9m-9 33h9m-9 0h9m-9 2h9m-9 7h9m-9 14h9m-8-230h9m-9 51h9m-9 11h9m-9 6h9m-9 31h9m-9 35h9m-9 11h9m-9 7h9m-9 8h9m-9 15h9m-9 55h9m-9 22h9m-9 4h9m-9 6h9m-9 11h9m-9 33h9m-8-277h9m-9 35h9m-9 5h9m-9 9h9m-9 39h9m-9 15h9m-9 7h9m-9 7h9m-9 10h9m-9 4h9m-9 25h9m-9 50h9m-9 4h9m-9 33h9m-9 43h9m-8-297h9m-9 5h9m-9 86h9m-9 4h9m-9 38h9m-9 37h9m-9 14h9m-9 16h9m-9 4h9m-9 13h9m-9 17h9m-9 28h9m-9 13h9m-8-290h9m-9 15h9m-9 36h9m-9 64h9m-9 12h9m-9 4h9m-9 13h9m-9 1h9m-9 7h9m-9 0h9m-9 22h9m-9 4h9m-9 20h9m-9 4h9m-9 12h9m-9 38h9m-9 4h9m-9 8h9m-9 27h9m-8-245h9m-9 11h9m-9 5h9m-9 36h9m-9 17h9m-9 14h9m-9 9h9m-9 1h9m-9 53h9m-9 8h9m-9 51h9m-9 29h9m-9 22h9m-9 4h9m-8-279h9m-9 0h9m-9 17h9m-9 0h9m-9 11h9m-9 4h9m-9 4h9m-9 35h9m-9 8h9m-9 4h9m-9 15h9m-9 9h9m-9 83h9m-9 24h9m-9 53h9m-8-269h9m-9 2h9m-9 2h9m-9 54h9m-9 14h9m-9 6h9m-9 48h9m-9 72h9m-9 1h9m-9 19h9m-9 1h9m-9 2h9m-9 24h9m-9 37h9m-9 5h9m-8-281h9m-9 13h9m-9 29h9m-9 2h9m-9 9h9m-9 0h9m-9 4h9m-9 22h9m-9 21h9m-9 2h9m-9 5h9m-9 32h9m-9 10h9m-9 13h9m-9 3h9m-9 8h9m-9 19h9m-9 20h9m-9 5h9m-9 6h9m-9 2h9m-9 7h9m-9 6h9m-9 12h9m-9 1h9m-9 9h9m-9 13h9m-8-211h9m-9 7h9m-9 8h9m-9 3h9m-9 5h9m-9 5h9m-9 2h9m-9 8h9m-9 76h9m-9 19h9m-9 21h9m-9 13h9m-9 3h9m-9 26h9m-9 2h9m-9 11h9m-8-309h9m-9 35h9m-9 32h9m-9 1h9m-9 51h9m-9 1h9m-9 1h9m-9 4h9m-9 34h9m-9 18h9m-9 5h9m-9 68h9m-9 1h9m-9 38h9m-8-206h9m-9 12h9m-9 24h9m-9 1h9m-9 16h9m-9 26h9m-9 6h9m-9 6h9m-9 13h9m-9 12h9m-9 87h9m-8-240h9m-9 26h9m-9 27h9m-9 12h9m-9 14h9m-9 17h9m-9 1h9m-9 11h9m-9 22h9m-9 8h9m-9 78h9m-8-279h9m-9 79h9m-9 23h9m-9 31h9m-9 26h9m-9 5h9m-9 3h9m-9 1h9m-9 4h9m-9 41h9m-9 4h9m-9 70h9m-9 15h9m-8-254h9m-9 80h9m-9 9h9m-9 6h9m-9 31h9m-9 6h9m-9 11h9m-9 11h9m-9 10h9m-9 3h9m-9 32h9m-9 9h9m-9 3h9m-9 5h9m-9 52h9m-9 4h9m-8-243h9m-9 25h9m-9 7h9m-9 17h9m-9 15h9m-9 23h9m-9 26h9m-9 3h9m-9 20h9m-9 31h9m-9 45h9m-8-225h9m-9 25h9m-9 56h9m-9 6h9m-9 6h9m-9 5h9m-9 25h9m-9 8h9m-9 10h9m-9 22h9m-9 6h9m-9 5h9m-9 43h9m-9 44h9m-8-276h9m-9 32h9m-9 80h9m-9 11h9m-9 41h9m-9 29h9m-9 36h9m-8-320h9m-9 5h9m-9 36h9m-9 76h9m-9 92h9m-9 7h9m-9 102h9m-9 5h9m-9 19h9m-9 9h9m-9 24h9m-9 1h9m-8-194h9m-9 9h9m-9 6h9m-9 9h9m-9 1h9m-9 6h9m-9 9h9m-9 70h9m-9 67h9m-8-365h9m-9 104h9m-9 41h9m-9 35h9m-9 64h9m-9 26h9m-9 20h9m-9 15h9m-9 3h9m-9 27h9m-9 1h9m-9 35h9m-8-332h9m-9 75h9m-9 60h9m-9 39h9m-9 10h9m-9 4h9m-9 32h9m-9 15h9m-9 6h9m-9 2h9m-9 33h9m-9 17h9m-9 8h9m-9 33h9m-9 7h9m-8-298h9m-9 71h9m-9 6h9m-9 5h9m-9 5h9m-9 37h9m-9 27h9m-9 4h9m-9 6h9m-9 1h9m-9 7h9m-9 67h9m-9 64h9m-8-269h9m-9 19h9m-9 17h9m-9 14h9m-9 71h9m-9 17h9m-9 0h9m-9 23h9m-9 1h9m-9 0h9m-9 51h9m-9 14h9m-9 4h9m-9 1h9m-8-304h9m-9 128h9m-9 5h9m-9 14h9m-9 12h9m-9 12h9m-9 118h9m-9 57h9m-8-380h9m-9 140h9m-9 34h9m-9 25h9m-9 24h9m-9 36h9m-9 9h9m-9 6h9m-9 9h9m-9 46h9m-9 22h9m-9 1h9m-9 3h9m-8-362h9m-9 81h9m-9 26h9m-9 19h9m-9 45h9m-9 22h9m-9 11h9m-9 29h9m-9 6h9m-9 3h9m-9 13h9m-9 41h9m-9 2h9m-9 5h9m-9 6h9m-9 6h9m-9 19h9m-9 25h9m-9 0h9m-8-280h9m-9 80h9m-9 4h9m-9 56h9m-9 16h9m-9 4h9m-9 52h9m-9 15h9m-9 6h9m-9 45h9m-8-273h9m-9 73h9m-9 7h9m-9 13h9m-9 12h9m-9 6h9m-9 25h9m-9 5h9m-9 9h9m-9 21h9m-9 13h9m-9 42h9m-9 15h9m-9 10h9m-9 47h9m-8-192h9m-9 13h9m-9 2h9m-9 42h9m-9 1h9m-9 28h9m-9 44h9m-9 22h9m-8-236h9m-9 8h9m-9 19h9m-9 44h9m-9 1h9m-9 26h9m-9 8h9m-9 5h9m-9 18h9m-9 9h9m-9 18h9m-9 1h9m-9 18h9m-9 10h9m-9 29h9m-8-149h9m-9 14h9m-9 0h9m-9 26h9m-9 34h9m-9 3h9m-9 8h9m-9 2h9m-9 4h9m-9 9h9m-9 5h9m-9 39h9m-9 59h9m-8-297h9m-9 9h9m-9 36h9m-9 71h9m-9 10h9m-9 13h9m-9 18h9m-9 18h9m-9 8h9m-9 74h9m-9 21h9m-9 1h9m-8-276h9m-9 13h9m-9 28h9m-9 41h9m-9 10h9m-9 32h9m-9 12h9m-9 5h9m-9 57h9m-9 28h9m-9 4h9m-9 25h9m-9 23h9m-8-232h9m-9 41h9m-9 4h9m-9 25h9m-9 1h9m-9 52h9m-9 5h9m-9 8h9m-9 52h9m-9 7h9m-9 24h9m-9 8h9m-8-281h9m-9 90h9m-9 10h9m-9 33h9m-9 14h9m-9 10h9m-9 25h9m-9 9h9m-9 15h9m-9 4h9m-8-168h9m-9 144h9m-9 3h9m-9 14h9m-9 5h9m-9 32h9m-9 4h9m-9 2h9m-9 15h9m-9 8h9m-9 30h9m-9 5h9m-8-263h9m-9 43h9m-9 69h9m-9 155h9m-8-269h9m-9 109h9m-9 2h9m-9 28h9m-9 11h9m-9 9h9m-9 72h9m-8-207h9m-9 39h9m-9 57h9m-9 32h9m-9 33h9m-9 41h9m-8-125h9m-9 1h9m-9 19h9m-9 3h9m-9 5h9m-9 2h9m-9 11h9m-9 5h9m-8-136h9m-9 3h9m-9 18h9m-9 39h9m-9 7h9m-9 14h9m-9 117h9m-9 10h9m-9 12h9m-9 22h9m-8-163h9m-9 58h9m-9 31h9m-9 29h9m-9 3h9m-9 11h9m-9 8h9m-8-201h9m-9 81h9m-9 31h9m-9 21h9m-9 12h9m-9 33h9m-9 40h9m-9 6h9m-8-262h9m-9 18h9m-9 53h9m-9 8h9m-9 22h9m-9 44h9m-9 13h9m-9 63h9m-9 15h9m-8-215h9m-9 12h9m-9 16h9m-9 96h9m-9 8h9m-9 28h9m-9 50h9m-9 2h9m-9 42h9m-8-317h9m-9 97h9m-9 12h9m-9 108h9m-9 19h9m-8-116h9m-9 12h9m-9 13h9m-9 19h9m-9 84h9m-9 71h9m-8-277h9m-9 8h9m-9 66h9m-9 16h9m-9 39h9m-9 1h9m-8-161h9m-9 80h9m-9 8h9m-9 82h9m-8-162h9m-9 14h9m-9 52h9m-9 38h9m-9 12h9m-9 38h9m-9 5h9m-8-206h9m-9 149h9m-9 2h9m-9 32h9m-9 10h9m-9 3h9m-9 4h9m-9 108h9m-8-228h9m-9 106h9m-9 21h9m-9 25h9m-9 47h9m-8-277h9m-9 73h9m-9 1h9m-9 31h9m-9 12h9m-9 47h9m-9 11h9m-9 5h9m-9 6h9m-9 94h9m-9 49h9m-8-128h9m-9 14h9m-9 6h9m-9 56h9m-8-336h9m-9 41h9m-9 162h9m-9 1h9m-9 34h9m-9 13h9m-9 55h9m-9 21h9m-8-152h9m-9 82h9m-9 14h9m-8 22h9m-9 4h9m-9 11h9m-8-258h9m-9 228h9m-9 0h9m-9 6h9m-9 33h9m-9 41h9m-8-133h9m-9 42h9m-9 24h9m-8-98h9m-9 56h9m-9 5h9m-9 71h9m-9 12h9m-9 17h9m-8-221h9m-9 88h9m-8-62h9m-9 31h9m-9 66h9m-9 75h9m-8-233h9m-9 37h9m-9 10h9m-9 114h9m-9 11h9m-9 75h9m-9 20h9m-8-135h9m-9 64h9m-9 23h9m-9 4h9m-9 50h9m-8-135h9m-9 43h9m-9 48h9m-8-260h9m-9 52h9m-9 6h9m-9 218h9m-8-197h9m-9 55h9m-9 59h9m-9 25h9m-8-121h9m-9 12h9m-9 71h9m-9 58h9m-9 83h9m-8-217h9m-9 105h9m-9 89h9m-8-170h9m-9 41h9m-9 19h9m-8-51h9m-8-117h9m-9 136h9m-9 45h9m-9 58h9m-8-153h9m-8-153h9m-9 139h9m-8-37h9m-9 98h9m-9 95h9m-9 56h9m-8-105h9m-9 17h9m-9 33h9m-8-132h9m-9 55h9m-7-64h9m-9 5h9m-9 101h9m-9 39h9m-9 67h9m-8-129h9m-8 20h9m-6-130h9m-9 93h9m-9 66h9m-8-233h9m-9 316h9m-8-196h9m-8 2h9m-9 77h9m-8-193h9m-8 45h9m-9 152h9m-9 98h9m-8-241h9m-8 108h9m-8-73h9m-9 105h9m-9 11h9m-8-65h9m-8 166h9m-8-123h9m-6-99h9m-9 30h9m-8 127h9m-8-267h9m-9 159h9m-8-86h9m-8 53h9m-9 119h9m-8-104h9m-8-137h9m-8 89h9m-9 152h9m-8 66h9m-8 0h9m-8-172h9m-7 17h9m-8-144h9m-8 153h9m-9 107h9m-8-79h9m-7-111h9m-8 47h9m-9 55h9m-7-68h9m-8 148h9m-7-87h9m-9 40h9m-8 11h9m-7-211h9m-8 17h9m-9 230h9m-4-78h9m-9 45h9m-7-142h9m-9 147h9m-6-196h9m-9 22h9m-9 35h9m-9 24h9m-7-73h9m-9 17h9m-8 80h9m-6 180h9m-8-157h9m-8 13h9m-7 33h9m-9 139h9m-6-135h9m-9 58h9m-8-124h9m-9 148h9m-7-173h9m-6 69h9m-7-192h9m-6 116h9m-7-42h9m0-96h9m-9 194h9m-7-89h9m-9 31h9m-7 123h9m-8-188h9m-7 142h9m-8 10h9m-7-203h9m-8 39h9m-2 281h9m-8-207h9m-9 206h9m-6 11h9m-5-241h9m-9 53h9m-9 203h9m-5-312h9m5-55h9m-3 180h9m-9 44h9m-8-41h9m10-128h9m-3 112h9m12-40h9m2-64h9m-9 96h9m5 177h9m16-108h9m-4-81h9m15-84h9m4-17h9m-2 4h9m1 82h9m47 178h9m-9 5h9m-8-251h9m37 32h9m-5 125h9m-8-181h9m-4 10h9m3-84h9m-8 55h9" stroke="#000" stroke-width="9" fill="none"/>
<rect x="269.00" y="163.40" width="63.00" height="47.60" fill="none" stroke="#000" stroke-width="1.1"/>
<line x1="287.50" y1="163.40" x2="287.50" y2="211.00" stroke="#000" stroke-width="0.9"/>
<line x1="269.00" y1="200.30" x2="332.00" y2="200.30" stroke="#000" stroke-width="0.9"/>
<line x1="262.00" y1="217.20" x2="327.00" y2="217.20" stroke="#000" stroke-width="1.7"/>
<polygon points="335.00,217.20 326.00,214.00 326.00,220.40" fill="#000"/>
<text x="268.3" y="229.2" font-size="10.5" font-family='"Liberation Serif", serif' font-weight="bold" text-anchor="start" textLength="53.7" lengthAdjust="spacingAndGlyphs" stroke="#000" stroke-width="0.3">CD69 FITC</text>
<text x="270.7" y="175.5" font-size="8.2" font-family='"Liberation Serif", serif' font-weight="bold" text-anchor="start" textLength="23.3" lengthAdjust="spacingAndGlyphs" stroke="#000" stroke-width="0.3">48.7%</text>
<text x="301.3" y="175.5" font-size="8.2" font-family='"Liberation Serif", serif' font-weight="bold" text-anchor="start" textLength="17.6" lengthAdjust="spacingAndGlyphs" stroke="#000" stroke-width="0.3">2.4%</text>
<ellipse cx="277.5" cy="275" rx="6.3" ry="12" fill="#000" opacity="1"/>
<ellipse cx="297" cy="275" rx="8" ry="12" fill="#000" opacity="1"/>
<ellipse cx="286.5" cy="283" rx="17" ry="5" fill="#000" opacity="1"/>
<path transform="scale(.1)" d="m2663 2852h9m-8-364h9m-9 155h9m-8 15h9m-8-226h9m-9 107h9m-8 325h9m-8-354h9m-9 253h9m-7-70h9m-9 171h9m-8-8h9m-8-95h9m-9 5h9m-8-30h9m-9 88h9m-9 37h9m-8-272h9m-9 199h9m-8-17h9m-8 36h9m-8-141h9m-9 190h9m-8 13h9m-9 14h9m-8-155h9m-9 58h9m-8-38h9m-9 99h9m-8-152h9m-8 129h9m-8-2h9m-8-247h9m-9 86h9m-9 14h9m-9 81h9m-9 7h9m-8-98h9m-9 22h9m-9 13h9m-8-75h9m-9 97h9m-8 118h9m-8-195h9m-9 34h9m-8 26h9m-9 35h9m-9 26h9m-9 40h9m-9 8h9m-8-305h9m-9 308h9m-8-89h9m-8-141h9m-9 93h9m-9 149h9m-9 31h9m-8-228h9m-9 69h9m-9 113h9m-9 65h9m-8-191h9m-9 64h9m-9 87h9m-8-220h9m-9 26h9m-9 40h9m-9 43h9m-9 23h9m-8-321h9m-9 208h9m-9 48h9m-9 101h9m-9 34h9m-9 27h9m-8-274h9m-9 84h9m-9 45h9m-9 3h9m-9 70h9m-9 72h9m-9 5h9m-8-170h9m-9 5h9m-9 116h9m-9 20h9m-9 47h9m-8-81h9m-9 43h9m-8-175h9m-9 16h9m-9 58h9m-9 80h9m-9 58h9m-8-258h9m-9 23h9m-9 206h9m-9 4h9m-8-213h9m-9 20h9m-9 26h9m-9 81h9m-9 5h9m-9 54h9m-9 61h9m-8-349h9m-9 54h9m-9 18h9m-9 105h9m-9 35h9m-9 3h9m-9 73h9m-9 37h9m-8-226h9m-9 0h9m-9 40h9m-9 38h9m-9 14h9m-9 66h9m-9 57h9m-8-254h9m-9 135h9m-9 123h9m-9 19h9m-8-351h9m-9 171h9m-9 3h9m-9 7h9m-9 3h9m-9 15h9m-9 1h9m-9 10h9m-9 36h9m-9 31h9m-9 6h9m-9 41h9m-8-291h9m-9 107h9m-9 18h9m-9 14h9m-9 9h9m-9 62h9m-9 13h9m-9 75h9m-9 4h9m-8-331h9m-9 148h9m-9 86h9m-8-115h9m-9 30h9m-9 31h9m-9 77h9m-9 78h9m-9 6h9m-8-233h9m-9 7h9m-9 43h9m-9 7h9m-9 37h9m-9 63h9m-9 10h9m-9 11h9m-9 11h9m-9 9h9m-9 7h9m-9 24h9m-8-260h9m-9 21h9m-9 22h9m-9 12h9m-9 24h9m-9 67h9m-9 15h9m-9 17h9m-9 5h9m-9 45h9m-8-187h9m-9 62h9m-9 22h9m-9 100h9m-8-268h9m-9 154h9m-9 81h9m-9 59h9m-9 8h9m-8-255h9m-9 21h9m-9 79h9m-9 18h9m-9 81h9m-9 26h9m-8-383h9m-9 129h9m-9 72h9m-9 36h9m-9 8h9m-9 29h9m-9 13h9m-9 87h9m-8-265h9m-9 110h9m-9 32h9m-9 62h9m-9 47h9m-9 4h9m-9 33h9m-9 44h9m-8-249h9m-9 14h9m-9 4h9m-9 68h9m-9 69h9m-8-132h9m-9 6h9m-9 28h9m-9 22h9m-9 34h9m-9 13h9m-9 22h9m-9 17h9m-9 40h9m-9 24h9m-8-216h9m-9 51h9m-9 27h9m-9 12h9m-9 18h9m-9 1h9m-9 13h9m-9 52h9m-9 43h9m-9 8h9m-9 5h9m-8-301h9m-9 24h9m-9 63h9m-9 61h9m-9 62h9m-9 10h9m-9 32h9m-8-214h9m-9 9h9m-9 12h9m-9 23h9m-9 14h9m-9 23h9m-9 149h9m-8-216h9m-9 9h9m-9 41h9m-9 11h9m-9 12h9m-9 43h9m-9 18h9m-9 18h9m-9 44h9m-9 5h9m-9 7h9m-9 19h9m-9 13h9m-8-361h9m-9 61h9m-9 89h9m-9 39h9m-9 15h9m-9 2h9m-9 0h9m-9 13h9m-9 31h9m-9 8h9m-9 20h9m-9 4h9m-9 61h9m-8-205h9m-9 28h9m-9 17h9m-9 2h9m-9 10h9m-9 18h9m-9 4h9m-9 42h9m-9 21h9m-9 9h9m-9 2h9m-9 45h9m-8-152h9m-9 4h9m-9 11h9m-9 1h9m-9 36h9m-9 46h9m-9 3h9m-8-255h9m-9 73h9m-9 36h9m-9 34h9m-9 19h9m-9 5h9m-9 15h9m-9 12h9m-9 8h9m-9 2h9m-9 82h9m-8-189h9m-9 16h9m-9 2h9m-9 34h9m-9 0h9m-9 17h9m-9 22h9m-9 25h9m-9 14h9m-9 47h9m-9 16h9m-9 8h9m-9 0h9m-8-148h9m-9 16h9m-9 15h9m-9 60h9m-9 49h9m-9 5h9m-9 16h9m-9 15h9m-8-170h9m-9 34h9m-9 11h9m-9 43h9m-8-138h9m-9 22h9m-9 6h9m-9 2h9m-9 23h9m-9 11h9m-9 4h9m-9 16h9m-9 27h9m-9 25h9m-8-258h9m-9 120h9m-9 27h9m-9 3h9m-9 10h9m-9 72h9m-9 17h9m-9 13h9m-9 15h9m-8-206h9m-9 24h9m-9 74h9m-9 13h9m-9 5h9m-9 3h9m-9 4h9m-9 19h9m-9 8h9m-9 19h9m-9 80h9m-9 13h9m-9 7h9m-8-286h9m-9 43h9m-9 29h9m-9 21h9m-9 8h9m-9 28h9m-9 36h9m-9 73h9m-9 5h9m-8-213h9m-9 50h9m-9 15h9m-9 1h9m-9 7h9m-9 2h9m-9 4h9m-9 42h9m-9 34h9m-9 10h9m-9 59h9m-9 5h9m-9 20h9m-8-280h9m-9 36h9m-9 19h9m-9 58h9m-9 3h9m-9 2h9m-9 0h9m-9 5h9m-9 27h9m-9 2h9m-9 6h9m-9 15h9m-9 95h9m-8-280h9m-9 23h9m-9 95h9m-9 21h9m-9 67h9m-9 12h9m-9 3h9m-9 9h9m-9 36h9m-9 38h9m-8-312h9m-9 93h9m-9 4h9m-9 22h9m-9 7h9m-9 5h9m-9 17h9m-9 63h9m-9 11h9m-9 52h9m-9 7h9m-8-186h9m-9 23h9m-9 21h9m-9 29h9m-9 129h9m-8-209h9m-9 38h9m-9 16h9m-9 7h9m-9 0h9m-9 11h9m-9 5h9m-9 8h9m-9 25h9m-9 18h9m-9 30h9m-9 11h9m-9 48h9m-8-349h9m-9 154h9m-9 10h9m-9 11h9m-9 1h9m-9 20h9m-9 44h9m-9 4h9m-9 17h9m-9 58h9m-8-283h9m-9 79h9m-9 80h9m-9 5h9m-9 32h9m-9 23h9m-9 35h9m-9 11h9m-9 8h9m-9 29h9m-8-292h9m-9 39h9m-9 12h9m-9 6h9m-9 3h9m-9 14h9m-9 17h9m-9 5h9m-9 25h9m-9 51h9m-9 3h9m-9 24h9m-9 14h9m-9 5h9m-9 50h9m-9 10h9m-9 11h9m-8-212h9m-9 1h9m-9 43h9m-9 5h9m-9 23h9m-9 9h9m-9 9h9m-9 25h9m-9 11h9m-9 9h9m-9 16h9m-9 14h9m-9 24h9m-9 10h9m-9 15h9m-9 31h9m-8-302h9m-9 67h9m-9 16h9m-9 13h9m-9 7h9m-9 10h9m-9 21h9m-9 2h9m-9 28h9m-9 7h9m-9 6h9m-9 29h9m-9 0h9m-9 32h9m-9 14h9m-9 8h9m-9 14h9m-8-208h9m-9 43h9m-9 3h9m-9 11h9m-9 60h9m-9 15h9m-9 13h9m-9 12h9m-9 1h9m-9 49h9m-8-310h9m-9 10h9m-9 64h9m-9 56h9m-9 37h9m-9 19h9m-9 2h9m-9 9h9m-9 18h9m-9 9h9m-9 43h9m-8-209h9m-9 21h9m-9 5h9m-9 35h9m-9 37h9m-9 25h9m-9 78h9m-9 35h9m-8-288h9m-9 2h9m-9 68h9m-9 56h9m-9 28h9m-9 3h9m-9 10h9m-9 33h9m-9 10h9m-9 5h9m-8-183h9m-9 39h9m-9 41h9m-9 8h9m-9 21h9m-9 3h9m-9 28h9m-9 2h9m-9 7h9m-9 5h9m-9 6h9m-9 26h9m-9 15h9m-9 15h9m-9 6h9m-8-270h9m-9 140h9m-9 6h9m-9 32h9m-9 9h9m-9 16h9m-9 10h9m-9 47h9m-9 56h9m-8-245h9m-9 50h9m-9 49h9m-9 10h9m-9 8h9m-9 40h9m-9 54h9m-9 3h9m-9 5h9m-9 3h9m-8-268h9m-9 19h9m-9 36h9m-9 77h9m-9 39h9m-9 4h9m-9 10h9m-9 24h9m-9 6h9m-9 10h9m-9 10h9m-9 4h9m-9 9h9m-9 78h9m-9 1h9m-8-265h9m-9 43h9m-9 27h9m-9 16h9m-9 13h9m-9 14h9m-9 20h9m-9 10h9m-9 18h9m-9 1h9m-9 34h9m-9 37h9m-9 25h9m-8-339h9m-9 68h9m-9 6h9m-9 13h9m-9 19h9m-9 22h9m-9 44h9m-9 12h9m-9 20h9m-9 6h9m-9 31h9m-9 16h9m-9 6h9m-9 26h9m-9 2h9m-8-169h9m-9 5h9m-9 27h9m-9 6h9m-9 0h9m-9 7h9m-9 4h9m-9 2h9m-9 6h9m-9 15h9m-9 26h9m-8-148h9m-9 19h9m-9 17h9m-9 15h9m-9 10h9m-9 9h9m-9 17h9m-9 2h9m-9 2h9m-9 31h9m-9 16h9m-9 5h9m-9 8h9m-9 8h9m-9 9h9m-9 25h9m-9 13h9m-9 11h9m-9 4h9m-9 8h9m-9 39h9m-8-284h9m-9 24h9m-9 13h9m-9 30h9m-9 28h9m-9 1h9m-9 7h9m-9 3h9m-9 89h9m-9 16h9m-9 11h9m-9 36h9m-9 4h9m-9 15h9m-8-340h9m-9 108h9m-9 14h9m-9 11h9m-9 15h9m-9 12h9m-9 61h9m-9 7h9m-9 101h9m-9 15h9m-9 6h9m-8-271h9m-9 9h9m-9 29h9m-9 2h9m-9 32h9m-9 0h9m-9 5h9m-9 23h9m-9 2h9m-9 8h9m-9 50h9m-9 12h9m-9 9h9m-9 6h9m-8-174h9m-9 16h9m-9 18h9m-9 7h9m-9 4h9m-9 8h9m-9 2h9m-9 3h9m-9 4h9m-9 23h9m-9 12h9m-9 15h9m-9 6h9m-9 16h9m-9 22h9m-9 15h9m-9 3h9m-9 6h9m-9 3h9m-9 34h9m-9 2h9m-9 7h9m-9 7h9m-8-294h9m-9 30h9m-9 3h9m-9 18h9m-9 5h9m-9 19h9m-9 4h9m-9 8h9m-9 4h9m-9 1h9m-9 25h9m-9 48h9m-9 10h9m-9 16h9m-9 48h9m-9 3h9m-9 36h9m-8-267h9m-9 36h9m-9 39h9m-9 32h9m-9 13h9m-9 13h9m-9 12h9m-9 13h9m-9 11h9m-9 6h9m-9 4h9m-9 6h9m-9 17h9m-9 52h9m-8-219h9m-9 30h9m-9 52h9m-9 1h9m-9 3h9m-9 5h9m-9 5h9m-9 10h9m-9 1h9m-9 6h9m-9 16h9m-9 1h9m-9 42h9m-9 6h9m-9 40h9m-9 3h9m-9 22h9m-8-221h9m-9 56h9m-9 3h9m-9 17h9m-9 13h9m-9 39h9m-9 74h9m-8-287h9m-9 71h9m-9 57h9m-9 4h9m-9 15h9m-9 47h9m-9 2h9m-9 9h9m-9 12h9m-9 35h9m-9 14h9m-9 3h9m-9 9h9m-9 55h9m-8-408h9m-9 70h9m-9 37h9m-9 62h9m-9 16h9m-9 13h9m-9 5h9m-9 1h9m-9 12h9m-9 10h9m-9 3h9m-9 5h9m-9 50h9m-9 1h9m-9 11h9m-9 25h9m-9 36h9m-9 9h9m-9 19h9m-9 9h9m-9 8h9m-9 13h9m-8-259h9m-9 6h9m-9 3h9m-9 11h9m-9 17h9m-9 10h9m-9 0h9m-9 23h9m-9 10h9m-9 4h9m-9 3h9m-9 8h9m-9 3h9m-9 5h9m-9 8h9m-9 22h9m-9 27h9m-8-247h9m-9 73h9m-9 14h9m-9 1h9m-9 19h9m-9 23h9m-9 7h9m-9 33h9m-9 15h9m-9 11h9m-9 11h9m-9 9h9m-9 14h9m-9 14h9m-9 23h9m-9 23h9m-9 13h9m-9 12h9m-8-259h9m-9 12h9m-9 42h9m-9 16h9m-9 12h9m-9 13h9m-9 7h9m-9 10h9m-9 5h9m-9 6h9m-9 60h9m-9 0h9m-9 10h9m-9 5h9m-9 6h9m-9 1h9m-9 15h9m-9 19h9m-9 7h9m-9 19h9m-8-278h9m-9 47h9m-9 6h9m-9 19h9m-9 4h9m-9 5h9m-9 11h9m-9 1h9m-9 13h9m-9 19h9m-9 1h9m-9 18h9m-9 2h9m-9 25h9m-9 68h9m-8-216h9m-9 23h9m-9 52h9m-9 14h9m-9 36h9m-9 11h9m-9 18h9m-9 2h9m-9 6h9m-8-177h9m-9 5h9m-9 45h9m-9 2h9m-9 38h9m-9 25h9m-9 9h9m-9 3h9m-9 34h9m-9 18h9m-9 20h9m-9 18h9m-9 7h9m-9 0h9m-9 17h9m-9 26h9m-9 23h9m-8-287h9m-9 3h9m-9 52h9m-9 13h9m-9 21h9m-9 14h9m-9 13h9m-9 2h9m-9 46h9m-9 1h9m-9 0h9m-9 27h9m-9 7h9m-9 43h9m-9 6h9m-9 14h9m-9 15h9m-9 4h9m-8-264h9m-9 7h9m-9 10h9m-9 18h9m-9 5h9m-9 74h9m-9 14h9m-9 44h9m-9 0h9m-9 11h9m-9 14h9m-9 38h9m-9 11h9m-8-281h9m-9 84h9m-9 30h9m-9 7h9m-9 8h9m-9 60h9m-9 23h9m-9 12h9m-9 2h9m-9 46h9m-9 22h9m-8-229h9m-9 3h9m-9 22h9m-9 21h9m-9 3h9m-9 14h9m-9 8h9m-9 23h9m-9 11h9m-9 9h9m-9 48h9m-9 6h9m-9 14h9m-9 1h9m-9 9h9m-9 54h9m-8-343h9m-9 43h9m-9 13h9m-9 19h9m-9 29h9m-9 4h9m-9 15h9m-9 30h9m-9 8h9m-9 3h9m-9 45h9m-9 1h9m-9 13h9m-9 90h9m-8-242h9m-9 40h9m-9 2h9m-9 40h9m-9 15h9m-9 4h9m-9 20h9m-9 8h9m-9 15h9m-9 11h9m-9 19h9m-9 72h9m-8-351h9m-9 109h9m-9 22h9m-9 1h9m-9 2h9m-9 11h9m-9 8h9m-9 2h9m-9 18h9m-9 13h9m-9 34h9m-9 36h9m-9 15h9m-9 2h9m-9 23h9m-9 20h9m-9 44h9m-8-319h9m-9 59h9m-9 4h9m-9 36h9m-9 74h9m-9 4h9m-9 2h9m-9 1h9m-9 8h9m-9 3h9m-9 9h9m-9 14h9m-9 5h9m-9 3h9m-9 36h9m-9 3h9m-9 41h9m-8-237h9m-9 10h9m-9 5h9m-9 40h9m-9 5h9m-9 1h9m-9 30h9m-9 18h9m-9 5h9m-9 9h9m-9 7h9m-9 12h9m-9 10h9m-9 19h9m-9 11h9m-9 2h9m-9 22h9m-9 29h9m-9 14h9m-9 3h9m-9 4h9m-8-239h9m-9 48h9m-9 27h9m-9 54h9m-9 4h9m-9 16h9m-9 58h9m-9 6h9m-9 6h9m-8-228h9m-9 5h9m-9 41h9m-9 6h9m-9 11h9m-9 7h9m-9 29h9m-9 4h9m-9 2h9m-9 59h9m-9 4h9m-9 17h9m-9 40h9m-9 27h9m-9 12h9m-8-312h9m-9 50h9m-9 38h9m-9 3h9m-9 6h9m-9 3h9m-9 3h9m-9 26h9m-9 0h9m-9 8h9m-9 2h9m-9 1h9m-9 23h9m-9 11h9m-9 50h9m-9 23h9m-9 0h9m-9 34h9m-8-227h9m-9 10h9m-9 3h9m-9 7h9m-9 3h9m-9 7h9m-9 30h9m-9 5h9m-9 2h9m-9 6h9m-9 77h9m-9 38h9m-9 1h9m-9 50h9m-8-311h9m-9 15h9m-9 17h9m-9 14h9m-9 9h9m-9 37h9m-9 7h9m-9 6h9m-9 7h9m-9 9h9m-9 10h9m-9 1h9m-9 8h9m-9 11h9m-9 6h9m-9 20h9m-9 6h9m-9 9h9m-9 43h9m-9 22h9m-9 6h9m-9 28h9m-9 0h9m-9 14h9m-8-328h9m-9 64h9m-9 29h9m-9 9h9m-9 52h9m-9 27h9m-9 7h9m-9 19h9m-9 13h9m-9 3h9m-9 22h9m-9 14h9m-9 46h9m-9 4h9m-9 24h9m-8-231h9m-9 26h9m-9 11h9m-9 34h9m-9 4h9m-9 29h9m-9 26h9m-9 1h9m-9 36h9m-9 7h9m-9 42h9m-8-238h9m-9 6h9m-9 48h9m-9 7h9m-9 22h9m-9 16h9m-9 4h9m-9 11h9m-9 8h9m-9 10h9m-9 15h9m-9 62h9m-9 46h9m-9 15h9m-8-273h9m-9 13h9m-9 3h9m-9 8h9m-9 38h9m-9 74h9m-9 17h9m-9 9h9m-9 23h9m-9 15h9m-9 33h9m-9 24h9m-8-257h9m-9 23h9m-9 2h9m-9 30h9m-9 0h9m-9 2h9m-9 17h9m-9 7h9m-9 3h9m-9 7h9m-9 17h9m-9 4h9m-9 10h9m-9 7h9m-9 19h9m-9 77h9m-9 23h9m-8-258h9m-9 20h9m-9 3h9m-9 40h9m-9 5h9m-9 14h9m-9 36h9m-9 14h9m-9 3h9m-9 19h9m-9 32h9m-9 3h9m-9 23h9m-9 38h9m-8-280h9m-9 42h9m-9 7h9m-9 26h9m-9 31h9m-9 4h9m-9 20h9m-9 2h9m-9 5h9m-9 8h9m-9 9h9m-9 63h9m-9 5h9m-9 32h9m-9 15h9m-8-231h9m-9 62h9m-9 53h9m-9 2h9m-9 13h9m-9 35h9m-8-161h9m-9 1h9m-9 1h9m-9 53h9m-9 29h9m-9 32h9m-9 1h9m-9 9h9m-9 22h9m-9 46h9m-9 57h9m-8-333h9m-9 138h9m-9 55h9m-9 38h9m-9 24h9m-9 8h9m-9 40h9m-9 7h9m-9 1h9m-9 3h9m-9 28h9m-8-300h9m-9 47h9m-9 13h9m-9 80h9m-9 7h9m-9 37h9m-9 84h9m-8-225h9m-9 3h9m-9 22h9m-9 11h9m-9 22h9m-9 15h9m-9 6h9m-9 17h9m-9 20h9m-9 40h9m-9 8h9m-9 4h9m-9 15h9m-9 15h9m-9 44h9m-8-230h9m-9 36h9m-9 3h9m-9 10h9m-9 4h9m-9 24h9m-9 11h9m-9 21h9m-9 3h9m-9 0h9m-9 33h9m-9 83h9m-9 6h9m-8-219h9m-9 10h9m-9 6h9m-9 16h9m-9 20h9m-9 20h9m-9 10h9m-9 21h9m-9 8h9m-9 44h9m-9 17h9m-9 14h9m-8-224h9m-9 44h9m-9 7h9m-9 32h9m-9 33h9m-9 23h9m-9 7h9m-9 9h9m-9 1h9m-9 17h9m-9 15h9m-9 1h9m-9 34h9m-9 17h9m-8-253h9m-9 81h9m-9 20h9m-9 14h9m-9 22h9m-9 20h9m-9 64h9m-9 10h9m-9 63h9m-8-282h9m-9 51h9m-9 0h9m-9 15h9m-9 0h9m-9 8h9m-9 2h9m-9 9h9m-9 4h9m-9 0h9m-9 27h9m-9 7h9m-9 7h9m-9 27h9m-9 26h9m-9 18h9m-9 6h9m-9 12h9m-8-216h9m-9 36h9m-9 48h9m-9 0h9m-9 1h9m-9 17h9m-9 26h9m-9 32h9m-9 21h9m-9 34h9m-9 25h9m-9 26h9m-8-252h9m-9 100h9m-9 12h9m-9 18h9m-9 16h9m-9 10h9m-9 37h9m-9 0h9m-9 0h9m-8-259h9m-9 18h9m-9 117h9m-9 2h9m-9 11h9m-9 38h9m-9 100h9m-9 4h9m-8-290h9m-9 90h9m-9 31h9m-9 25h9m-9 4h9m-9 9h9m-9 8h9m-9 3h9m-9 94h9m-9 27h9m-9 29h9m-8-269h9m-9 5h9m-9 20h9m-9 4h9m-9 12h9m-9 7h9m-9 4h9m-9 74h9m-9 15h9m-9 8h9m-9 6h9m-9 72h9m-9 27h9m-8-346h9m-9 73h9m-9 96h9m-9 4h9m-9 3h9m-9 2h9m-9 9h9m-9 14h9m-9 1h9m-9 11h9m-9 11h9m-9 88h9m-9 23h9m-9 28h9m-8-352h9m-9 97h9m-9 33h9m-9 8h9m-9 7h9m-9 4h9m-9 43h9m-9 46h9m-9 2h9m-9 8h9m-9 4h9m-9 7h9m-9 1h9m-9 1h9m-9 6h9m-9 20h9m-9 12h9m-9 5h9m-9 4h9m-8-210h9m-9 30h9m-9 13h9m-9 26h9m-9 2h9m-9 10h9m-9 2h9m-9 26h9m-9 17h9m-9 24h9m-9 2h9m-9 50h9m-9 5h9m-9 12h9m-9 12h9m-9 9h9m-9 16h9m-8-286h9m-9 140h9m-9 19h9m-9 13h9m-9 96h9m-8-243h9m-9 52h9m-9 2h9m-9 22h9m-9 18h9m-9 6h9m-9 14h9m-9 9h9m-9 1h9m-9 13h9m-9 9h9m-9 14h9m-9 17h9m-9 19h9m-9 51h9m-8-293h9m-9 108h9m-9 17h9m-9 16h9m-9 101h9m-8-253h9m-9 97h9m-9 58h9m-9 73h9m-8-199h9m-9 8h9m-9 45h9m-9 30h9m-9 1h9m-9 6h9m-9 21h9m-9 36h9m-9 64h9m-9 10h9m-9 12h9m-9 36h9m-9 23h9m-8-271h9m-9 20h9m-9 31h9m-9 31h9m-9 3h9m-9 10h9m-9 77h9m-9 2h9m-9 1h9m-9 11h9m-9 27h9m-9 12h9m-9 10h9m-9 6h9m-9 9h9m-8-171h9m-9 32h9m-9 1h9m-9 33h9m-9 9h9m-9 18h9m-9 0h9m-9 9h9m-9 27h9m-9 4h9m-9 2h9m-9 4h9m-8-242h9m-9 61h9m-9 24h9m-9 99h9m-9 49h9m-9 2h9m-9 25h9m-9 19h9m-9 16h9m-8-256h9m-9 47h9m-9 14h9m-9 56h9m-9 56h9m-9 13h9m-9 38h9m-9 7h9m-8-271h9m-9 15h9m-9 32h9m-9 8h9m-9 10h9m-9 8h9m-9 22h9m-9 19h9m-9 4h9m-9 7h9m-9 49h9m-9 3h9m-9 3h9m-9 13h9m-9 8h9m-9 58h9m-9 1h9m-9 6h9m-9 32h9m-8-323h9m-9 31h9m-9 16h9m-9 77h9m-9 29h9m-9 21h9m-9 10h9m-9 10h9m-9 34h9m-9 12h9m-9 21h9m-9 4h9m-9 24h9m-9 17h9m-8-227h9m-9 12h9m-9 13h9m-9 9h9m-9 12h9m-9 11h9m-9 27h9m-9 11h9m-9 13h9m-9 65h9m-9 10h9m-8-230h9m-9 48h9m-9 37h9m-9 12h9m-9 23h9m-9 19h9m-9 7h9m-9 3h9m-9 6h9m-8-89h9m-9 82h9m-9 61h9m-9 24h9m-9 4h9m-9 11h9m-9 5h9m-9 21h9m-8-225h9m-9 6h9m-9 20h9m-9 16h9m-9 23h9m-9 1h9m-9 7h9m-9 27h9m-9 4h9m-9 19h9m-9 11h9m-9 40h9m-9 36h9m-8-220h9m-9 13h9m-9 0h9m-9 13h9m-9 5h9m-9 30h9m-9 7h9m-9 13h9m-9 19h9m-9 71h9m-9 11h9m-9 11h9m-8-175h9m-9 95h9m-9 16h9m-8-175h9m-9 67h9m-9 7h9m-9 6h9m-9 7h9m-9 23h9m-9 29h9m-9 2h9m-9 4h9m-9 13h9m-9 58h9m-9 35h9m-8-221h9m-9 4h9m-9 20h9m-9 25h9m-9 46h9m-9 6h9m-9 16h9m-9 26h9m-9 89h9m-9 39h9m-8-281h9m-9 84h9m-9 19h9m-9 22h9m-9 10h9m-9 12h9m-9 63h9m-9 35h9m-9 9h9m-9 2h9m-9 23h9m-8-175h9m-9 1h9m-9 11h9m-9 5h9m-9 1h9m-9 7h9m-9 1h9m-9 24h9m-9 17h9m-9 32h9m-9 5h9m-9 15h9m-9 24h9m-9 12h9m-9 16h9m-8-271h9m-9 104h9m-9 35h9m-9 15h9m-9 0h9m-9 62h9m-9 3h9m-9 9h9m-8-270h9m-9 54h9m-9 13h9m-9 27h9m-9 17h9m-9 69h9m-9 42h9m-9 12h9m-9 12h9m-9 9h9m-9 10h9m-9 2h9m-8-208h9m-9 18h9m-9 41h9m-9 5h9m-9 111h9m-9 30h9m-8-217h9m-9 35h9m-9 58h9m-9 5h9m-9 19h9m-9 16h9m-9 1h9m-8-144h9m-9 11h9m-9 70h9m-9 16h9m-9 90h9m-9 60h9m-8-240h9m-9 23h9m-9 20h9m-9 1h9m-9 11h9m-9 31h9m-9 31h9m-9 107h9m-9 2h9m-9 6h9m-8-264h9m-9 14h9m-9 73h9m-9 50h9m-9 123h9m-9 7h9m-8-171h9m-9 0h9m-9 13h9m-9 4h9m-9 22h9m-9 0h9m-9 14h9m-9 65h9m-9 6h9m-9 28h9m-9 35h9m-8 9h9m-8-201h9m-9 42h9m-9 19h9m-9 12h9m-9 12h9m-9 59h9m-9 3h9m-8-201h9m-9 126h9m-9 1h9m-9 46h9m-8-227h9m-9 15h9m-9 44h9m-9 17h9m-9 29h9m-9 140h9m-9 38h9m-9 11h9m-9 22h9m-8-217h9m-9 10h9m-9 20h9m-9 148h9m-9 0h9m-9 7h9m-9 20h9m-8-213h9m-9 13h9m-9 35h9m-9 71h9m-9 21h9m-9 53h9m-8-215h9m-9 30h9m-9 113h9m-9 48h9m-9 34h9m-9 26h9m-8-205h9m-9 54h9m-9 92h9m-9 5h9m-9 30h9m-9 6h9m-8-295h9m-9 97h9m-9 45h9m-9 25h9m-9 40h9m-9 40h9m-9 7h9m-9 0h9m-8-133h9m-9 70h9m-9 27h9m-9 29h9m-9 29h9m-9 2h9m-8-223h9m-9 105h9m-9 3h9m-9 41h9m-9 3h9m-9 51h9m-9 48h9m-9 2h9m-9 8h9m-8-222h9m-9 46h9m-9 7h9m-9 26h9m-9 18h9m-9 64h9m-9 9h9m-8-258h9m-9 57h9m-9 25h9m-9 23h9m-9 87h9m-9 17h9m-9 5h9m-9 17h9m-9 13h9m-9 5h9m-9 3h9m-9 29h9m-8-348h9m-9 65h9m-9 69h9m-9 3h9m-9 75h9m-9 119h9m-8-156h9m-9 70h9m-9 39h9m-9 40h9m-9 2h9m-8-304h9m-9 41h9m-9 54h9m-9 13h9m-9 2h9m-9 16h9m-9 64h9m-9 55h9m-8-310h9m-9 170h9m-9 33h9m-9 154h9m-9 9h9m-9 4h9m-9 10h9m-9 10h9m-9 5h9m-8-256h9m-9 30h9m-9 46h9m-9 11h9m-9 0h9m-9 68h9m-9 61h9m-9 58h9m-8-231h9m-9 12h9m-9 3h9m-9 78h9m-9 20h9m-9 85h9m-9 0h9m-9 7h9m-9 13h9m-8-217h9m-9 77h9m-9 50h9m-9 55h9m-9 8h9m-8-283h9m-9 69h9m-9 39h9m-9 65h9m-9 10h9m-9 29h9m-9 47h9m-9 10h9m-9 11h9m-9 45h9m-8-292h9m-9 174h9m-9 7h9m-9 44h9m-9 31h9m-9 14h9m-8-198h9m-9 9h9m-9 28h9m-9 110h9m-9 15h9m-9 25h9m-9 30h9m-8-291h9m-9 43h9m-9 122h9m-9 61h9m-9 11h9m-9 6h9m-8-221h9m-9 97h9m-9 39h9m-9 30h9m-9 12h9m-9 52h9m-9 1h9m-9 9h9m-8-181h9m-9 45h9m-9 123h9m-9 12h9m-8-206h9m-9 54h9m-9 69h9m-9 15h9m-9 5h9m-9 41h9m-9 2h9m-9 8h9m-8-269h9m-9 54h9m-9 6h9m-9 6h9m-9 90h9m-9 78h9m-9 4h9m-9 39h9m-9 33h9m-8-285h9m-9 13h9m-9 26h9m-9 100h9m-9 29h9m-9 39h9m-9 4h9m-9 11h9m-9 9h9m-9 11h9m-9 0h9m-9 10h9m-9 22h9m-8-175h9m-9 10h9m-8-32h9m-9 28h9m-9 33h9m-9 72h9m-9 12h9m-9 15h9m-9 12h9m-9 11h9m-9 9h9m-8-142h9m-9 63h9m-9 36h9m-9 6h9m-9 10h9m-9 12h9m-9 2h9m-9 10h9m-8-371h9m-9 314h9m-8-237h9m-9 125h9m-9 36h9m-9 20h9m-9 20h9m-8-108h9m-9 8h9m-9 134h9m-9 8h9m-9 60h9m-9 9h9m-8-296h9m-9 44h9m-9 49h9m-9 43h9m-8-61h9m-9 27h9m-9 125h9m-9 19h9m-9 10h9m-9 14h9m-8-231h9m-9 7h9m-9 41h9m-9 9h9m-9 90h9m-9 64h9m-9 5h9m-9 17h9m-8-220h9m-9 37h9m-9 84h9m-9 14h9m-9 53h9m-9 37h9m-9 14h9m-8-258h9m-9 24h9m-9 10h9m-9 76h9m-9 14h9m-9 61h9m-8-213h9m-9 28h9m-9 12h9m-9 38h9m-9 39h9m-9 45h9m-8-112h9m-9 96h9m-9 4h9m-9 15h9m-9 24h9m-9 43h9m-9 4h9m-9 13h9m-9 11h9m-8-230h9m-9 61h9m-9 18h9m-9 30h9m-9 124h9m-8-235h9m-9 83h9m-9 21h9m-9 10h9m-9 16h9m-9 13h9m-9 55h9m-9 7h9m-9 10h9m-9 58h9m-8-139h9m-9 80h9m-9 10h9m-9 1h9m-9 15h9m-9 7h9m-8-192h9m-9 45h9m-9 30h9m-9 52h9m-9 26h9m-9 2h9m-9 14h9m-9 35h9m-8-283h9m-9 9h9m-9 5h9m-9 68h9m-9 18h9m-9 62h9m-9 21h9m-9 1h9m-9 14h9m-9 10h9m-9 18h9m-9 9h9m-9 15h9m-9 41h9m-8-311h9m-9 10h9m-9 57h9m-9 46h9m-9 52h9m-9 25h9m-9 68h9m-9 13h9m-9 21h9m-8-324h9m-9 89h9m-9 62h9m-9 48h9m-9 4h9m-9 11h9m-9 1h9m-9 29h9m-9 25h9m-9 5h9m-9 4h9m-9 27h9m-9 16h9m-9 24h9m-8-248h9m-9 3h9m-9 61h9m-9 3h9m-9 25h9m-9 5h9m-9 72h9m-9 11h9m-9 7h9m-8-176h9m-9 29h9m-9 89h9m-9 98h9m-9 12h9m-8-266h9m-9 19h9m-9 20h9m-9 1h9m-9 15h9m-9 99h9m-9 60h9m-9 31h9m-9 21h9m-8-167h9m-9 28h9m-9 74h9m-9 33h9m-9 9h9m-9 11h9m-8-167h9m-9 18h9m-9 17h9m-9 2h9m-9 19h9m-9 45h9m-9 0h9m-9 15h9m-9 48h9m-9 1h9m-9 1h9m-8-331h9m-9 223h9m-9 15h9m-9 2h9m-9 31h9m-9 6h9m-9 4h9m-9 34h9m-9 9h9m-9 9h9m-8-390h9m-9 127h9m-9 44h9m-9 12h9m-9 14h9m-9 17h9m-9 8h9m-9 4h9m-9 8h9m-9 24h9m-9 24h9m-9 2h9m-9 39h9m-9 38h9m-9 10h9m-9 2h9m-9 24h9m-9 16h9m-8-250h9m-9 68h9m-9 4h9m-9 80h9m-9 6h9m-9 16h9m-9 19h9m-9 17h9m-9 2h9m-9 8h9m-8-264h9m-9 16h9m-9 83h9m-9 24h9m-9 35h9m-9 3h9m-9 60h9m-9 31h9m-9 13h9m-8-185h9m-9 41h9m-9 10h9m-9 8h9m-9 26h9m-9 72h9m-9 15h9m-8-275h9m-9 95h9m-9 0h9m-9 16h9m-9 24h9m-9 6h9m-9 67h9m-9 44h9m-9 10h9m-9 10h9m-9 18h9m-9 16h9m-8-211h9m-9 7h9m-9 11h9m-9 4h9m-9 102h9m-9 3h9m-9 3h9m-9 8h9m-9 15h9m-9 8h9m-9 11h9m-9 4h9m-9 6h9m-9 5h9m-9 19h9m-9 8h9m-8-335h9m-9 98h9m-9 5h9m-9 25h9m-9 31h9m-9 19h9m-9 18h9m-9 40h9m-9 25h9m-9 1h9m-9 30h9m-9 31h9m-9 13h9m-8-333h9m-9 121h9m-9 24h9m-9 1h9m-9 22h9m-9 7h9m-9 20h9m-9 7h9m-9 69h9m-9 12h9m-8-98h9m-9 5h9m-9 71h9m-9 4h9m-9 37h9m-8-171h9m-9 8h9m-9 1h9m-9 16h9m-9 12h9m-9 12h9m-9 47h9m-9 43h9m-9 20h9m-8-179h9m-9 82h9m-9 53h9m-9 46h9m-9 44h9m-8-249h9m-9 44h9m-9 65h9m-9 9h9m-9 1h9m-9 50h9m-9 27h9m-9 0h9m-8-192h9m-9 53h9m-9 35h9m-9 34h9m-9 9h9m-9 2h9m-9 13h9m-9 32h9m-9 16h9m-9 11h9m-9 3h9m-9 0h9m-8-241h9m-9 25h9m-9 10h9m-9 72h9m-9 1h9m-9 1h9m-9 44h9m-9 46h9m-9 61h9m-9 10h9m-8-226h9m-9 88h9m-9 88h9m-9 8h9m-9 8h9m-9 1h9m-9 39h9m-8-288h9m-9 117h9m-9 18h9m-9 1h9m-9 45h9m-9 8h9m-9 4h9m-9 4h9m-9 8h9m-9 51h9m-9 30h9m-8-289h9m-9 15h9m-9 111h9m-9 35h9m-9 34h9m-9 10h9m-9 11h9m-9 16h9m-9 15h9m-9 7h9m-9 6h9m-8-291h9m-9 87h9m-9 35h9m-9 11h9m-9 4h9m-9 9h9m-9 4h9m-9 6h9m-9 4h9m-9 4h9m-9 52h9m-9 33h9m-9 12h9m-9 21h9m-9 7h9m-8-206h9m-9 20h9m-9 2h9m-9 11h9m-9 26h9m-9 56h9m-9 25h9m-9 13h9m-9 14h9m-9 1h9m-9 15h9m-9 11h9m-8-225h9m-9 48h9m-9 35h9m-9 6h9m-9 22h9m-9 6h9m-9 16h9m-9 64h9m-9 17h9m-9 8h9m-9 1h9m-9 13h9m-9 8h9m-9 13h9m-8-284h9m-9 33h9m-9 32h9m-9 11h9m-9 12h9m-9 19h9m-9 5h9m-9 18h9m-9 6h9m-9 31h9m-9 10h9m-9 7h9m-9 5h9m-9 1h9m-9 7h9m-9 14h9m-9 18h9m-9 73h9m-8-306h9m-9 27h9m-9 46h9m-9 19h9m-9 21h9m-9 4h9m-9 65h9m-9 28h9m-8-203h9m-9 96h9m-9 8h9m-9 28h9m-9 9h9m-9 27h9m-9 98h9m-9 13h9m-9 1h9m-8-277h9m-9 12h9m-9 24h9m-9 44h9m-9 1h9m-9 48h9m-9 46h9m-9 43h9m-9 4h9m-9 2h9m-9 2h9m-9 13h9m-9 32h9m-8-262h9m-9 20h9m-9 79h9m-9 13h9m-9 36h9m-9 62h9m-9 31h9m-9 2h9m-9 2h9m-8-203h9m-9 13h9m-9 45h9m-9 18h9m-9 4h9m-9 16h9m-9 36h9m-9 27h9m-9 5h9m-9 3h9m-9 45h9m-8-283h9m-9 19h9m-9 33h9m-9 2h9m-9 33h9m-9 18h9m-9 2h9m-9 5h9m-9 28h9m-9 3h9m-9 6h9m-9 71h9m-9 26h9m-9 12h9m-9 1h9m-9 17h9m-9 15h9m-9 3h9m-9 16h9m-8-253h9m-9 4h9m-9 16h9m-9 27h9m-9 35h9m-9 48h9m-9 6h9m-9 12h9m-9 30h9m-9 26h9m-9 6h9m-9 17h9m-8-203h9m-9 41h9m-9 14h9m-9 6h9m-9 35h9m-9 7h9m-9 27h9m-9 41h9m-9 9h9m-9 18h9m-8-240h9m-9 18h9m-9 94h9m-9 27h9m-9 7h9m-9 1h9m-9 79h9m-9 1h9m-9 25h9m-8-233h9m-9 64h9m-9 17h9m-9 3h9m-9 28h9m-9 44h9m-9 12h9m-9 16h9m-9 22h9m-9 17h9m-9 4h9m-9 10h9m-9 1h9m-9 14h9m-8-327h9m-9 73h9m-9 6h9m-9 8h9m-9 37h9m-9 92h9m-9 29h9m-9 9h9m-9 39h9m-9 29h9m-8-277h9m-9 41h9m-9 26h9m-9 0h9m-9 41h9m-9 1h9m-9 4h9m-9 16h9m-9 46h9m-9 54h9m-9 5h9m-9 21h9m-9 31h9m-8-301h9m-9 41h9m-9 44h9m-9 33h9m-9 3h9m-9 3h9m-9 5h9m-9 9h9m-9 17h9m-9 22h9m-9 21h9m-9 35h9m-9 0h9m-9 6h9m-9 45h9m-9 4h9m-8-243h9m-9 17h9m-9 2h9m-9 53h9m-9 0h9m-9 9h9m-9 47h9m-9 26h9m-9 2h9m-9 49h9m-9 1h9m-9 23h9m-9 16h9m-9 3h9m-8-302h9m-9 17h9m-9 59h9m-9 24h9m-9 3h9m-9 14h9m-9 0h9m-9 6h9m-9 26h9m-9 1h9m-9 12h9m-9 14h9m-9 106h9m-8-283h9m-9 35h9m-9 25h9m-9 23h9m-9 13h9m-9 8h9m-9 6h9m-9 18h9m-9 9h9m-9 21h9m-9 24h9m-9 108h9m-8-301h9m-9 46h9m-9 45h9m-9 2h9m-9 23h9m-9 26h9m-9 2h9m-9 23h9m-9 20h9m-9 0h9m-9 31h9m-9 15h9m-9 16h9m-9 49h9m-9 15h9m-9 11h9m-8-265h9m-9 31h9m-9 54h9m-9 23h9m-9 20h9m-9 73h9m-9 5h9m-9 14h9m-9 39h9m-8-302h9m-9 11h9m-9 52h9m-9 33h9m-9 57h9m-9 100h9m-8-165h9m-9 27h9m-9 11h9m-9 52h9m-9 9h9m-9 1h9m-9 32h9m-9 13h9m-9 5h9m-9 9h9m-9 10h9m-9 2h9m-8-272h9m-9 30h9m-9 46h9m-9 18h9m-9 16h9m-9 10h9m-9 5h9m-9 0h9m-9 0h9m-9 23h9m-9 29h9m-9 29h9m-9 14h9m-9 14h9m-9 0h9m-9 11h9m-9 18h9m-9 12h9m-8-255h9m-9 9h9m-9 4h9m-9 85h9m-9 2h9m-9 7h9m-9 2h9m-9 10h9m-9 4h9m-9 41h9m-9 11h9m-9 28h9m-9 3h9m-9 17h9m-9 34h9m-9 10h9m-9 6h9m-9 15h9m-8-346h9m-9 42h9m-9 18h9m-9 99h9m-9 8h9m-9 5h9m-9 13h9m-9 45h9m-9 39h9m-9 29h9m-9 15h9m-9 25h9m-8-268h9m-9 68h9m-9 8h9m-9 21h9m-9 46h9m-9 19h9m-9 19h9m-9 18h9m-9 17h9m-9 5h9m-9 30h9m-8-282h9m-9 13h9m-9 43h9m-9 21h9m-9 4h9m-9 2h9m-9 28h9m-9 64h9m-9 5h9m-9 40h9m-9 94h9m-8-298h9m-9 42h9m-9 66h9m-9 23h9m-9 24h9m-9 44h9m-9 40h9m-9 13h9m-9 12h9m-9 14h9m-8-261h9m-9 15h9m-9 3h9m-9 62h9m-9 2h9m-9 5h9m-9 2h9m-9 7h9m-9 6h9m-9 21h9m-9 2h9m-9 26h9m-9 5h9m-9 4h9m-9 11h9m-9 30h9m-9 48h9m-9 17h9m-8-330h9m-9 26h9m-9 37h9m-9 6h9m-9 16h9m-9 4h9m-9 39h9m-9 19h9m-9 10h9m-9 5h9m-9 20h9m-9 3h9m-9 3h9m-9 1h9m-9 3h9m-9 2h9m-9 3h9m-9 3h9m-9 18h9m-9 16h9m-9 17h9m-9 14h9m-9 37h9m-9 38h9m-8-311h9m-9 13h9m-9 65h9m-9 24h9m-9 82h9m-9 4h9m-9 16h9m-9 27h9m-9 19h9m-9 7h9m-9 8h9m-9 14h9m-9 0h9m-9 9h9m-9 0h9m-9 24h9m-9 4h9m-9 6h9m-8-269h9m-9 5h9m-9 1h9m-9 29h9m-9 2h9m-9 16h9m-9 71h9m-9 69h9m-9 15h9m-9 14h9m-9 15h9m-9 25h9m-9 1h9m-8-290h9m-9 81h9m-9 24h9m-9 8h9m-9 40h9m-9 21h9m-9 14h9m-9 34h9m-9 5h9m-9 11h9m-9 18h9m-8-207h9m-9 90h9m-9 21h9m-9 4h9m-9 30h9m-9 9h9m-9 79h9m-9 4h9m-9 7h9m-8-392h9m-9 56h9m-9 103h9m-9 19h9m-9 19h9m-9 14h9m-9 5h9m-9 3h9m-9 5h9m-9 10h9m-9 18h9m-9 2h9m-9 14h9m-9 24h9m-9 41h9m-9 5h9m-9 2h9m-9 11h9m-9 39h9m-8-349h9m-9 51h9m-9 2h9m-9 22h9m-9 59h9m-9 13h9m-9 10h9m-9 5h9m-9 22h9m-9 21h9m-9 40h9m-9 5h9m-9 29h9m-9 6h9m-9 16h9m-9 30h9m-8-297h9m-9 73h9m-9 5h9m-9 3h9m-9 50h9m-9 14h9m-9 13h9m-9 33h9m-9 20h9m-9 4h9m-9 6h9m-9 11h9m-9 87h9m-8-308h9m-9 47h9m-9 88h9m-9 9h9m-9 1h9m-9 24h9m-9 0h9m-9 23h9m-9 43h9m-9 10h9m-9 40h9m-9 19h9m-8-244h9m-9 1h9m-9 9h9m-9 47h9m-9 2h9m-9 9h9m-9 18h9m-9 33h9m-9 32h9m-9 13h9m-9 1h9m-9 1h9m-9 26h9m-9 1h9m-9 8h9m-8-286h9m-9 4h9m-9 58h9m-9 10h9m-9 32h9m-9 22h9m-9 15h9m-9 11h9m-9 5h9m-9 3h9m-9 1h9m-9 23h9m-9 0h9m-9 12h9m-9 6h9m-9 11h9m-9 2h9m-9 9h9m-9 18h9m-9 12h9m-9 8h9m-9 3h9m-9 11h9m-9 12h9m-9 13h9m-8-182h9m-9 0h9m-9 27h9m-9 1h9m-9 10h9m-9 2h9m-9 2h9m-9 2h9m-9 1h9m-9 16h9m-9 4h9m-9 11h9m-9 23h9m-9 8h9m-9 10h9m-9 22h9m-9 27h9m-9 3h9m-9 7h9m-8-230h9m-9 27h9m-9 4h9m-9 44h9m-9 31h9m-9 9h9m-9 5h9m-9 8h9m-9 18h9m-9 14h9m-9 19h9m-9 6h9m-9 5h9m-9 8h9m-9 11h9m-8-364h9m-9 160h9m-9 24h9m-9 9h9m-9 10h9m-9 15h9m-9 3h9m-9 22h9m-9 12h9m-9 1h9m-9 1h9m-9 65h9m-9 8h9m-9 4h9m-9 0h9m-8-165h9m-9 9h9m-9 9h9m-9 3h9m-9 7h9m-9 3h9m-9 48h9m-9 13h9m-9 35h9m-9 22h9m-9 3h9m-9 40h9m-9 43h9m-9 0h9m-8-374h9m-9 152h9m-9 4h9m-9 6h9m-9 27h9m-9 22h9m-9 41h9m-9 0h9m-9 6h9m-9 0h9m-9 49h9m-9 14h9m-9 19h9m-9 13h9m-9 19h9m-9 5h9m-8-324h9m-9 68h9m-9 0h9m-9 36h9m-9 8h9m-9 33h9m-9 8h9m-9 29h9m-9 7h9m-9 13h9m-9 39h9m-9 26h9m-9 1h9m-9 9h9m-9 11h9m-9 15h9m-8-249h9m-9 33h9m-9 5h9m-9 0h9m-9 2h9m-9 26h9m-9 1h9m-9 4h9m-9 87h9m-9 3h9m-9 16h9m-9 4h9m-9 24h9m-9 56h9m-8-276h9m-9 27h9m-9 31h9m-9 5h9m-9 18h9m-9 17h9m-9 37h9m-9 8h9m-9 5h9m-9 14h9m-9 12h9m-9 1h9m-9 5h9m-9 38h9m-9 14h9m-9 4h9m-9 51h9m-8-296h9m-9 50h9m-9 12h9m-9 1h9m-9 12h9m-9 9h9m-9 3h9m-9 1h9m-9 37h9m-9 6h9m-9 59h9m-9 5h9m-9 51h9m-9 9h9m-9 12h9m-9 42h9m-9 0h9m-8-365h9m-9 121h9m-9 14h9m-9 24h9m-9 6h9m-9 22h9m-9 1h9m-9 32h9m-9 43h9m-9 4h9m-9 21h9m-9 11h9m-9 2h9m-9 42h9m-8-171h9m-9 24h9m-9 8h9m-9 59h9m-9 18h9m-9 1h9m-9 44h9m-9 1h9m-9 19h9m-9 11h9m-8-342h9m-9 95h9m-9 16h9m-9 5h9m-9 19h9m-9 13h9m-9 6h9m-9 2h9m-9 10h9m-9 2h9m-9 3h9m-9 21h9m-9 19h9m-9 5h9m-9 21h9m-9 7h9m-9 59h9m-9 15h9m-9 7h9m-9 2h9m-9 0h9m-8-289h9m-9 75h9m-9 16h9m-9 0h9m-9 8h9m-9 11h9m-9 7h9m-9 31h9m-9 7h9m-9 20h9m-9 4h9m-9 19h9m-9 6h9m-9 4h9m-9 14h9m-9 4h9m-9 30h9m-9 52h9m-8-300h9m-9 73h9m-9 22h9m-9 18h9m-9 8h9m-9 20h9m-9 13h9m-9 25h9m-9 41h9m-9 17h9m-9 27h9m-8-179h9m-9 6h9m-9 16h9m-9 9h9m-9 17h9m-9 30h9m-9 4h9m-9 40h9m-9 29h9m-9 4h9m-9 45h9m-9 7h9m-9 9h9m-8-300h9m-9 9h9m-9 51h9m-9 2h9m-9 33h9m-9 6h9m-9 12h9m-9 14h9m-9 3h9m-9 5h9m-9 22h9m-9 16h9m-9 9h9m-9 6h9m-9 17h9m-9 15h9m-9 64h9m-8-264h9m-9 5h9m-9 5h9m-9 7h9m-9 1h9m-9 21h9m-9 70h9m-9 11h9m-9 28h9m-9 11h9m-9 11h9m-9 19h9m-9 23h9m-9 2h9m-9 13h9m-9 0h9m-9 15h9m-9 7h9m-9 10h9m-9 1h9m-9 9h9m-8-318h9m-9 94h9m-9 22h9m-9 4h9m-9 5h9m-9 12h9m-9 3h9m-9 26h9m-9 13h9m-9 14h9m-9 0h9m-9 57h9m-9 1h9m-9 51h9m-9 1h9m-9 1h9m-9 4h9m-9 2h9m-8-277h9m-9 20h9m-9 42h9m-9 1h9m-9 6h9m-9 20h9m-9 5h9m-9 47h9m-9 16h9m-9 8h9m-9 27h9m-9 21h9m-9 17h9m-9 10h9m-9 25h9m-9 21h9m-9 11h9m-8-314h9m-9 30h9m-9 49h9m-9 20h9m-9 5h9m-9 2h9m-9 0h9m-9 3h9m-9 6h9m-9 5h9m-9 16h9m-9 3h9m-9 7h9m-9 1h9m-9 8h9m-9 18h9m-9 34h9m-9 50h9m-9 56h9m-9 2h9m-8-265h9m-9 12h9m-9 9h9m-9 42h9m-9 3h9m-9 28h9m-9 11h9m-9 17h9m-9 4h9m-9 15h9m-9 4h9m-9 34h9m-9 10h9m-9 11h9m-9 1h9m-9 14h9m-9 30h9m-9 7h9m-8-279h9m-9 33h9m-9 6h9m-9 10h9m-9 18h9m-9 40h9m-9 69h9m-9 19h9m-9 1h9m-9 3h9m-9 17h9m-9 18h9m-9 14h9m-9 18h9m-8-251h9m-9 10h9m-9 87h9m-9 1h9m-9 5h9m-9 5h9m-9 14h9m-9 25h9m-9 12h9m-8-141h9m-9 13h9m-9 20h9m-9 21h9m-9 3h9m-9 0h9m-9 22h9m-9 25h9m-9 13h9m-9 8h9m-9 9h9m-9 24h9m-9 15h9m-9 1h9m-9 26h9m-9 38h9m-8-283h9m-9 11h9m-9 22h9m-9 14h9m-9 20h9m-9 7h9m-9 9h9m-9 4h9m-9 8h9m-9 27h9m-9 9h9m-9 16h9m-9 27h9m-9 9h9m-9 7h9m-9 55h9m-9 46h9m-9 10h9m-8-315h9m-9 19h9m-9 8h9m-9 33h9m-9 1h9m-9 13h9m-9 0h9m-9 6h9m-9 23h9m-9 2h9m-9 7h9m-9 6h9m-9 4h9m-9 2h9m-9 16h9m-9 12h9m-9 17h9m-9 25h9m-9 5h9m-9 7h9m-9 52h9m-9 4h9m-9 0h9m-9 16h9m-8-199h9m-9 10h9m-9 6h9m-9 63h9m-9 1h9m-9 3h9m-9 4h9m-9 15h9m-9 9h9m-9 24h9m-9 9h9m-9 32h9m-9 19h9m-9 8h9m-9 1h9m-9 4h9m-9 2h9m-8-224h9m-9 16h9m-9 25h9m-9 3h9m-9 1h9m-9 10h9m-9 4h9m-9 9h9m-9 19h9m-9 77h9m-9 8h9m-9 59h9m-9 6h9m-8-367h9m-9 106h9m-9 49h9m-9 6h9m-9 21h9m-9 19h9m-9 18h9m-9 4h9m-9 7h9m-9 5h9m-9 17h9m-9 5h9m-9 27h9m-9 3h9m-9 13h9m-9 22h9m-9 53h9m-8-422h9m-9 209h9m-9 18h9m-9 0h9m-9 0h9m-9 8h9m-9 69h9m-9 110h9m-8-320h9m-9 30h9m-9 99h9m-9 20h9m-9 12h9m-9 16h9m-9 21h9m-9 34h9m-9 5h9m-9 36h9m-9 16h9m-9 1h9m-8-192h9m-9 16h9m-9 9h9m-9 23h9m-9 14h9m-9 4h9m-9 17h9m-9 6h9m-9 42h9m-9 0h9m-9 45h9m-9 34h9m-9 8h9m-8-291h9m-9 80h9m-9 14h9m-9 32h9m-9 35h9m-9 113h9m-9 1h9m-8-230h9m-9 15h9m-9 9h9m-9 28h9m-9 33h9m-9 17h9m-9 5h9m-9 32h9m-9 28h9m-9 10h9m-9 1h9m-9 5h9m-9 11h9m-9 1h9m-9 2h9m-9 21h9m-9 4h9m-8-283h9m-9 27h9m-9 13h9m-9 43h9m-9 8h9m-9 17h9m-9 38h9m-9 25h9m-9 8h9m-9 5h9m-9 17h9m-9 9h9m-9 65h9m-9 3h9m-9 12h9m-9 7h9m-8-269h9m-9 60h9m-9 14h9m-9 25h9m-9 24h9m-9 23h9m-9 10h9m-9 5h9m-9 10h9m-9 8h9m-9 14h9m-9 6h9m-9 29h9m-9 12h9m-9 24h9m-9 8h9m-9 12h9m-8-319h9m-9 4h9m-9 103h9m-9 1h9m-9 23h9m-9 2h9m-9 16h9m-9 18h9m-9 9h9m-9 18h9m-9 8h9m-9 70h9m-9 42h9m-9 9h9m-8-232h9m-9 27h9m-9 12h9m-9 18h9m-9 9h9m-9 2h9m-9 0h9m-9 4h9m-9 61h9m-9 85h9m-9 12h9m-8-219h9m-9 11h9m-9 13h9m-9 11h9m-9 2h9m-9 13h9m-9 1h9m-9 13h9m-9 16h9m-9 27h9m-9 9h9m-9 3h9m-9 23h9m-9 2h9m-9 75h9m-9 5h9m-8-439h9m-9 136h9m-9 44h9m-9 23h9m-9 27h9m-9 1h9m-9 34h9m-9 1h9m-9 13h9m-9 12h9m-9 14h9m-9 5h9m-9 16h9m-9 20h9m-9 51h9m-9 7h9m-8-304h9m-9 114h9m-9 13h9m-9 35h9m-9 3h9m-9 5h9m-9 2h9m-9 2h9m-9 9h9m-9 0h9m-9 11h9m-9 3h9m-9 6h9m-9 8h9m-9 98h9m-8-229h9m-9 9h9m-9 7h9m-9 23h9m-9 0h9m-9 11h9m-9 89h9m-9 28h9m-9 28h9m-9 59h9m-8-250h9m-9 15h9m-9 16h9m-9 30h9m-9 19h9m-9 18h9m-9 22h9m-9 9h9m-9 13h9m-9 43h9m-9 8h9m-9 37h9m-9 7h9m-8-262h9m-9 23h9m-9 23h9m-9 13h9m-9 62h9m-9 50h9m-9 22h9m-9 6h9m-9 62h9m-9 4h9m-8-264h9m-9 22h9m-9 31h9m-9 17h9m-9 0h9m-9 1h9m-9 10h9m-9 14h9m-9 19h9m-9 96h9m-9 7h9m-9 33h9m-9 23h9m-9 7h9m-8-220h9m-9 8h9m-9 18h9m-9 31h9m-9 6h9m-9 2h9m-9 6h9m-9 2h9m-9 9h9m-9 14h9m-9 9h9m-9 26h9m-9 9h9m-9 58h9m-8-297h9m-9 94h9m-9 19h9m-9 23h9m-9 0h9m-9 39h9m-9 7h9m-9 7h9m-9 22h9m-9 8h9m-9 0h9m-9 17h9m-9 6h9m-9 11h9m-9 0h9m-9 2h9m-9 50h9m-8-284h9m-9 45h9m-9 23h9m-9 11h9m-9 45h9m-9 11h9m-9 0h9m-9 9h9m-9 11h9m-9 58h9m-9 3h9m-9 16h9m-9 2h9m-9 2h9m-9 0h9m-9 13h9m-9 14h9m-8-199h9m-9 16h9m-9 9h9m-9 6h9m-9 41h9m-9 14h9m-9 37h9m-9 73h9m-9 30h9m-8-351h9m-9 79h9m-9 4h9m-9 37h9m-9 9h9m-9 5h9m-9 7h9m-9 68h9m-9 7h9m-9 18h9m-9 20h9m-9 5h9m-9 4h9m-9 12h9m-9 52h9m-9 3h9m-8-239h9m-9 1h9m-9 45h9m-9 27h9m-9 5h9m-9 12h9m-9 2h9m-9 24h9m-9 9h9m-9 6h9m-9 4h9m-9 23h9m-9 5h9m-9 29h9m-9 9h9m-9 4h9m-9 6h9m-9 4h9m-9 8h9m-9 6h9m-9 4h9m-9 18h9m-8-302h9m-9 48h9m-9 35h9m-9 8h9m-9 1h9m-9 26h9m-9 54h9m-9 3h9m-9 15h9m-9 6h9m-9 74h9m-8-262h9m-9 36h9m-9 7h9m-9 0h9m-9 29h9m-9 46h9m-9 1h9m-9 5h9m-9 1h9m-9 2h9m-9 27h9m-9 33h9m-9 26h9m-9 7h9m-9 12h9m-9 7h9m-9 38h9m-9 45h9m-8-299h9m-9 52h9m-9 47h9m-9 16h9m-9 4h9m-9 8h9m-9 12h9m-9 5h9m-9 8h9m-9 13h9m-9 8h9m-9 27h9m-9 54h9m-9 11h9m-9 16h9m-8-262h9m-9 39h9m-9 2h9m-9 20h9m-9 5h9m-9 1h9m-9 12h9m-9 37h9m-9 73h9m-9 9h9m-9 1h9m-9 23h9m-9 1h9m-9 6h9m-9 22h9m-9 19h9m-8-287h9m-9 41h9m-9 11h9m-9 21h9m-9 9h9m-9 2h9m-9 4h9m-9 13h9m-9 20h9m-9 59h9m-9 28h9m-9 19h9m-9 66h9m-8-295h9m-9 22h9m-9 73h9m-9 1h9m-9 20h9m-9 28h9m-9 10h9m-9 18h9m-9 2h9m-9 25h9m-9 22h9m-9 61h9m-9 6h9m-8-331h9m-9 48h9m-9 12h9m-9 29h9m-9 42h9m-9 62h9m-9 5h9m-9 15h9m-9 15h9m-9 17h9m-9 31h9m-9 8h9m-9 16h9m-9 6h9m-8-338h9m-9 53h9m-9 94h9m-9 8h9m-9 6h9m-9 56h9m-9 6h9m-9 42h9m-9 0h9m-9 4h9m-9 17h9m-9 5h9m-9 12h9m-9 32h9m-9 27h9m-8-330h9m-9 49h9m-9 97h9m-9 15h9m-9 27h9m-9 31h9m-9 22h9m-9 3h9m-9 24h9m-8-252h9m-9 27h9m-9 29h9m-9 82h9m-9 1h9m-9 5h9m-9 22h9m-9 12h9m-9 5h9m-9 13h9m-9 10h9m-9 9h9m-9 26h9m-9 12h9m-8-216h9m-9 14h9m-9 88h9m-9 4h9m-9 69h9m-8-289h9m-9 124h9m-9 37h9m-9 11h9m-9 36h9m-9 35h9m-9 25h9m-9 5h9m-9 2h9m-9 19h9m-9 20h9m-9 5h9m-9 4h9m-9 11h9m-9 27h9m-9 42h9m-8-222h9m-9 10h9m-9 48h9m-9 23h9m-9 6h9m-9 22h9m-9 36h9m-9 18h9m-9 9h9m-9 38h9m-8-255h9m-9 13h9m-9 20h9m-9 80h9m-9 40h9m-9 41h9m-9 9h9m-9 1h9m-9 13h9m-9 37h9m-8-326h9m-9 13h9m-9 31h9m-9 22h9m-9 15h9m-9 23h9m-9 17h9m-9 63h9m-9 39h9m-9 4h9m-9 25h9m-9 63h9m-8-272h9m-9 24h9m-9 74h9m-9 9h9m-9 21h9m-9 12h9m-9 3h9m-9 1h9m-9 37h9m-9 8h9m-9 98h9m-8-241h9m-9 7h9m-9 9h9m-9 59h9m-9 1h9m-9 9h9m-9 57h9m-9 3h9m-9 47h9m-9 42h9m-8-244h9m-9 45h9m-9 43h9m-9 2h9m-9 2h9m-9 47h9m-9 24h9m-9 0h9m-9 10h9m-9 20h9m-9 7h9m-9 42h9m-8-209h9m-9 50h9m-9 0h9m-9 7h9m-9 15h9m-9 6h9m-9 23h9m-9 18h9m-9 1h9m-9 26h9m-9 17h9m-9 21h9m-9 3h9m-8-192h9m-9 108h9m-9 53h9m-9 15h9m-9 5h9m-9 1h9m-9 15h9m-9 0h9m-8-276h9m-9 1h9m-9 39h9m-9 64h9m-9 12h9m-9 53h9m-9 17h9m-9 19h9m-9 3h9m-9 24h9m-9 31h9m-9 5h9m-9 0h9m-9 12h9m-9 6h9m-9 3h9m-8-228h9m-9 18h9m-9 44h9m-9 40h9m-9 8h9m-9 83h9m-9 14h9m-9 14h9m-9 9h9m-8-204h9m-9 20h9m-9 58h9m-9 3h9m-9 47h9m-9 85h9m-8-197h9m-9 67h9m-9 35h9m-9 15h9m-8-180h9m-9 18h9m-9 12h9m-9 60h9m-9 21h9m-9 24h9m-9 15h9m-9 27h9m-9 16h9m-8-288h9m-9 48h9m-9 58h9m-9 3h9m-9 14h9m-9 34h9m-9 11h9m-9 6h9m-9 23h9m-9 11h9m-9 48h9m-9 31h9m-9 22h9m-9 10h9m-9 8h9m-9 8h9m-9 22h9m-9 9h9m-9 2h9m-8-287h9m-9 2h9m-9 4h9m-9 33h9m-9 3h9m-9 1h9m-9 44h9m-9 19h9m-9 71h9m-9 8h9m-9 12h9m-9 17h9m-9 30h9m-9 28h9m-8-246h9m-9 30h9m-9 17h9m-9 38h9m-9 13h9m-9 9h9m-9 1h9m-9 16h9m-9 1h9m-9 31h9m-9 75h9m-9 2h9m-8-278h9m-9 64h9m-9 63h9m-9 16h9m-9 23h9m-9 0h9m-9 12h9m-9 2h9m-9 3h9m-9 8h9m-9 68h9m-9 3h9m-9 29h9m-8-270h9m-9 11h9m-9 35h9m-9 43h9m-9 69h9m-9 3h9m-9 9h9m-9 17h9m-9 11h9m-9 19h9m-9 13h9m-8-170h9m-9 56h9m-9 31h9m-9 18h9m-9 14h9m-9 3h9m-9 2h9m-9 18h9m-9 6h9m-9 19h9m-9 30h9m-8-405h9m-9 70h9m-9 113h9m-9 68h9m-9 21h9m-9 3h9m-9 38h9m-9 8h9m-9 49h9m-9 60h9m-8-356h9m-9 118h9m-9 12h9m-9 3h9m-9 53h9m-9 43h9m-9 23h9m-9 31h9m-9 26h9m-9 14h9m-9 7h9m-9 9h9m-8-330h9m-9 97h9m-9 6h9m-9 10h9m-9 20h9m-9 4h9m-9 59h9m-9 18h9m-9 76h9m-9 7h9m-9 18h9m-8-259h9m-9 75h9m-9 51h9m-9 7h9m-9 21h9m-9 31h9m-9 24h9m-9 40h9m-8-222h9m-9 6h9m-9 9h9m-9 21h9m-9 16h9m-9 51h9m-9 3h9m-9 3h9m-9 22h9m-9 31h9m-9 85h9m-8-333h9m-9 67h9m-9 20h9m-9 21h9m-9 74h9m-9 75h9m-9 21h9m-9 57h9m-8-363h9m-9 59h9m-9 73h9m-9 21h9m-9 32h9m-9 41h9m-9 27h9m-9 55h9m-9 1h9m-9 16h9m-9 34h9m-8-275h9m-9 48h9m-9 42h9m-9 39h9m-9 12h9m-9 62h9m-8-145h9m-9 5h9m-9 13h9m-9 40h9m-9 5h9m-9 26h9m-9 23h9m-9 6h9m-9 11h9m-9 6h9m-9 53h9m-8-254h9m-9 15h9m-9 106h9m-9 14h9m-9 18h9m-9 10h9m-9 10h9m-9 5h9m-9 19h9m-9 87h9m-8-259h9m-9 94h9m-9 53h9m-9 57h9m-9 8h9m-9 11h9m-9 25h9m-8-225h9m-9 5h9m-9 31h9m-9 32h9m-9 1h9m-9 5h9m-9 27h9m-9 27h9m-9 43h9m-8-149h9m-9 4h9m-9 100h9m-9 11h9m-9 59h9m-8-220h9m-9 80h9m-9 4h9m-9 31h9m-9 18h9m-9 4h9m-9 9h9m-9 24h9m-9 3h9m-9 3h9m-9 48h9m-9 55h9m-8-254h9m-9 38h9m-9 46h9m-9 4h9m-9 3h9m-9 25h9m-9 33h9m-9 36h9m-9 40h9m-8-263h9m-9 28h9m-9 22h9m-9 20h9m-9 32h9m-9 12h9m-9 95h9m-9 27h9m-9 19h9m-8-221h9m-9 60h9m-9 49h9m-9 0h9m-9 1h9m-9 16h9m-9 34h9m-9 3h9m-9 16h9m-8-237h9m-9 30h9m-9 49h9m-9 11h9m-9 13h9m-9 6h9m-9 2h9m-9 41h9m-9 30h9m-9 22h9m-9 30h9m-9 12h9m-9 71h9m-8-364h9m-9 18h9m-9 153h9m-9 23h9m-9 8h9m-9 13h9m-9 68h9m-9 10h9m-9 13h9m-9 6h9m-8-149h9m-9 34h9m-9 13h9m-9 5h9m-9 72h9m-9 22h9m-9 11h9m-8-244h9m-9 60h9m-9 7h9m-9 37h9m-9 1h9m-9 12h9m-9 18h9m-9 74h9m-9 38h9m-8-167h9m-9 4h9m-9 48h9m-9 61h9m-9 16h9m-9 42h9m-9 27h9m-8-429h9m-9 137h9m-9 34h9m-9 32h9m-9 26h9m-9 36h9m-9 0h9m-9 16h9m-9 19h9m-9 27h9m-9 5h9m-9 28h9m-9 32h9m-9 17h9m-9 19h9m-8-210h9m-9 41h9m-9 26h9m-9 14h9m-9 26h9m-9 11h9m-9 16h9m-9 20h9m-9 23h9m-9 35h9m-8-239h9m-9 4h9m-9 9h9m-9 15h9m-9 18h9m-9 19h9m-9 14h9m-9 6h9m-9 17h9m-9 5h9m-9 81h9m-8-280h9m-9 84h9m-9 39h9m-9 78h9m-9 6h9m-9 21h9m-8-193h9m-9 29h9m-9 5h9m-9 91h9m-9 42h9m-9 78h9m-8-154h9m-9 104h9m-9 6h9m-9 29h9m-8-211h9m-9 47h9m-9 55h9m-9 6h9m-9 13h9m-9 33h9m-9 108h9m-9 4h9m-9 1h9m-8-276h9m-9 77h9m-9 65h9m-9 31h9m-9 2h9m-9 24h9m-9 52h9m-8-322h9m-9 70h9m-9 43h9m-9 53h9m-9 148h9m-8-284h9m-9 46h9m-9 13h9m-9 45h9m-9 30h9m-9 21h9m-9 1h9m-9 40h9m-9 72h9m-9 66h9m-8-282h9m-9 77h9m-9 1h9m-8-155h9m-9 91h9m-9 14h9m-9 39h9m-9 168h9m-8-258h9m-9 48h9m-9 23h9m-9 13h9m-9 2h9m-9 83h9m-9 132h9m-8-248h9m-9 53h9m-9 21h9m-8 24h9m-9 14h9m-9 104h9m-8-218h9m-9 30h9m-9 21h9m-9 13h9m-9 38h9m-9 20h9m-9 9h9m-9 33h9m-9 45h9m-8-173h9m-9 36h9m-9 50h9m-9 4h9m-9 26h9m-9 72h9m-8-251h9m-9 12h9m-9 50h9m-9 33h9m-9 119h9m-8-144h9m-9 31h9m-9 8h9m-9 28h9m-9 34h9m-9 54h9m-9 13h9m-8-176h9m-9 37h9m-8-39h9m-9 44h9m-9 6h9m-9 9h9m-9 75h9m-9 47h9m-9 12h9m-8-205h9m-9 19h9m-9 3h9m-9 25h9m-9 60h9m-9 64h9m-8-101h9m-9 67h9m-9 17h9m-9 29h9m-8-142h9m-9 119h9m-8-200h9m-9 117h9m-9 26h9m-9 20h9m-9 4h9m-9 77h9m-8-249h9m-9 116h9m-9 12h9m-9 1h9m-9 137h9m-9 2h9m-8-322h9m-9 53h9m-9 77h9m-9 9h9m-9 54h9m-9 64h9m-9 51h9m-8-279h9m-9 95h9m-9 117h9m-9 70h9m-8-241h9m-9 7h9m-9 137h9m-9 1h9m-9 40h9m-9 11h9m-9 28h9m-9 33h9m-8-148h9m-9 32h9m-9 10h9m-8-79h9m-9 95h9m-8-341h9m-9 288h9m-9 92h9m-8-179h9m-9 61h9m-9 14h9m-9 6h9m-9 87h9m-8-198h9m-9 87h9m-9 4h9m-9 141h9m-8-287h9m-9 164h9m-9 28h9m-9 6h9m-9 46h9m-9 14h9m-8-287h9m-9 148h9m-9 8h9m-9 64h9m-9 65h9m-9 50h9m-9 4h9m-8-283h9m-9 69h9m-9 125h9m-8 33h9m-9 20h9m-9 1h9m-9 8h9m-8-126h9m-9 12h9m-9 2h9m-8-137h9m-9 96h9m-9 84h9m-9 36h9m-9 5h9m-8-202h9m-8 4h9m-9 94h9m-9 67h9m-9 17h9m-8-188h9m-9 81h9m-9 37h9m-9 101h9m-8-168h9m-8-132h9m-9 106h9m-9 41h9m-9 90h9m-8-41h9m-9 25h9m-9 10h9m-9 7h9m-8-151h9m-9 31h9m-9 76h9m-9 55h9m-9 63h9m-9 3h9m-8-249h9m-9 116h9m-9 43h9m-9 8h9m-9 19h9m-9 60h9m-8-187h9m-9 92h9m-9 34h9m-8-241h9m-9 179h9m-9 46h9m-8-256h9m-9 199h9m-9 15h9m-9 13h9m-9 35h9m-8-189h9m-9 151h9m-9 73h9m-9 21h9m-9 38h9m-8-207h9m-9 75h9m-9 11h9m-9 78h9m-8-261h9m-9 109h9m-9 9h9m-9 146h9m-7-142h9m-9 44h9m-9 39h9m-8-127h9m-9 6h9m-9 11h9m-9 106h9m-9 31h9m-8-108h9m-8-158h9m-9 155h9m-9 3h9m-9 57h9m-9 12h9m-9 46h9m-8-71h9m-9 15h9m-9 62h9m-9 15h9m-8-211h9m-9 96h9m-9 10h9m-8-14h9m-8-113h9m-9 144h9m-8 2h9m-8-1h9m-9 126h9m-8-122h9m-9 77h9m-9 2h9m-8-143h9m-9 160h9m-7-178h9m-8-134h9m-9 54h9m-9 126h9m-8-103h9m-9 19h9m-9 200h9m-8-300h9m-9 243h9m-9 48h9m-9 32h9m-8-230h9m-9 96h9m-9 5h9m-9 83h9m-8-121h9m-9 69h9m-8-93h9m-9 42h9m-9 117h9m-8-229h9m-9 194h9m-8-132h9m-9 75h9m-9 21h9m-8-141h9m-9 127h9m-9 4h9m-9 8h9m-8 4h9m-9 50h9m-7-125h9m-9 63h9m-8-41h9m-9 130h9m-9 25h9m-8-236h9m-9 73h9m-8 12h9m-9 63h9m-7-256h9m-9 192h9m-9 63h9m-9 130h9m-8-274h9m-9 157h9m-8-18h9m-6-126h9m-7-58h9m-9 221h9m-8 18h9m-9 0h9m-8-247h9m-9 23h9m-9 114h9m-5 8h9m-9 99h9m-8-143h9m-9 19h9m-9 123h9m-9 43h9m-7-280h9m-8-16h9m-7-39h9m-9 145h9m-9 14h9m-8 187h9m-8-68h9m-8-81h9m-9 100h9m-7-263h9m-9 164h9m-8-33h9m-7 116h9m-9 2h9m-7-138h9m-9 87h9m-9 109h9m-8-76h9m-7-107h9m-9 138h9m-4-271h9m-9 127h9m-6 112h9m-7-72h9m-7 130h9m-6-93h9m-9 94h9m-4-107h9m-9 31h9m-8-158h9m-5 59h9m0 91h9m-7 87h9m-7-8h9m-1-78h9m2 30h9m18 78h9m-4-161h9m-6 121h9" stroke="#000" stroke-width="9" fill="none"/>
<rect x="265.70" y="241.30" width="63.80" height="47.70" fill="none" stroke="#000" stroke-width="1.1"/>
<line x1="286.00" y1="241.30" x2="286.00" y2="289.00" stroke="#000" stroke-width="0.9"/>
<line x1="265.70" y1="279.40" x2="329.50" y2="279.40" stroke="#000" stroke-width="0.9"/>
<line x1="265.70" y1="294.50" x2="331.00" y2="294.50" stroke="#000" stroke-width="1.7"/>
<polygon points="339.00,294.50 330.00,291.30 330.00,297.70" fill="#000"/>
<text x="268.8" y="308.8" font-size="10.8" font-family='"Liberation Serif", serif' font-weight="bold" text-anchor="start" textLength="72.2" lengthAdjust="spacingAndGlyphs" stroke="#000" stroke-width="0.3">HLA-DR FITC</text>
<text x="260" y="252.4" font-size="8.2" font-family='"Liberation Serif", serif' font-weight="bold" text-anchor="start" textLength="22.5" lengthAdjust="spacingAndGlyphs" stroke="#000" stroke-width="0.3">25.4%</text>
<text x="292" y="252.4" font-size="8.2" font-family='"Liberation Serif", serif' font-weight="bold" text-anchor="start" textLength="23" lengthAdjust="spacingAndGlyphs" stroke="#000" stroke-width="0.3">25.1%</text>
<text x="349.8" y="14.3" font-size="16.5" font-family='"Liberation Sans", sans-serif' font-weight="bold" text-anchor="start" textLength="13.2" lengthAdjust="spacingAndGlyphs" stroke="#000" stroke-width="0.3">C</text>
<text x="403.7" y="13.1" font-size="9.3" font-family='"Liberation Serif", serif' font-weight="bold" text-anchor="start" textLength="112" lengthAdjust="spacingAndGlyphs" stroke="#000" stroke-width="0.3">immunosuppressive therapy</text>
<polygon points="471.7,19.3 507.8,19.3 507.8,16.4 519.8,21 507.8,25.6 507.8,22.8 471.7,22.8" fill="#fff" stroke="#000" stroke-width="1.2"/>
<line x1="379.50" y1="116.50" x2="503.00" y2="116.50" stroke="#666" stroke-width="0.7" stroke-dasharray="5 1.2 1.2 1.2"/>
<line x1="379.50" y1="105.50" x2="503.00" y2="105.50" stroke="#666" stroke-width="0.7" stroke-dasharray="5 1.2 1.2 1.2"/>
<line x1="379.50" y1="94.50" x2="503.00" y2="94.50" stroke="#666" stroke-width="0.7" stroke-dasharray="5 1.2 1.2 1.2"/>
<line x1="379.50" y1="84.50" x2="503.00" y2="84.50" stroke="#666" stroke-width="0.7" stroke-dasharray="5 1.2 1.2 1.2"/>
<line x1="379.50" y1="73.50" x2="503.00" y2="73.50" stroke="#666" stroke-width="0.7" stroke-dasharray="5 1.2 1.2 1.2"/>
<line x1="379.50" y1="62.50" x2="503.00" y2="62.50" stroke="#666" stroke-width="0.7" stroke-dasharray="5 1.2 1.2 1.2"/>
<line x1="379.50" y1="51.50" x2="503.00" y2="51.50" stroke="#666" stroke-width="0.7" stroke-dasharray="5 1.2 1.2 1.2"/>
<line x1="379.50" y1="41.50" x2="503.00" y2="41.50" stroke="#666" stroke-width="0.7" stroke-dasharray="5 1.2 1.2 1.2"/>
<line x1="379.50" y1="30.50" x2="503.00" y2="30.50" stroke="#666" stroke-width="0.7" stroke-dasharray="5 1.2 1.2 1.2"/>
<line x1="379.50" y1="19.50" x2="503.00" y2="19.50" stroke="#666" stroke-width="0.7" stroke-dasharray="5 1.2 1.2 1.2"/>
<line x1="378.50" y1="19.30" x2="378.50" y2="126.30" stroke="#000" stroke-width="1.2"/>
<line x1="378.00" y1="126.30" x2="507.00" y2="126.30" stroke="#000" stroke-width="1.3"/>
<text x="374" y="21.699999999999996" font-size="7.3" font-family='"Liberation Serif", serif' font-weight="bold" text-anchor="end" stroke="#000" stroke-width="0.3">100</text>
<text x="374" y="43.09999999999999" font-size="7.3" font-family='"Liberation Serif", serif' font-weight="bold" text-anchor="end" stroke="#000" stroke-width="0.3">80</text>
<text x="374" y="64.5" font-size="7.3" font-family='"Liberation Serif", serif' font-weight="bold" text-anchor="end" stroke="#000" stroke-width="0.3">60</text>
<text x="374" y="85.9" font-size="7.3" font-family='"Liberation Serif", serif' font-weight="bold" text-anchor="end" stroke="#000" stroke-width="0.3">40</text>
<text x="374" y="107.3" font-size="7.3" font-family='"Liberation Serif", serif' font-weight="bold" text-anchor="end" stroke="#000" stroke-width="0.3">20</text>
<text x="374" y="128.7" font-size="7.3" font-family='"Liberation Serif", serif' font-weight="bold" text-anchor="end" stroke="#000" stroke-width="0.3">0%</text>
<text x="360" y="104.9" font-size="10" font-family='"Liberation Serif", serif' font-weight="bold" text-anchor="start" transform="rotate(-90 360 104.9)" textLength="25" lengthAdjust="spacingAndGlyphs" stroke="#000" stroke-width="0.3">OX40</text>
<text x="355.9" y="77.6" font-size="9.5" font-family='"Liberation Sans", sans-serif' font-weight="bold" text-anchor="start" transform="rotate(-90 355.9 77.6)" stroke="#000" stroke-width="0.2">+</text>
<text x="360" y="72.5" font-size="10" font-family='"Liberation Serif", serif' font-weight="bold" text-anchor="start" transform="rotate(-90 360 72.5)" stroke="#000" stroke-width="0.3">/</text>
<text x="360" y="57" font-size="10" font-family='"Liberation Serif", serif' font-weight="bold" text-anchor="start" transform="rotate(-90 360 57)" textLength="18.8" lengthAdjust="spacingAndGlyphs" stroke="#000" stroke-width="0.3">CD4</text>
<text x="355.9" y="37.2" font-size="9.5" font-family='"Liberation Sans", sans-serif' font-weight="bold" text-anchor="start" transform="rotate(-90 355.9 37.2)" stroke="#000" stroke-width="0.2">+</text>
<line x1="393.50" y1="126.30" x2="393.50" y2="128.80" stroke="#000" stroke-width="0.8"/>
<line x1="433.20" y1="126.30" x2="433.20" y2="128.80" stroke="#000" stroke-width="0.8"/>
<line x1="470.30" y1="126.30" x2="470.30" y2="128.80" stroke="#000" stroke-width="0.8"/>
<rect x="383.80" y="81.60" width="61.70" height="64.00" fill="none" stroke="#000" stroke-width="0.9" stroke-dasharray="1.6 1.6"/>
<rect x="460.60" y="26.60" width="18.00" height="112.80" fill="none" stroke="#000" stroke-width="0.9" stroke-dasharray="1.6 1.6"/>
<polyline points="393.5,108.1 433.2,85.6 470.3,87.8 489.0,97.4" fill="none" stroke="#000" stroke-width="1.2" stroke-dasharray="2.2 1.3"/>
<polyline points="393.5,109.2 433.2,94.2 470.3,82.4 489.0,107.4" fill="none" stroke="#000" stroke-width="1.2" stroke-dasharray="2.2 1.3"/>
<polyline points="393.5,111.3 433.2,99.5 470.3,92.1 489.0,110.8" fill="none" stroke="#000" stroke-width="1.2" stroke-dasharray="2.2 1.3"/>
<polyline points="393.5,107.0 433.2,109.2 470.3,100.9 489.0,114.3" fill="none" stroke="#000" stroke-width="1.2" stroke-dasharray="2.2 1.3"/>
<polyline points="393.5,110.2 433.2,108.6 470.3,94.2 489.0,117.7" fill="none" stroke="#000" stroke-width="1.2" stroke-dasharray="2.2 1.3"/>
<polyline points="393.5,108.6 433.2,108.1 470.3,113.5 489.0,120.7" fill="none" stroke="#000" stroke-width="1.2" stroke-dasharray="2.2 1.3"/>
<circle cx="489.00" cy="97.41" r="1.5" fill="#fff" stroke="#000" stroke-width="0.8"/>
<circle cx="489.00" cy="107.36" r="1.5" fill="#fff" stroke="#000" stroke-width="0.8"/>
<circle cx="489.00" cy="110.78" r="1.5" fill="#fff" stroke="#000" stroke-width="0.8"/>
<circle cx="489.00" cy="114.32" r="1.5" fill="#fff" stroke="#000" stroke-width="0.8"/>
<circle cx="489.00" cy="117.74" r="1.5" fill="#fff" stroke="#000" stroke-width="0.8"/>
<circle cx="489.00" cy="120.74" r="1.5" fill="#fff" stroke="#000" stroke-width="0.8"/>
<polygon points="433.20,83.64 431.20,85.64 433.20,87.64 435.20,85.64" fill="#fff" stroke="#000" stroke-width="0.8"/>
<circle cx="393.50" cy="108.11" r="1.5" fill="#fff" stroke="#000" stroke-width="0.7"/>
<circle cx="393.50" cy="109.18" r="1.5" fill="#fff" stroke="#000" stroke-width="0.7"/>
<circle cx="393.50" cy="111.32" r="1.5" fill="#fff" stroke="#000" stroke-width="0.7"/>
<circle cx="393.50" cy="107.04" r="1.5" fill="#fff" stroke="#000" stroke-width="0.7"/>
<polygon points="470.30,93.76 468.60,90.70 472.00,90.70" fill="#fff" stroke="#000" stroke-width="0.7"/>
<polygon points="470.30,86.18 468.70,89.06 471.90,89.06" fill="#fff" stroke="#000" stroke-width="0.7"/>
<circle cx="470.30" cy="100.94" r="1.1" fill="#000" stroke="#000" stroke-width="1"/>
<polyline points="393.5,111.3 433.2,109.2 470.3,33.2 489.0,78.7" fill="none" stroke="#000" stroke-width="1.5"/>
<rect x="391.90" y="109.72" width="3.2" height="3.2" fill="#000" stroke="#000" stroke-width="0.8"/>
<rect x="431.60" y="107.58" width="3.2" height="3.2" fill="#000" stroke="#000" stroke-width="0.8"/>
<rect x="468.70" y="31.61" width="3.2" height="3.2" fill="#000" stroke="#000" stroke-width="0.8"/>
<rect x="487.40" y="77.09" width="3.2" height="3.2" fill="#000" stroke="#000" stroke-width="0.8"/>
<polyline points="393.5,119.9 433.2,94.2 470.3,62.1 489.0,94.2" fill="none" stroke="#000" stroke-width="1.5"/>
<circle cx="393.50" cy="119.88" r="1.8" fill="#000" stroke="#000" stroke-width="1"/>
<circle cx="433.20" cy="94.20" r="1.8" fill="#000" stroke="#000" stroke-width="1"/>
<circle cx="470.30" cy="62.10" r="1.8" fill="#000" stroke="#000" stroke-width="1"/>
<circle cx="489.00" cy="94.20" r="1.8" fill="#000" stroke="#000" stroke-width="1"/>
<polyline points="393.5,119.3 433.2,97.4 470.3,77.1 489.0,63.2" fill="none" stroke="#000" stroke-width="1.5"/>
<circle cx="393.50" cy="119.34" r="1.8" fill="#000" stroke="#000" stroke-width="1"/>
<circle cx="433.20" cy="97.41" r="1.8" fill="#000" stroke="#000" stroke-width="1"/>
<circle cx="470.30" cy="77.08" r="1.8" fill="#000" stroke="#000" stroke-width="1"/>
<circle cx="489.00" cy="63.17" r="1.8" fill="#000" stroke="#000" stroke-width="1"/>
<polyline points="393.5,110.2 433.2,96.3 470.3,53.5 489.0,86.7" fill="none" stroke="#000" stroke-width="1.5"/>
<polygon points="393.50,108.45 391.70,111.69 395.30,111.69" fill="#000" stroke="#000" stroke-width="0.8"/>
<polygon points="433.20,94.54 431.40,97.78 435.00,97.78" fill="#000" stroke="#000" stroke-width="0.8"/>
<polygon points="470.30,51.74 468.50,54.98 472.10,54.98" fill="#000" stroke="#000" stroke-width="0.8"/>
<polygon points="489.00,84.91 487.20,88.15 490.80,88.15" fill="#000" stroke="#000" stroke-width="0.8"/>
<polyline points="393.5,112.4 433.2,109.2 470.3,83.0 489.0,102.8" fill="none" stroke="#000" stroke-width="1.5"/>
<polygon points="393.50,114.19 391.70,110.95 395.30,110.95" fill="#000" stroke="#000" stroke-width="0.8"/>
<polygon points="433.20,110.98 431.40,107.74 435.00,107.74" fill="#000" stroke="#000" stroke-width="0.8"/>
<polygon points="470.30,84.77 468.50,81.53 472.10,81.53" fill="#000" stroke="#000" stroke-width="0.8"/>
<polygon points="489.00,104.56 487.20,101.32 490.80,101.32" fill="#000" stroke="#000" stroke-width="0.8"/>
<polyline points="393.5,110.2 433.2,100.6 470.3,77.1 489.0,94.2" fill="none" stroke="#000" stroke-width="1.5"/>
<polygon points="393.50,108.35 391.60,110.25 393.50,112.15 395.40,110.25" fill="#000" stroke="#000" stroke-width="0.8"/>
<polygon points="433.20,98.72 431.30,100.62 433.20,102.52 435.10,100.62" fill="#000" stroke="#000" stroke-width="0.8"/>
<polygon points="470.30,75.18 468.40,77.08 470.30,78.98 472.20,77.08" fill="#000" stroke="#000" stroke-width="0.8"/>
<polygon points="489.00,92.30 487.10,94.20 489.00,96.10 490.90,94.20" fill="#000" stroke="#000" stroke-width="0.8"/>
<text x="397.2" y="134" font-size="6.8" font-family='"Liberation Serif", serif' font-weight="bold" text-anchor="middle" stroke="#000" stroke-width="0.3">2 mo</text>
<text x="397.5" y="144.2" font-size="6.8" font-family='"Liberation Serif", serif' font-weight="bold" text-anchor="middle" stroke="#000" stroke-width="0.3">before</text>
<text x="434.2" y="134" font-size="6.8" font-family='"Liberation Serif", serif' font-weight="bold" text-anchor="middle" stroke="#000" stroke-width="0.3">1 mo</text>
<text x="433" y="144.2" font-size="6.8" font-family='"Liberation Serif", serif' font-weight="bold" text-anchor="middle" stroke="#000" stroke-width="0.3">before</text>
<text x="469.5" y="134.8" font-size="6.8" font-family='"Liberation Serif", serif' font-weight="bold" text-anchor="middle" stroke="#000" stroke-width="0.3">onset</text>
<text x="496" y="134" font-size="6.8" font-family='"Liberation Serif", serif' font-weight="bold" text-anchor="middle" stroke="#000" stroke-width="0.3">1-2 wk</text>
<text x="495.8" y="144.2" font-size="6.8" font-family='"Liberation Serif", serif' font-weight="bold" text-anchor="middle" stroke="#000" stroke-width="0.3">after</text>
<defs><pattern id="hat" width="1.6" height="1.6" patternUnits="userSpaceOnUse" patternTransform="rotate(45)"><rect width="1.6" height="1.6" fill="#777"/><rect width="1.6" height="0.8" fill="#111"/></pattern></defs>
<polygon points="408.8,145.8 413.8,145.8 413.8,158.3 415.8,158.3 411.9,176.5 406.5,158.3 408.8,158.3" fill="url(#hat)" stroke="#000" stroke-width="0.7"/>
<polygon points="470.77,142.89 480.92,156.54 482.6,155.28 490.2,172.7 475.7,160.42 477.38,159.16 467.23,145.51" fill="url(#hat)" stroke="#000" stroke-width="0.7"/>
<text x="376.3" y="178.7" font-size="9" font-family='"Liberation Serif", serif' font-weight="bold" text-anchor="start" textLength="35" lengthAdjust="spacingAndGlyphs" stroke="#000" stroke-width="0.3">P=0.0007</text>
<text x="475.1" y="178.5" font-size="9" font-family='"Liberation Serif", serif' font-weight="bold" text-anchor="start" textLength="30.6" lengthAdjust="spacingAndGlyphs" stroke="#000" stroke-width="0.3">P=0.037</text>
<line x1="372.30" y1="179.00" x2="372.30" y2="287.00" stroke="#000" stroke-width="1.2"/>
<line x1="371.80" y1="287.00" x2="437.00" y2="287.00" stroke="#000" stroke-width="1.3"/>
<line x1="408.40" y1="287.00" x2="408.40" y2="285.00" stroke="#000" stroke-width="0.8"/>
<text x="369.8" y="204.6" font-size="7.2" font-family='"Liberation Serif", serif' font-weight="bold" text-anchor="end" stroke="#000" stroke-width="0.3">40</text>
<text x="369.8" y="247.0" font-size="7.2" font-family='"Liberation Serif", serif' font-weight="bold" text-anchor="end" stroke="#000" stroke-width="0.3">20</text>
<text x="369.8" y="289.4" font-size="7.2" font-family='"Liberation Serif", serif' font-weight="bold" text-anchor="end" stroke="#000" stroke-width="0.3">0%</text>
<polyline points="390.5,193 390.5,186.7 425.6,186.7 425.6,193" fill="none" stroke="#000" stroke-width="1.3"/>
<text x="358.3" y="261" font-size="9.3" font-family='"Liberation Serif", serif' font-weight="bold" text-anchor="start" transform="rotate(-90 358.3 261)" textLength="21.8" lengthAdjust="spacingAndGlyphs" stroke="#000" stroke-width="0.3">OX40</text>
<text x="354.487" y="235.8" font-size="8.835" font-family='"Liberation Sans", sans-serif' font-weight="bold" text-anchor="start" transform="rotate(-90 354.487 235.8)" stroke="#000" stroke-width="0.2">+</text>
<text x="358.3" y="230.5" font-size="9.3" font-family='"Liberation Serif", serif' font-weight="bold" text-anchor="start" transform="rotate(-90 358.3 230.5)" stroke="#000" stroke-width="0.3">/</text>
<text x="358.3" y="217.5" font-size="9.3" font-family='"Liberation Serif", serif' font-weight="bold" text-anchor="start" transform="rotate(-90 358.3 217.5)" textLength="16.9" lengthAdjust="spacingAndGlyphs" stroke="#000" stroke-width="0.3">CD4</text>
<text x="354.487" y="200.5" font-size="8.835" font-family='"Liberation Sans", sans-serif' font-weight="bold" text-anchor="start" transform="rotate(-90 354.487 200.5)" stroke="#000" stroke-width="0.2">+</text>
<line x1="381.00" y1="255.20" x2="381.00" y2="267.90" stroke="#000" stroke-width="1.2"/>
<line x1="378.40" y1="255.20" x2="383.60" y2="255.20" stroke="#000" stroke-width="1.2"/>
<line x1="378.40" y1="267.90" x2="383.60" y2="267.90" stroke="#000" stroke-width="1.2"/>
<line x1="376.20" y1="261.50" x2="385.80" y2="261.50" stroke="#000" stroke-width="1.2"/>
<line x1="437.20" y1="219.60" x2="437.20" y2="247.80" stroke="#000" stroke-width="1.2"/>
<line x1="434.80" y1="219.60" x2="439.60" y2="219.60" stroke="#000" stroke-width="1.2"/>
<line x1="434.80" y1="247.80" x2="439.60" y2="247.80" stroke="#000" stroke-width="1.2"/>
<line x1="432.60" y1="232.80" x2="441.80" y2="232.80" stroke="#000" stroke-width="1.2"/>
<polyline points="389.9,251 427.4,206.4" fill="none" stroke="#000" stroke-width="1.2" stroke-dasharray="2.2 1.3"/>
<polyline points="389.9,254 427.4,236" fill="none" stroke="#000" stroke-width="1.2" stroke-dasharray="2.2 1.3"/>
<polyline points="389.9,253 427.4,239.5" fill="none" stroke="#000" stroke-width="1.2" stroke-dasharray="2.2 1.3"/>
<polyline points="389.9,255 427.4,254.3" fill="none" stroke="#000" stroke-width="1.2" stroke-dasharray="2.2 1.3"/>
<polyline points="389.9,271.5 427.4,221" fill="none" stroke="#000" stroke-width="1.9"/>
<polyline points="389.9,275.5 427.4,230.5" fill="none" stroke="#000" stroke-width="1.9"/>
<polyline points="389.9,260.5 427.4,255.5" fill="none" stroke="#000" stroke-width="1.5"/>
<polygon points="427.40,204.60 425.60,206.40 427.40,208.20 429.20,206.40" fill="#fff" stroke="#000" stroke-width="0.8"/>
<circle cx="427.40" cy="221.00" r="1.7" fill="#000" stroke="#000" stroke-width="1"/>
<polygon points="427.40,228.70 425.60,231.94 429.20,231.94" fill="#000" stroke="#000" stroke-width="0.8"/>
<circle cx="427.40" cy="236.00" r="1.3" fill="#fff" stroke="#000" stroke-width="0.7"/>
<polygon points="427.90,238.40 426.50,240.92 429.30,240.92" fill="#fff" stroke="#000" stroke-width="0.7"/>
<polygon points="427.40,252.80 425.60,256.04 429.20,256.04" fill="#000" stroke="#000" stroke-width="0.8"/>
<rect x="427.10" y="254.70" width="2.6" height="2.6" fill="#000" stroke="#000" stroke-width="0.8"/>
<rect x="388.40" y="259.00" width="3.0" height="3.0" fill="#000" stroke="#000" stroke-width="0.8"/>
<polygon points="389.90,249.30 388.20,252.36 391.60,252.36" fill="#000" stroke="#000" stroke-width="0.8"/>
<circle cx="389.90" cy="255.00" r="1.4" fill="#000" stroke="#000" stroke-width="1"/>
<polygon points="389.90,269.60 388.00,271.50 389.90,273.40 391.80,271.50" fill="#000" stroke="#000" stroke-width="0.8"/>
<circle cx="389.90" cy="275.50" r="1.1" fill="#000" stroke="#000" stroke-width="1"/>
<circle cx="387.10" cy="279.60" r="0.5" fill="#000" stroke="#000" stroke-width="1"/>
<text x="388" y="296.1" font-size="6.8" font-family='"Liberation Serif", serif' font-weight="bold" text-anchor="middle" stroke="#000" stroke-width="0.3">2 mo</text>
<text x="388" y="306.3" font-size="6.8" font-family='"Liberation Serif", serif' font-weight="bold" text-anchor="middle" stroke="#000" stroke-width="0.3">before</text>
<text x="425" y="296.1" font-size="6.8" font-family='"Liberation Serif", serif' font-weight="bold" text-anchor="middle" stroke="#000" stroke-width="0.3">1 mo</text>
<text x="425" y="306.3" font-size="6.8" font-family='"Liberation Serif", serif' font-weight="bold" text-anchor="middle" stroke="#000" stroke-width="0.3">before</text>
<line x1="469.00" y1="178.70" x2="469.00" y2="287.00" stroke="#000" stroke-width="1.2"/>
<line x1="468.50" y1="287.00" x2="509.60" y2="287.00" stroke="#000" stroke-width="1.3"/>
<text x="465.3" y="182.80000000000004" font-size="7.2" font-family='"Liberation Serif", serif' font-weight="bold" text-anchor="end" stroke="#000" stroke-width="0.3">100</text>
<text x="465.3" y="204.12000000000003" font-size="7.2" font-family='"Liberation Serif", serif' font-weight="bold" text-anchor="end" stroke="#000" stroke-width="0.3">80</text>
<text x="465.3" y="225.44000000000003" font-size="7.2" font-family='"Liberation Serif", serif' font-weight="bold" text-anchor="end" stroke="#000" stroke-width="0.3">60</text>
<text x="465.3" y="246.76000000000002" font-size="7.2" font-family='"Liberation Serif", serif' font-weight="bold" text-anchor="end" stroke="#000" stroke-width="0.3">40</text>
<text x="465.3" y="268.08" font-size="7.2" font-family='"Liberation Serif", serif' font-weight="bold" text-anchor="end" stroke="#000" stroke-width="0.3">20</text>
<text x="465.3" y="289.4" font-size="7.2" font-family='"Liberation Serif", serif' font-weight="bold" text-anchor="end" stroke="#000" stroke-width="0.3">0%</text>
<polyline points="481.7,187.4 481.7,182.2 501.2,182.2 501.2,187.4" fill="none" stroke="#000" stroke-width="1.2"/>
<text x="447.8" y="269.2" font-size="9.3" font-family='"Liberation Serif", serif' font-weight="bold" text-anchor="start" transform="rotate(-90 447.8 269.2)" textLength="21.8" lengthAdjust="spacingAndGlyphs" stroke="#000" stroke-width="0.3">OX40</text>
<text x="443.987" y="244" font-size="8.835" font-family='"Liberation Sans", sans-serif' font-weight="bold" text-anchor="start" transform="rotate(-90 443.987 244)" stroke="#000" stroke-width="0.2">+</text>
<text x="447.8" y="238.7" font-size="9.3" font-family='"Liberation Serif", serif' font-weight="bold" text-anchor="start" transform="rotate(-90 447.8 238.7)" stroke="#000" stroke-width="0.3">/</text>
<text x="447.8" y="226" font-size="9.3" font-family='"Liberation Serif", serif' font-weight="bold" text-anchor="start" transform="rotate(-90 447.8 226)" textLength="16.9" lengthAdjust="spacingAndGlyphs" stroke="#000" stroke-width="0.3">CD4</text>
<text x="443.987" y="209" font-size="8.835" font-family='"Liberation Sans", sans-serif' font-weight="bold" text-anchor="start" transform="rotate(-90 443.987 209)" stroke="#000" stroke-width="0.2">+</text>
<line x1="473.80" y1="206.80" x2="473.80" y2="241.70" stroke="#000" stroke-width="1.2"/>
<line x1="471.20" y1="206.80" x2="476.40" y2="206.80" stroke="#000" stroke-width="1.2"/>
<line x1="471.20" y1="241.70" x2="476.40" y2="241.70" stroke="#000" stroke-width="1.2"/>
<line x1="468.80" y1="224.30" x2="478.80" y2="224.30" stroke="#000" stroke-width="1.2"/>
<rect x="479.20" y="190.70" width="3.0" height="3.0" fill="#000" stroke="#000" stroke-width="0.8"/>
<polygon points="480.70,210.10 479.10,212.98 482.30,212.98" fill="#000" stroke="#000" stroke-width="0.8"/>
<polygon points="480.70,218.40 478.80,220.30 480.70,222.20 482.60,220.30" fill="#000" stroke="#000" stroke-width="0.8"/>
<circle cx="480.30" cy="233.00" r="1.8" fill="#000" stroke="#000" stroke-width="1"/>
<polygon points="480.30,243.90 478.80,241.20 481.80,241.20" fill="#000" stroke="#000" stroke-width="0.8"/>
<line x1="490.80" y1="237.40" x2="490.80" y2="259.00" stroke="#000" stroke-width="1.2"/>
<line x1="488.20" y1="237.40" x2="493.40" y2="237.40" stroke="#000" stroke-width="1.2"/>
<line x1="488.20" y1="259.00" x2="493.40" y2="259.00" stroke="#000" stroke-width="1.2"/>
<line x1="486.20" y1="248.30" x2="495.40" y2="248.30" stroke="#000" stroke-width="1.2"/>
<polygon points="496.80,235.80 495.70,233.82 497.90,233.82" fill="#fff" stroke="#000" stroke-width="0.6"/>
<rect x="497.30" y="237.20" width="2" height="2" fill="#fff" stroke="#000" stroke-width="0.6"/>
<circle cx="496.80" cy="241.60" r="1.1" fill="#fff" stroke="#000" stroke-width="0.6"/>
<polygon points="496.80,244.10 495.60,245.30 496.80,246.50 498.00,245.30" fill="#fff" stroke="#000" stroke-width="0.6"/>
<circle cx="496.80" cy="249.00" r="1.1" fill="#fff" stroke="#000" stroke-width="0.6"/>
<polygon points="496.80,251.40 495.70,253.38 497.90,253.38" fill="#fff" stroke="#000" stroke-width="0.6"/>
<text x="489.5" y="301.6" font-size="6.8" font-family='"Liberation Serif", serif' font-weight="bold" text-anchor="middle" stroke="#000" stroke-width="0.3">onset</text>
</svg></body></html>
